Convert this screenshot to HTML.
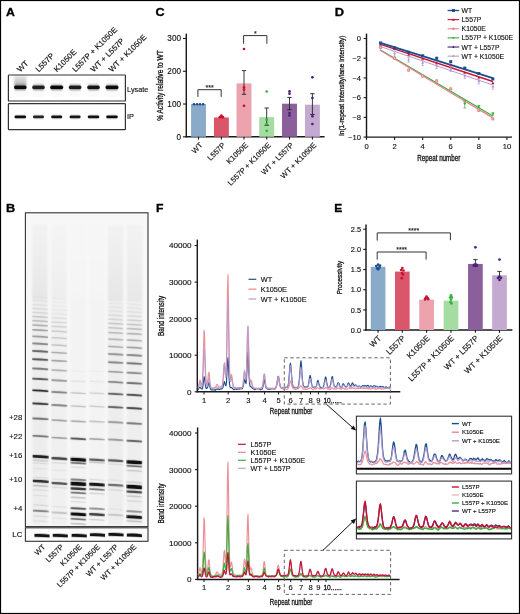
<!DOCTYPE html>
<html><head><meta charset="utf-8"><style>
html,body{margin:0;padding:0;background:#fff;}
body{width:520px;height:614px;overflow:hidden;}
svg{display:block;font-family:"Liberation Sans", sans-serif;will-change:transform;}
</style></head><body>
<svg width="520" height="614" viewBox="0 0 520 614">
<defs>
<filter id="blur1" x="-5%" y="-5%" width="110%" height="110%"><feGaussianBlur stdDeviation="0.55"/></filter>
<filter id="blurG" x="-5%" y="-5%" width="110%" height="110%"><feGaussianBlur stdDeviation="0.75"/></filter>
<filter id="blurA" x="-10%" y="-30%" width="120%" height="160%"><feGaussianBlur stdDeviation="0.75"/></filter>
<filter id="blur2" x="-10%" y="-10%" width="120%" height="120%"><feGaussianBlur stdDeviation="0.8"/></filter>
<filter id="blur3" x="-10%" y="-10%" width="120%" height="120%"><feGaussianBlur stdDeviation="1.4"/></filter>
<marker id="ah" viewBox="0 0 10 10" refX="9" refY="5" markerWidth="5" markerHeight="5" orient="auto"><path d="M0,0 L10,5 L0,10 z" fill="#111"/></marker>
</defs>
<rect x="0" y="0" width="520" height="614" fill="#fff"/>
<text x="5.90" y="16.00" font-size="11.0" text-anchor="start" font-weight="bold" fill="#000" textLength="8.9" lengthAdjust="spacingAndGlyphs" stroke="#000" stroke-width="0.3">A</text>
<text x="155.40" y="15.70" font-size="11.0" text-anchor="start" font-weight="bold" fill="#000" textLength="9.1" lengthAdjust="spacingAndGlyphs" stroke="#000" stroke-width="0.3">C</text>
<text x="334.80" y="15.70" font-size="11.0" text-anchor="start" font-weight="bold" fill="#000" textLength="9.3" lengthAdjust="spacingAndGlyphs" stroke="#000" stroke-width="0.3">D</text>
<text x="6.00" y="212.00" font-size="11.0" text-anchor="start" font-weight="bold" fill="#000" textLength="9.2" lengthAdjust="spacingAndGlyphs" stroke="#000" stroke-width="0.3">B</text>
<text x="155.90" y="212.00" font-size="11.0" text-anchor="start" font-weight="bold" fill="#000" textLength="7.5" lengthAdjust="spacingAndGlyphs" stroke="#000" stroke-width="0.3">F</text>
<text x="334.30" y="212.20" font-size="11.0" text-anchor="start" font-weight="bold" fill="#000" textLength="8.0" lengthAdjust="spacingAndGlyphs" stroke="#000" stroke-width="0.3">E</text>
<defs><linearGradient id="smearA" x1="0" y1="0" x2="0" y2="1"><stop offset="0" stop-color="#000" stop-opacity="0.1"/><stop offset="0.5" stop-color="#000" stop-opacity="0.17"/><stop offset="1" stop-color="#000" stop-opacity="0.3"/></linearGradient></defs>
<g filter="url(#blur2)">
<rect x="14.00" y="75.60" width="12.60" height="10.50" fill="url(#smearA)" stroke="none" stroke-width="1"/>
</g>
<g filter="url(#blurA)">
<rect x="14.55" y="78.00" width="11.50" height="19.00" fill="#000" stroke="none" stroke-width="1" fill-opacity="0.02" rx="3"/>
<rect x="13.75" y="83.60" width="13.10" height="7.60" fill="#000" stroke="none" stroke-width="1" fill-opacity="0.16" rx="3.5"/>
<rect x="14.05" y="85.60" width="12.50" height="3.60" fill="#000" stroke="none" stroke-width="1" fill-opacity="0.95" rx="1.8"/>
<rect x="32.75" y="78.00" width="11.50" height="19.00" fill="#000" stroke="none" stroke-width="1" fill-opacity="0.02" rx="3"/>
<rect x="31.95" y="83.60" width="13.10" height="7.60" fill="#000" stroke="none" stroke-width="1" fill-opacity="0.16" rx="3.5"/>
<rect x="32.25" y="85.60" width="12.50" height="3.60" fill="#000" stroke="none" stroke-width="1" fill-opacity="0.85" rx="1.8"/>
<rect x="50.70" y="78.00" width="12.00" height="19.00" fill="#000" stroke="none" stroke-width="1" fill-opacity="0.02" rx="3"/>
<rect x="49.90" y="83.60" width="13.60" height="7.60" fill="#000" stroke="none" stroke-width="1" fill-opacity="0.16" rx="3.5"/>
<rect x="50.20" y="85.60" width="13.00" height="3.60" fill="#000" stroke="none" stroke-width="1" fill-opacity="0.97" rx="1.8"/>
<rect x="69.35" y="78.00" width="11.50" height="19.00" fill="#000" stroke="none" stroke-width="1" fill-opacity="0.02" rx="3"/>
<rect x="68.55" y="83.60" width="13.10" height="7.60" fill="#000" stroke="none" stroke-width="1" fill-opacity="0.16" rx="3.5"/>
<rect x="68.85" y="85.60" width="12.50" height="3.60" fill="#000" stroke="none" stroke-width="1" fill-opacity="0.88" rx="1.8"/>
<rect x="87.75" y="78.00" width="11.50" height="19.00" fill="#000" stroke="none" stroke-width="1" fill-opacity="0.02" rx="3"/>
<rect x="86.95" y="83.60" width="13.10" height="7.60" fill="#000" stroke="none" stroke-width="1" fill-opacity="0.16" rx="3.5"/>
<rect x="87.25" y="85.60" width="12.50" height="3.60" fill="#000" stroke="none" stroke-width="1" fill-opacity="0.9" rx="1.8"/>
<rect x="106.00" y="78.00" width="12.00" height="19.00" fill="#000" stroke="none" stroke-width="1" fill-opacity="0.02" rx="3"/>
<rect x="105.20" y="83.60" width="13.60" height="7.60" fill="#000" stroke="none" stroke-width="1" fill-opacity="0.16" rx="3.5"/>
<rect x="105.50" y="85.60" width="13.00" height="3.60" fill="#000" stroke="none" stroke-width="1" fill-opacity="0.95" rx="1.8"/>
<rect x="14.35" y="114.20" width="11.90" height="5.40" fill="#000" stroke="none" stroke-width="1" fill-opacity="0.1" rx="2.5"/>
<rect x="14.55" y="115.40" width="11.50" height="2.90" fill="#000" stroke="none" stroke-width="1" fill-opacity="0.95" rx="1.4"/>
<rect x="32.80" y="114.20" width="11.40" height="5.40" fill="#000" stroke="none" stroke-width="1" fill-opacity="0.1" rx="2.5"/>
<rect x="33.00" y="115.40" width="11.00" height="2.90" fill="#000" stroke="none" stroke-width="1" fill-opacity="0.85" rx="1.4"/>
<rect x="51.00" y="114.20" width="11.40" height="5.40" fill="#000" stroke="none" stroke-width="1" fill-opacity="0.1" rx="2.5"/>
<rect x="51.20" y="115.40" width="11.00" height="2.90" fill="#000" stroke="none" stroke-width="1" fill-opacity="0.92" rx="1.4"/>
<rect x="69.40" y="114.20" width="11.40" height="5.40" fill="#000" stroke="none" stroke-width="1" fill-opacity="0.1" rx="2.5"/>
<rect x="69.60" y="115.40" width="11.00" height="2.90" fill="#000" stroke="none" stroke-width="1" fill-opacity="0.9" rx="1.4"/>
<rect x="87.55" y="114.20" width="11.90" height="5.40" fill="#000" stroke="none" stroke-width="1" fill-opacity="0.1" rx="2.5"/>
<rect x="87.75" y="115.40" width="11.50" height="2.90" fill="#000" stroke="none" stroke-width="1" fill-opacity="0.92" rx="1.4"/>
<rect x="106.05" y="114.20" width="11.90" height="5.40" fill="#000" stroke="none" stroke-width="1" fill-opacity="0.1" rx="2.5"/>
<rect x="106.25" y="115.40" width="11.50" height="2.90" fill="#000" stroke="none" stroke-width="1" fill-opacity="0.95" rx="1.4"/>
</g>
<rect x="8.40" y="75.00" width="117.00" height="26.00" fill="none" stroke="#333" stroke-width="1.2" rx="0.6"/>
<rect x="8.40" y="103.70" width="117.00" height="25.90" fill="none" stroke="#333" stroke-width="1.2" rx="0.6"/>
<text x="127.10" y="91.70" font-size="7.3" text-anchor="start" font-weight="normal" fill="#111" stroke="#111" stroke-width="0.14">Lysate</text>
<text x="127.10" y="118.90" font-size="7.3" text-anchor="start" font-weight="normal" fill="#111" stroke="#111" stroke-width="0.14">IP</text>
<text transform="translate(20.30,72.50) rotate(-45)" x="0" y="0" font-size="7.9" text-anchor="start" font-weight="normal" fill="#111" stroke="#111" stroke-width="0.14">WT</text>
<text transform="translate(38.66,72.50) rotate(-45)" x="0" y="0" font-size="7.9" text-anchor="start" font-weight="normal" fill="#111" stroke="#111" stroke-width="0.14">L557P</text>
<text transform="translate(57.02,72.50) rotate(-45)" x="0" y="0" font-size="7.9" text-anchor="start" font-weight="normal" fill="#111" stroke="#111" stroke-width="0.14">K1050E</text>
<text transform="translate(75.38,72.50) rotate(-45)" x="0" y="0" font-size="7.9" text-anchor="start" font-weight="normal" fill="#111" stroke="#111" stroke-width="0.14">L557P + K1050E</text>
<text transform="translate(93.74,72.50) rotate(-45)" x="0" y="0" font-size="7.9" text-anchor="start" font-weight="normal" fill="#111" stroke="#111" stroke-width="0.14">WT + L557P</text>
<text transform="translate(112.10,72.50) rotate(-45)" x="0" y="0" font-size="7.9" text-anchor="start" font-weight="normal" fill="#111" stroke="#111" stroke-width="0.14">WT + K1050E</text>
<line x1="186.30" y1="33.60" x2="186.30" y2="137.40" stroke="#1a1a1a" stroke-width="1.45"/>
<line x1="185.60" y1="136.80" x2="324.60" y2="136.80" stroke="#1a1a1a" stroke-width="1.45"/>
<line x1="183.00" y1="136.80" x2="186.30" y2="136.80" stroke="#1a1a1a" stroke-width="1.1"/>
<text x="181.00" y="139.75" font-size="8.2" text-anchor="end" font-weight="normal" fill="#111" stroke="#111" stroke-width="0.14">0</text>
<line x1="183.00" y1="104.03" x2="186.30" y2="104.03" stroke="#1a1a1a" stroke-width="1.1"/>
<text x="181.00" y="106.98" font-size="8.2" text-anchor="end" font-weight="normal" fill="#111" stroke="#111" stroke-width="0.14">100</text>
<line x1="183.00" y1="71.26" x2="186.30" y2="71.26" stroke="#1a1a1a" stroke-width="1.1"/>
<text x="181.00" y="74.21" font-size="8.2" text-anchor="end" font-weight="normal" fill="#111" stroke="#111" stroke-width="0.14">200</text>
<line x1="183.00" y1="38.49" x2="186.30" y2="38.49" stroke="#1a1a1a" stroke-width="1.1"/>
<text x="181.00" y="41.44" font-size="8.2" text-anchor="end" font-weight="normal" fill="#111" stroke="#111" stroke-width="0.14">300</text>
<text transform="translate(163.20,85.60) rotate(-90)" x="0" y="0" font-size="8.6" text-anchor="middle" font-weight="normal" fill="#111" textLength="70.5" lengthAdjust="spacingAndGlyphs" stroke="#111" stroke-width="0.3">% Activity relative to WT</text>
<rect x="191.05" y="104.03" width="14.90" height="32.77" fill="#8aaac9" stroke="none" stroke-width="1"/>
<rect x="213.95" y="117.47" width="14.90" height="19.33" fill="#d9566b" stroke="none" stroke-width="1"/>
<rect x="236.55" y="83.38" width="14.90" height="53.42" fill="#eca3ad" stroke="none" stroke-width="1"/>
<rect x="259.25" y="117.14" width="14.90" height="19.66" fill="#a4dca1" stroke="none" stroke-width="1"/>
<rect x="282.05" y="103.70" width="14.90" height="33.10" fill="#8b5f9b" stroke="none" stroke-width="1"/>
<rect x="304.95" y="104.69" width="14.90" height="32.11" fill="#c4a9d1" stroke="none" stroke-width="1"/>
<line x1="198.50" y1="136.80" x2="198.50" y2="139.60" stroke="#1a1a1a" stroke-width="1.1"/>
<line x1="221.40" y1="136.80" x2="221.40" y2="139.60" stroke="#1a1a1a" stroke-width="1.1"/>
<line x1="244.00" y1="136.80" x2="244.00" y2="139.60" stroke="#1a1a1a" stroke-width="1.1"/>
<line x1="266.70" y1="136.80" x2="266.70" y2="139.60" stroke="#1a1a1a" stroke-width="1.1"/>
<line x1="289.50" y1="136.80" x2="289.50" y2="139.60" stroke="#1a1a1a" stroke-width="1.1"/>
<line x1="312.40" y1="136.80" x2="312.40" y2="139.60" stroke="#1a1a1a" stroke-width="1.1"/>
<line x1="244.00" y1="70.60" x2="244.00" y2="94.30" stroke="#222" stroke-width="0.9"/>
<line x1="241.80" y1="70.60" x2="246.20" y2="70.60" stroke="#222" stroke-width="0.9"/>
<line x1="241.80" y1="94.30" x2="246.20" y2="94.30" stroke="#222" stroke-width="0.9"/>
<line x1="266.70" y1="108.00" x2="266.70" y2="125.30" stroke="#222" stroke-width="0.9"/>
<line x1="264.50" y1="108.00" x2="268.90" y2="108.00" stroke="#222" stroke-width="0.9"/>
<line x1="264.50" y1="125.30" x2="268.90" y2="125.30" stroke="#222" stroke-width="0.9"/>
<line x1="289.50" y1="97.40" x2="289.50" y2="109.70" stroke="#222" stroke-width="0.9"/>
<line x1="287.30" y1="97.40" x2="291.70" y2="97.40" stroke="#222" stroke-width="0.9"/>
<line x1="287.30" y1="109.70" x2="291.70" y2="109.70" stroke="#222" stroke-width="0.9"/>
<line x1="312.40" y1="93.70" x2="312.40" y2="114.50" stroke="#222" stroke-width="0.9"/>
<line x1="310.20" y1="93.70" x2="314.60" y2="93.70" stroke="#222" stroke-width="0.9"/>
<line x1="310.20" y1="114.50" x2="314.60" y2="114.50" stroke="#222" stroke-width="0.9"/>
<circle cx="193.90" cy="104.20" r="1.3" fill="#1b4f8c"/>
<circle cx="197.00" cy="104.20" r="1.3" fill="#1b4f8c"/>
<circle cx="200.00" cy="104.20" r="1.3" fill="#1b4f8c"/>
<circle cx="203.10" cy="104.20" r="1.3" fill="#1b4f8c"/>
<circle cx="219.80" cy="117.20" r="1.35" fill="#c8112f"/>
<circle cx="221.40" cy="115.60" r="1.35" fill="#c8112f"/>
<circle cx="223.00" cy="117.20" r="1.35" fill="#c8112f"/>
<circle cx="221.40" cy="117.00" r="1.35" fill="#c8112f"/>
<circle cx="244.00" cy="49.00" r="1.35" fill="#c8112f"/>
<circle cx="244.00" cy="87.40" r="1.35" fill="#c8112f"/>
<circle cx="244.00" cy="89.60" r="1.35" fill="#c8112f"/>
<circle cx="244.00" cy="105.80" r="1.35" fill="#c8112f"/>
<circle cx="266.70" cy="91.50" r="1.35" fill="#34b23c"/>
<circle cx="266.70" cy="119.70" r="1.35" fill="#34b23c"/>
<circle cx="266.70" cy="124.30" r="1.35" fill="#34b23c"/>
<circle cx="266.70" cy="130.80" r="1.35" fill="#34b23c"/>
<circle cx="289.50" cy="91.30" r="1.35" fill="#4f2279"/>
<circle cx="289.50" cy="93.70" r="1.35" fill="#4f2279"/>
<circle cx="289.50" cy="113.00" r="1.35" fill="#4f2279"/>
<circle cx="289.50" cy="115.40" r="1.35" fill="#4f2279"/>
<circle cx="312.40" cy="77.30" r="1.35" fill="#4f2279"/>
<circle cx="312.40" cy="98.00" r="1.35" fill="#4f2279"/>
<circle cx="312.40" cy="116.30" r="1.35" fill="#4f2279"/>
<circle cx="312.40" cy="124.00" r="1.35" fill="#4f2279"/>
<path d="M197.90,96.90 L197.90,89.70 L221.20,89.70 L221.20,96.90" fill="none" stroke="#333" stroke-width="1.0"/>
<text x="209.55" y="89.60" font-size="7" text-anchor="middle" font-weight="normal" fill="#222" stroke="#222" stroke-width="0.14">***</text>
<path d="M243.60,43.80 L243.60,35.60 L266.90,35.60 L266.90,43.80" fill="none" stroke="#333" stroke-width="1.0"/>
<text x="255.25" y="35.80" font-size="7" text-anchor="middle" font-weight="normal" fill="#222" stroke="#222" stroke-width="0.14">*</text>
<text transform="translate(203.00,145.60) rotate(-45)" x="0" y="0" font-size="7.55" text-anchor="end" font-weight="normal" fill="#111" stroke="#111" stroke-width="0.14">WT</text>
<text transform="translate(225.90,145.60) rotate(-45)" x="0" y="0" font-size="7.55" text-anchor="end" font-weight="normal" fill="#111" stroke="#111" stroke-width="0.14">L557P</text>
<text transform="translate(248.50,145.60) rotate(-45)" x="0" y="0" font-size="7.55" text-anchor="end" font-weight="normal" fill="#111" stroke="#111" stroke-width="0.14">K1050E</text>
<text transform="translate(271.20,145.60) rotate(-45)" x="0" y="0" font-size="7.55" text-anchor="end" font-weight="normal" fill="#111" stroke="#111" stroke-width="0.14">L557P + K1050E</text>
<text transform="translate(294.00,145.60) rotate(-45)" x="0" y="0" font-size="7.55" text-anchor="end" font-weight="normal" fill="#111" stroke="#111" stroke-width="0.14">WT + L557P</text>
<text transform="translate(316.90,145.60) rotate(-45)" x="0" y="0" font-size="7.55" text-anchor="end" font-weight="normal" fill="#111" stroke="#111" stroke-width="0.14">WT + K1050E</text>
<line x1="366.50" y1="33.60" x2="366.50" y2="137.70" stroke="#1a1a1a" stroke-width="1.45"/>
<line x1="365.90" y1="137.10" x2="512.00" y2="137.10" stroke="#1a1a1a" stroke-width="1.45"/>
<line x1="363.60" y1="38.50" x2="366.50" y2="38.50" stroke="#1a1a1a" stroke-width="1.1"/>
<text x="361.00" y="41.20" font-size="7.6" text-anchor="end" font-weight="normal" fill="#111" stroke="#111" stroke-width="0.14">0</text>
<line x1="363.60" y1="58.22" x2="366.50" y2="58.22" stroke="#1a1a1a" stroke-width="1.1"/>
<text x="361.00" y="60.92" font-size="7.6" text-anchor="end" font-weight="normal" fill="#111" stroke="#111" stroke-width="0.14">−2</text>
<line x1="363.60" y1="77.94" x2="366.50" y2="77.94" stroke="#1a1a1a" stroke-width="1.1"/>
<text x="361.00" y="80.64" font-size="7.6" text-anchor="end" font-weight="normal" fill="#111" stroke="#111" stroke-width="0.14">−4</text>
<line x1="363.60" y1="97.66" x2="366.50" y2="97.66" stroke="#1a1a1a" stroke-width="1.1"/>
<text x="361.00" y="100.36" font-size="7.6" text-anchor="end" font-weight="normal" fill="#111" stroke="#111" stroke-width="0.14">−6</text>
<line x1="363.60" y1="117.38" x2="366.50" y2="117.38" stroke="#1a1a1a" stroke-width="1.1"/>
<text x="361.00" y="120.08" font-size="7.6" text-anchor="end" font-weight="normal" fill="#111" stroke="#111" stroke-width="0.14">−8</text>
<line x1="363.60" y1="137.10" x2="366.50" y2="137.10" stroke="#1a1a1a" stroke-width="1.1"/>
<text x="361.00" y="139.80" font-size="7.6" text-anchor="end" font-weight="normal" fill="#111" stroke="#111" stroke-width="0.14">−10</text>
<line x1="366.50" y1="137.10" x2="366.50" y2="139.90" stroke="#1a1a1a" stroke-width="1.1"/>
<text x="366.50" y="149.30" font-size="7.6" text-anchor="middle" font-weight="normal" fill="#111" stroke="#111" stroke-width="0.14">0</text>
<line x1="394.58" y1="137.10" x2="394.58" y2="139.90" stroke="#1a1a1a" stroke-width="1.1"/>
<text x="394.58" y="149.30" font-size="7.6" text-anchor="middle" font-weight="normal" fill="#111" stroke="#111" stroke-width="0.14">2</text>
<line x1="422.66" y1="137.10" x2="422.66" y2="139.90" stroke="#1a1a1a" stroke-width="1.1"/>
<text x="422.66" y="149.30" font-size="7.6" text-anchor="middle" font-weight="normal" fill="#111" stroke="#111" stroke-width="0.14">4</text>
<line x1="450.74" y1="137.10" x2="450.74" y2="139.90" stroke="#1a1a1a" stroke-width="1.1"/>
<text x="450.74" y="149.30" font-size="7.6" text-anchor="middle" font-weight="normal" fill="#111" stroke="#111" stroke-width="0.14">6</text>
<line x1="478.82" y1="137.10" x2="478.82" y2="139.90" stroke="#1a1a1a" stroke-width="1.1"/>
<text x="478.82" y="149.30" font-size="7.6" text-anchor="middle" font-weight="normal" fill="#111" stroke="#111" stroke-width="0.14">8</text>
<line x1="506.90" y1="137.10" x2="506.90" y2="139.90" stroke="#1a1a1a" stroke-width="1.1"/>
<text x="506.90" y="149.30" font-size="7.6" text-anchor="middle" font-weight="normal" fill="#111" stroke="#111" stroke-width="0.14">10</text>
<text x="438.80" y="161.20" font-size="8.4" text-anchor="middle" font-weight="normal" fill="#111" textLength="43.2" lengthAdjust="spacingAndGlyphs" stroke="#111" stroke-width="0.3">Repeat number</text>
<text transform="translate(343.60,85.60) rotate(-90)" x="0" y="0" font-size="8" text-anchor="middle" font-weight="normal" fill="#111" textLength="100.3" lengthAdjust="spacingAndGlyphs" stroke="#111" stroke-width="0.3">ln(1-repeat intensity/lane intensity)</text>
<line x1="380.54" y1="46.59" x2="492.86" y2="85.04" stroke="#b99bd0" stroke-width="1.0"/>
<line x1="380.54" y1="49.94" x2="492.86" y2="116.00" stroke="#34b23c" stroke-width="1.2"/>
<line x1="380.54" y1="50.53" x2="492.86" y2="117.87" stroke="#e8848f" stroke-width="1.2"/>
<line x1="380.54" y1="44.42" x2="492.86" y2="81.49" stroke="#c8112f" stroke-width="1.4"/>
<line x1="380.54" y1="42.94" x2="492.86" y2="78.14" stroke="#1b4f8c" stroke-width="1.9"/>
<line x1="380.54" y1="45.40" x2="380.54" y2="50.33" stroke="#b99bd0" stroke-width="0.7"/>
<line x1="379.24" y1="45.40" x2="381.84" y2="45.40" stroke="#b99bd0" stroke-width="0.7"/>
<line x1="379.24" y1="50.33" x2="381.84" y2="50.33" stroke="#b99bd0" stroke-width="0.7"/>
<path d="M379.14,47.87 L380.54,46.47 L381.94,47.87 L380.54,49.27z" fill="#b99bd0"/>
<line x1="394.58" y1="51.32" x2="394.58" y2="56.25" stroke="#b99bd0" stroke-width="0.7"/>
<line x1="393.28" y1="51.32" x2="395.88" y2="51.32" stroke="#b99bd0" stroke-width="0.7"/>
<line x1="393.28" y1="56.25" x2="395.88" y2="56.25" stroke="#b99bd0" stroke-width="0.7"/>
<path d="M393.18,53.78 L394.58,52.38 L395.98,53.78 L394.58,55.18z" fill="#b99bd0"/>
<line x1="408.62" y1="57.23" x2="408.62" y2="62.16" stroke="#b99bd0" stroke-width="0.7"/>
<line x1="407.32" y1="57.23" x2="409.92" y2="57.23" stroke="#b99bd0" stroke-width="0.7"/>
<line x1="407.32" y1="62.16" x2="409.92" y2="62.16" stroke="#b99bd0" stroke-width="0.7"/>
<path d="M407.22,59.70 L408.62,58.30 L410.02,59.70 L408.62,61.10z" fill="#b99bd0"/>
<line x1="422.66" y1="60.69" x2="422.66" y2="65.61" stroke="#b99bd0" stroke-width="0.7"/>
<line x1="421.36" y1="60.69" x2="423.96" y2="60.69" stroke="#b99bd0" stroke-width="0.7"/>
<line x1="421.36" y1="65.61" x2="423.96" y2="65.61" stroke="#b99bd0" stroke-width="0.7"/>
<path d="M421.26,63.15 L422.66,61.75 L424.06,63.15 L422.66,64.55z" fill="#b99bd0"/>
<line x1="436.70" y1="63.64" x2="436.70" y2="68.57" stroke="#b99bd0" stroke-width="0.7"/>
<line x1="435.40" y1="63.64" x2="438.00" y2="63.64" stroke="#b99bd0" stroke-width="0.7"/>
<line x1="435.40" y1="68.57" x2="438.00" y2="68.57" stroke="#b99bd0" stroke-width="0.7"/>
<path d="M435.30,66.11 L436.70,64.71 L438.10,66.11 L436.70,67.51z" fill="#b99bd0"/>
<line x1="450.74" y1="66.60" x2="450.74" y2="71.53" stroke="#b99bd0" stroke-width="0.7"/>
<line x1="449.44" y1="66.60" x2="452.04" y2="66.60" stroke="#b99bd0" stroke-width="0.7"/>
<line x1="449.44" y1="71.53" x2="452.04" y2="71.53" stroke="#b99bd0" stroke-width="0.7"/>
<path d="M449.34,69.07 L450.74,67.67 L452.14,69.07 L450.74,70.47z" fill="#b99bd0"/>
<line x1="464.78" y1="73.50" x2="464.78" y2="78.43" stroke="#b99bd0" stroke-width="0.7"/>
<line x1="463.48" y1="73.50" x2="466.08" y2="73.50" stroke="#b99bd0" stroke-width="0.7"/>
<line x1="463.48" y1="78.43" x2="466.08" y2="78.43" stroke="#b99bd0" stroke-width="0.7"/>
<path d="M463.38,75.97 L464.78,74.57 L466.18,75.97 L464.78,77.37z" fill="#b99bd0"/>
<line x1="478.82" y1="78.93" x2="478.82" y2="83.86" stroke="#b99bd0" stroke-width="0.7"/>
<line x1="477.52" y1="78.93" x2="480.12" y2="78.93" stroke="#b99bd0" stroke-width="0.7"/>
<line x1="477.52" y1="83.86" x2="480.12" y2="83.86" stroke="#b99bd0" stroke-width="0.7"/>
<path d="M477.42,81.39 L478.82,79.99 L480.22,81.39 L478.82,82.79z" fill="#b99bd0"/>
<line x1="492.86" y1="84.35" x2="492.86" y2="89.28" stroke="#b99bd0" stroke-width="0.7"/>
<line x1="491.56" y1="84.35" x2="494.16" y2="84.35" stroke="#b99bd0" stroke-width="0.7"/>
<line x1="491.56" y1="89.28" x2="494.16" y2="89.28" stroke="#b99bd0" stroke-width="0.7"/>
<path d="M491.46,86.81 L492.86,85.41 L494.26,86.81 L492.86,88.21z" fill="#b99bd0"/>
<line x1="380.54" y1="46.39" x2="380.54" y2="48.36" stroke="#e8848f" stroke-width="0.7"/>
<line x1="379.24" y1="46.39" x2="381.84" y2="46.39" stroke="#e8848f" stroke-width="0.7"/>
<line x1="379.24" y1="48.36" x2="381.84" y2="48.36" stroke="#e8848f" stroke-width="0.7"/>
<circle cx="380.54" cy="47.37" r="1.6" fill="#e8848f"/>
<circle cx="380.54" cy="47.37" r="0.6" fill="#f6c9cf"/>
<line x1="394.58" y1="57.23" x2="394.58" y2="59.21" stroke="#e8848f" stroke-width="0.7"/>
<line x1="393.28" y1="57.23" x2="395.88" y2="57.23" stroke="#e8848f" stroke-width="0.7"/>
<line x1="393.28" y1="59.21" x2="395.88" y2="59.21" stroke="#e8848f" stroke-width="0.7"/>
<circle cx="394.58" cy="58.22" r="1.6" fill="#e8848f"/>
<circle cx="394.58" cy="58.22" r="0.6" fill="#f6c9cf"/>
<line x1="408.62" y1="69.07" x2="408.62" y2="71.04" stroke="#e8848f" stroke-width="0.7"/>
<line x1="407.32" y1="69.07" x2="409.92" y2="69.07" stroke="#e8848f" stroke-width="0.7"/>
<line x1="407.32" y1="71.04" x2="409.92" y2="71.04" stroke="#e8848f" stroke-width="0.7"/>
<circle cx="408.62" cy="70.05" r="1.6" fill="#e8848f"/>
<circle cx="408.62" cy="70.05" r="0.6" fill="#f6c9cf"/>
<line x1="422.66" y1="74.98" x2="422.66" y2="76.95" stroke="#e8848f" stroke-width="0.7"/>
<line x1="421.36" y1="74.98" x2="423.96" y2="74.98" stroke="#e8848f" stroke-width="0.7"/>
<line x1="421.36" y1="76.95" x2="423.96" y2="76.95" stroke="#e8848f" stroke-width="0.7"/>
<circle cx="422.66" cy="75.97" r="1.6" fill="#e8848f"/>
<circle cx="422.66" cy="75.97" r="0.6" fill="#f6c9cf"/>
<line x1="436.70" y1="79.91" x2="436.70" y2="81.88" stroke="#e8848f" stroke-width="0.7"/>
<line x1="435.40" y1="79.91" x2="438.00" y2="79.91" stroke="#e8848f" stroke-width="0.7"/>
<line x1="435.40" y1="81.88" x2="438.00" y2="81.88" stroke="#e8848f" stroke-width="0.7"/>
<circle cx="436.70" cy="80.90" r="1.6" fill="#e8848f"/>
<circle cx="436.70" cy="80.90" r="0.6" fill="#f6c9cf"/>
<line x1="450.74" y1="87.80" x2="450.74" y2="89.77" stroke="#e8848f" stroke-width="0.7"/>
<line x1="449.44" y1="87.80" x2="452.04" y2="87.80" stroke="#e8848f" stroke-width="0.7"/>
<line x1="449.44" y1="89.77" x2="452.04" y2="89.77" stroke="#e8848f" stroke-width="0.7"/>
<circle cx="450.74" cy="88.79" r="1.6" fill="#e8848f"/>
<circle cx="450.74" cy="88.79" r="0.6" fill="#f6c9cf"/>
<line x1="464.78" y1="100.12" x2="464.78" y2="102.10" stroke="#e8848f" stroke-width="0.7"/>
<line x1="463.48" y1="100.12" x2="466.08" y2="100.12" stroke="#e8848f" stroke-width="0.7"/>
<line x1="463.48" y1="102.10" x2="466.08" y2="102.10" stroke="#e8848f" stroke-width="0.7"/>
<circle cx="464.78" cy="101.11" r="1.6" fill="#e8848f"/>
<circle cx="464.78" cy="101.11" r="0.6" fill="#f6c9cf"/>
<line x1="478.82" y1="109.49" x2="478.82" y2="111.46" stroke="#e8848f" stroke-width="0.7"/>
<line x1="477.52" y1="109.49" x2="480.12" y2="109.49" stroke="#e8848f" stroke-width="0.7"/>
<line x1="477.52" y1="111.46" x2="480.12" y2="111.46" stroke="#e8848f" stroke-width="0.7"/>
<circle cx="478.82" cy="110.48" r="1.6" fill="#e8848f"/>
<circle cx="478.82" cy="110.48" r="0.6" fill="#f6c9cf"/>
<line x1="492.86" y1="117.87" x2="492.86" y2="119.84" stroke="#e8848f" stroke-width="0.7"/>
<line x1="491.56" y1="117.87" x2="494.16" y2="117.87" stroke="#e8848f" stroke-width="0.7"/>
<line x1="491.56" y1="119.84" x2="494.16" y2="119.84" stroke="#e8848f" stroke-width="0.7"/>
<circle cx="492.86" cy="118.86" r="1.6" fill="#e8848f"/>
<circle cx="492.86" cy="118.86" r="0.6" fill="#f6c9cf"/>
<line x1="464.78" y1="100.12" x2="464.78" y2="108.01" stroke="#34b23c" stroke-width="0.7"/>
<line x1="463.48" y1="100.12" x2="466.08" y2="100.12" stroke="#34b23c" stroke-width="0.7"/>
<line x1="463.48" y1="108.01" x2="466.08" y2="108.01" stroke="#34b23c" stroke-width="0.7"/>
<path d="M463.28,102.97 L466.28,102.97 L464.78,105.27z" fill="#34b23c"/>
<line x1="478.82" y1="105.35" x2="478.82" y2="107.72" stroke="#34b23c" stroke-width="0.7"/>
<line x1="477.52" y1="105.35" x2="480.12" y2="105.35" stroke="#34b23c" stroke-width="0.7"/>
<line x1="477.52" y1="107.72" x2="480.12" y2="107.72" stroke="#34b23c" stroke-width="0.7"/>
<path d="M477.32,105.43 L480.32,105.43 L478.82,107.73z" fill="#34b23c"/>
<line x1="492.86" y1="112.75" x2="492.86" y2="115.11" stroke="#34b23c" stroke-width="0.7"/>
<line x1="491.56" y1="112.75" x2="494.16" y2="112.75" stroke="#34b23c" stroke-width="0.7"/>
<line x1="491.56" y1="115.11" x2="494.16" y2="115.11" stroke="#34b23c" stroke-width="0.7"/>
<path d="M491.36,112.83 L494.36,112.83 L492.86,115.13z" fill="#34b23c"/>
<path d="M379.04,45.52 L382.04,45.52 L380.54,43.12z" fill="#c8112f"/>
<path d="M393.08,49.95 L396.08,49.95 L394.58,47.55z" fill="#c8112f"/>
<path d="M407.12,55.87 L410.12,55.87 L408.62,53.47z" fill="#c8112f"/>
<path d="M421.16,59.81 L424.16,59.81 L422.66,57.41z" fill="#c8112f"/>
<path d="M435.20,64.25 L438.20,64.25 L436.70,61.85z" fill="#c8112f"/>
<path d="M449.24,65.73 L452.24,65.73 L450.74,63.33z" fill="#c8112f"/>
<path d="M463.28,73.62 L466.28,73.62 L464.78,71.22z" fill="#c8112f"/>
<path d="M477.32,78.55 L480.32,78.55 L478.82,76.15z" fill="#c8112f"/>
<path d="M491.36,83.97 L494.36,83.97 L492.86,81.57z" fill="#c8112f"/>
<rect x="379.04" y="41.44" width="3.00" height="3.00" fill="#1b4f8c" stroke="none" stroke-width="1"/>
<rect x="393.08" y="46.37" width="3.00" height="3.00" fill="#1b4f8c" stroke="none" stroke-width="1"/>
<rect x="407.12" y="50.80" width="3.00" height="3.00" fill="#1b4f8c" stroke="none" stroke-width="1"/>
<rect x="421.16" y="54.25" width="3.00" height="3.00" fill="#1b4f8c" stroke="none" stroke-width="1"/>
<rect x="435.20" y="56.72" width="3.00" height="3.00" fill="#1b4f8c" stroke="none" stroke-width="1"/>
<rect x="449.24" y="60.17" width="3.00" height="3.00" fill="#1b4f8c" stroke="none" stroke-width="1"/>
<rect x="463.28" y="66.58" width="3.00" height="3.00" fill="#1b4f8c" stroke="none" stroke-width="1"/>
<rect x="477.32" y="72.00" width="3.00" height="3.00" fill="#1b4f8c" stroke="none" stroke-width="1"/>
<rect x="491.36" y="77.43" width="3.00" height="3.00" fill="#1b4f8c" stroke="none" stroke-width="1"/>
<line x1="447.60" y1="10.50" x2="459.20" y2="10.50" stroke="#1b4f8c" stroke-width="1.3"/>
<rect x="451.90" y="9.00" width="3.00" height="3.00" fill="#1b4f8c" stroke="none" stroke-width="1"/>
<text x="461.60" y="13.00" font-size="6.8" text-anchor="start" font-weight="normal" fill="#111" stroke="#111" stroke-width="0.14">WT</text>
<line x1="447.60" y1="19.63" x2="459.20" y2="19.63" stroke="#c8112f" stroke-width="1.1"/>
<path d="M452.00,20.63 L454.80,20.63 L453.40,18.33z" fill="#c8112f"/>
<text x="461.60" y="22.13" font-size="6.8" text-anchor="start" font-weight="normal" fill="#111" stroke="#111" stroke-width="0.14">L557P</text>
<line x1="447.60" y1="28.76" x2="459.20" y2="28.76" stroke="#e8848f" stroke-width="1.1"/>
<circle cx="453.40" cy="28.76" r="1.2" fill="#e8848f"/>
<text x="461.60" y="31.26" font-size="6.8" text-anchor="start" font-weight="normal" fill="#111" stroke="#111" stroke-width="0.14">K1050E</text>
<line x1="447.60" y1="37.89" x2="459.20" y2="37.89" stroke="#34b23c" stroke-width="1.1"/>
<path d="M452.00,36.89 L454.80,36.89 L453.40,39.19z" fill="#34b23c"/>
<text x="461.60" y="40.39" font-size="6.8" text-anchor="start" font-weight="normal" fill="#111" stroke="#111" stroke-width="0.14">L557P + K1050E</text>
<line x1="447.60" y1="47.02" x2="459.20" y2="47.02" stroke="#4f2279" stroke-width="1.1"/>
<path d="M452.10,47.02 L453.40,45.72 L454.70,47.02 L453.40,48.32z" fill="#4f2279"/>
<text x="461.60" y="49.52" font-size="6.8" text-anchor="start" font-weight="normal" fill="#111" stroke="#111" stroke-width="0.14">WT + L557P</text>
<line x1="447.60" y1="56.15" x2="459.20" y2="56.15" stroke="#b99bd0" stroke-width="1.1"/>
<path d="M452.10,56.15 L453.40,54.85 L454.70,56.15 L453.40,57.45z" fill="#b99bd0"/>
<text x="461.60" y="58.65" font-size="6.8" text-anchor="start" font-weight="normal" fill="#111" stroke="#111" stroke-width="0.14">WT + K1050E</text>
<rect x="25.40" y="212.80" width="122.60" height="313.80" fill="#f7f7f7" stroke="none" stroke-width="1"/>
<defs><linearGradient id="smB" x1="0" y1="0" x2="0" y2="1"><stop offset="0" stop-color="#000" stop-opacity="0.02"/><stop offset="0.6" stop-color="#000" stop-opacity="0.045"/><stop offset="1" stop-color="#000" stop-opacity="0.07"/></linearGradient></defs>
<g filter="url(#blur2)">
<rect x="32.10" y="225" width="15.30" height="75" fill="url(#smB)" opacity="1.0"/>
<rect x="32.10" y="300" width="15.30" height="225" fill="#000" opacity="0.040"/>
<rect x="51.35" y="225" width="15.30" height="75" fill="url(#smB)" opacity="0.55"/>
<rect x="51.35" y="300" width="15.30" height="225" fill="#000" opacity="0.027"/>
<rect x="70.35" y="225" width="15.30" height="75" fill="url(#smB)" opacity="0.15"/>
<rect x="70.35" y="300" width="15.30" height="225" fill="#000" opacity="0.014"/>
<rect x="89.05" y="225" width="15.30" height="75" fill="url(#smB)" opacity="0.15"/>
<rect x="89.05" y="300" width="15.30" height="225" fill="#000" opacity="0.014"/>
<rect x="107.95" y="225" width="15.30" height="75" fill="url(#smB)" opacity="1.0"/>
<rect x="107.95" y="300" width="15.30" height="225" fill="#000" opacity="0.040"/>
<rect x="126.85" y="225" width="15.30" height="75" fill="url(#smB)" opacity="0.9"/>
<rect x="126.85" y="300" width="15.30" height="225" fill="#000" opacity="0.037"/>
</g>
<defs><linearGradient id="laneG" x1="0" y1="0" x2="1" y2="0"><stop offset="0" stop-color="#fff" stop-opacity="0.5"/><stop offset="0.12" stop-color="#fff" stop-opacity="1"/><stop offset="0.88" stop-color="#fff" stop-opacity="1"/><stop offset="1" stop-color="#fff" stop-opacity="0.5"/></linearGradient><mask id="laneM" maskContentUnits="objectBoundingBox"><rect x="0" y="0" width="1" height="1" fill="url(#laneG)"/></mask></defs>
<g filter="url(#blurG)">
<g mask="url(#laneM)">
<path d="M32.44,434.01 Q40.59,434.11 48.74,435.01 L48.74,438.39 Q40.59,437.99 32.44,437.49z" fill="#000" fill-opacity="0.080"/>
<path d="M32.44,434.88 Q40.59,434.98 48.74,435.88 L48.74,437.52 Q40.59,437.12 32.44,436.62z" fill="#000" fill-opacity="0.460"/>
<path d="M32.33,416.61 Q40.48,416.71 48.63,417.61 L48.63,420.99 Q40.48,420.59 32.33,420.09z" fill="#000" fill-opacity="0.080"/>
<path d="M32.33,417.48 Q40.48,417.58 48.63,418.48 L48.63,420.12 Q40.48,419.72 32.33,419.22z" fill="#000" fill-opacity="0.460"/>
<path d="M32.24,401.61 Q40.39,401.71 48.54,402.61 L48.54,405.99 Q40.39,405.59 32.24,405.09z" fill="#000" fill-opacity="0.120"/>
<path d="M32.24,402.48 Q40.39,402.58 48.54,403.48 L48.54,405.12 Q40.39,404.72 32.24,404.22z" fill="#000" fill-opacity="0.690"/>
<path d="M32.16,388.51 Q40.31,388.61 48.46,389.51 L48.46,392.89 Q40.31,392.49 32.16,391.99z" fill="#000" fill-opacity="0.136"/>
<path d="M32.16,389.38 Q40.31,389.48 48.46,390.38 L48.46,392.02 Q40.31,391.62 32.16,391.12z" fill="#000" fill-opacity="0.782"/>
<path d="M32.09,376.81 Q40.24,376.91 48.39,377.81 L48.39,381.19 Q40.24,380.79 32.09,380.29z" fill="#000" fill-opacity="0.096"/>
<path d="M32.09,377.68 Q40.24,377.78 48.39,378.68 L48.39,380.32 Q40.24,379.92 32.09,379.42z" fill="#000" fill-opacity="0.552"/>
<path d="M32.02,366.71 Q40.17,366.81 48.32,367.71 L48.32,371.09 Q40.17,370.69 32.02,370.19z" fill="#000" fill-opacity="0.072"/>
<path d="M32.02,367.58 Q40.17,367.68 48.32,368.58 L48.32,370.22 Q40.17,369.82 32.02,369.32z" fill="#000" fill-opacity="0.414"/>
<path d="M31.97,357.31 Q40.12,357.41 48.27,358.31 L48.27,361.69 Q40.12,361.29 31.97,360.79z" fill="#000" fill-opacity="0.099"/>
<path d="M31.97,358.18 Q40.12,358.28 48.27,359.18 L48.27,360.82 Q40.12,360.42 31.97,359.92z" fill="#000" fill-opacity="0.570"/>
<path d="M31.92,349.21 Q40.07,349.31 48.22,350.21 L48.22,353.59 Q40.07,353.19 31.92,352.69z" fill="#000" fill-opacity="0.088"/>
<path d="M31.92,350.08 Q40.07,350.18 48.22,351.08 L48.22,352.72 Q40.07,352.32 31.92,351.82z" fill="#000" fill-opacity="0.506"/>
<path d="M31.87,341.71 Q40.02,341.81 48.17,342.71 L48.17,346.09 Q40.02,345.69 31.87,345.19z" fill="#000" fill-opacity="0.064"/>
<path d="M31.87,342.58 Q40.02,342.68 48.17,343.58 L48.17,345.22 Q40.02,344.82 31.87,344.32z" fill="#000" fill-opacity="0.368"/>
<path d="M31.82,334.51 Q39.97,334.61 48.12,335.51 L48.12,338.89 Q39.97,338.49 31.82,337.99z" fill="#000" fill-opacity="0.051"/>
<path d="M31.82,335.38 Q39.97,335.48 48.12,336.38 L48.12,338.02 Q39.97,337.62 31.82,337.12z" fill="#000" fill-opacity="0.294"/>
<path d="M31.78,328.22 Q39.93,328.32 48.08,329.22 L48.08,332.18 Q39.93,331.78 31.78,331.28z" fill="#000" fill-opacity="0.048"/>
<path d="M31.78,329.04 Q39.93,329.14 48.08,330.04 L48.08,331.36 Q39.93,330.96 31.78,330.46z" fill="#000" fill-opacity="0.276"/>
<path d="M31.75,323.42 Q39.90,323.52 48.05,324.42 L48.05,327.38 Q39.90,326.98 31.75,326.48z" fill="#000" fill-opacity="0.038"/>
<path d="M31.75,324.24 Q39.90,324.34 48.05,325.24 L48.05,326.56 Q39.90,326.16 31.75,325.66z" fill="#000" fill-opacity="0.221"/>
<path d="M31.73,319.12 Q39.88,319.22 48.03,320.12 L48.03,323.08 Q39.88,322.68 31.73,322.18z" fill="#000" fill-opacity="0.030"/>
<path d="M31.73,319.94 Q39.88,320.04 48.03,320.94 L48.03,322.26 Q39.88,321.86 31.73,321.36z" fill="#000" fill-opacity="0.175"/>
<path d="M31.70,314.92 Q39.85,315.02 48.00,315.92 L48.00,318.88 Q39.85,318.48 31.70,317.98z" fill="#000" fill-opacity="0.022"/>
<path d="M31.70,315.74 Q39.85,315.84 48.00,316.74 L48.00,318.06 Q39.85,317.66 31.70,317.16z" fill="#000" fill-opacity="0.126"/>
<path d="M31.68,310.82 Q39.83,310.92 47.98,311.82 L47.98,314.78 Q39.83,314.38 31.68,313.88z" fill="#000" fill-opacity="0.016"/>
<path d="M31.68,311.64 Q39.83,311.74 47.98,312.64 L47.98,313.96 Q39.83,313.56 31.68,313.06z" fill="#000" fill-opacity="0.090"/>
<path d="M31.65,306.82 Q39.80,306.92 47.95,307.82 L47.95,310.78 Q39.80,310.38 31.65,309.88z" fill="#000" fill-opacity="0.011"/>
<path d="M31.65,307.64 Q39.80,307.74 47.95,308.64 L47.95,309.96 Q39.80,309.56 31.65,309.06z" fill="#000" fill-opacity="0.065"/>
<path d="M31.63,302.92 Q39.78,303.02 47.93,303.92 L47.93,306.88 Q39.78,306.48 31.63,305.98z" fill="#000" fill-opacity="0.008"/>
<path d="M31.63,303.74 Q39.78,303.84 47.93,304.74 L47.93,306.06 Q39.78,305.66 31.63,305.16z" fill="#000" fill-opacity="0.047"/>
<path d="M31.60,299.12 Q39.75,299.22 47.90,300.12 L47.90,303.08 Q39.75,302.68 31.60,302.18z" fill="#000" fill-opacity="0.006"/>
<path d="M31.60,299.94 Q39.75,300.04 47.90,300.94 L47.90,302.26 Q39.75,301.86 31.60,301.36z" fill="#000" fill-opacity="0.034"/>
<path d="M31.60,295.42 Q39.75,295.52 47.90,296.42 L47.90,299.38 Q39.75,298.98 31.60,298.48z" fill="#000" fill-opacity="0.004"/>
<path d="M31.60,296.24 Q39.75,296.34 47.90,297.24 L47.90,298.56 Q39.75,298.16 31.60,297.66z" fill="#000" fill-opacity="0.024"/>
<path d="M32.57,454.12 Q40.72,454.22 48.87,455.12 L48.87,459.48 Q40.72,459.08 32.57,458.58z" fill="#000" fill-opacity="0.147"/>
<path d="M32.57,455.10 Q40.72,455.20 48.87,456.10 L48.87,458.50 Q40.72,458.10 32.57,457.60z" fill="#000" fill-opacity="0.846"/>
<path d="M32.59,458.72 Q40.74,458.82 48.89,459.72 L48.89,462.68 Q40.74,462.28 32.59,461.78z" fill="#000" fill-opacity="0.022"/>
<path d="M32.59,459.54 Q40.74,459.64 48.89,460.54 L48.89,461.86 Q40.74,461.46 32.59,460.96z" fill="#000" fill-opacity="0.127"/>
<path d="M32.61,461.56 Q40.76,461.66 48.91,462.56 L48.91,465.24 Q40.76,464.84 32.61,464.34z" fill="#000" fill-opacity="0.012"/>
<path d="M32.61,462.35 Q40.76,462.45 48.91,463.35 L48.91,464.45 Q40.76,464.05 32.61,463.55z" fill="#000" fill-opacity="0.071"/>
<path d="M32.64,466.86 Q40.79,466.96 48.94,467.86 L48.94,470.54 Q40.79,470.14 32.64,469.64z" fill="#000" fill-opacity="0.009"/>
<path d="M32.64,467.65 Q40.79,467.75 48.94,468.65 L48.94,469.75 Q40.79,469.35 32.64,468.85z" fill="#000" fill-opacity="0.051"/>
<path d="M32.70,475.86 Q40.85,475.96 49.00,476.86 L49.00,479.54 Q40.85,479.14 32.70,478.64z" fill="#000" fill-opacity="0.012"/>
<path d="M32.70,476.65 Q40.85,476.75 49.00,477.65 L49.00,478.75 Q40.85,478.35 32.70,477.85z" fill="#000" fill-opacity="0.071"/>
<path d="M32.72,478.86 Q40.87,478.96 49.02,479.86 L49.02,483.94 Q40.87,483.54 32.72,483.04z" fill="#000" fill-opacity="0.136"/>
<path d="M32.72,479.81 Q40.87,479.91 49.02,480.81 L49.02,482.99 Q40.87,482.59 32.72,482.09z" fill="#000" fill-opacity="0.782"/>
<path d="M32.75,484.02 Q40.90,484.12 49.05,485.02 L49.05,487.98 Q40.90,487.58 32.75,487.08z" fill="#000" fill-opacity="0.026"/>
<path d="M32.75,484.84 Q40.90,484.94 49.05,485.84 L49.05,487.16 Q40.90,486.76 32.75,486.26z" fill="#000" fill-opacity="0.152"/>
<path d="M32.77,488.26 Q40.92,488.36 49.07,489.26 L49.07,491.94 Q40.92,491.54 32.77,491.04z" fill="#000" fill-opacity="0.011"/>
<path d="M32.77,489.05 Q40.92,489.15 49.07,490.05 L49.07,491.15 Q40.92,490.75 32.77,490.25z" fill="#000" fill-opacity="0.061"/>
<path d="M32.81,493.86 Q40.96,493.96 49.11,494.86 L49.11,497.54 Q40.96,497.14 32.81,496.64z" fill="#000" fill-opacity="0.009"/>
<path d="M32.81,494.65 Q40.96,494.75 49.11,495.65 L49.11,496.75 Q40.96,496.35 32.81,495.85z" fill="#000" fill-opacity="0.051"/>
<path d="M32.87,503.49 Q41.02,503.59 49.17,504.49 L49.17,507.31 Q41.02,506.91 32.87,506.41z" fill="#000" fill-opacity="0.013"/>
<path d="M32.87,504.30 Q41.02,504.40 49.17,505.30 L49.17,506.50 Q41.02,506.10 32.87,505.60z" fill="#000" fill-opacity="0.076"/>
<path d="M32.90,508.74 Q41.05,508.84 49.20,509.74 L49.20,513.26 Q41.05,512.86 32.90,512.36z" fill="#000" fill-opacity="0.067"/>
<path d="M32.90,509.63 Q41.05,509.73 49.20,510.63 L49.20,512.37 Q41.05,511.97 32.90,511.47z" fill="#000" fill-opacity="0.386"/>
<path d="M32.90,514.56 Q41.05,514.66 49.20,515.56 L49.20,518.24 Q41.05,517.84 32.90,517.34z" fill="#000" fill-opacity="0.011"/>
<path d="M32.90,515.35 Q41.05,515.45 49.20,516.35 L49.20,517.45 Q41.05,517.05 32.90,516.55z" fill="#000" fill-opacity="0.061"/>
<path d="M32.90,519.46 Q41.05,519.56 49.20,520.46 L49.20,523.14 Q41.05,522.74 32.90,522.24z" fill="#000" fill-opacity="0.009"/>
<path d="M32.90,520.25 Q41.05,520.35 49.20,521.25 L49.20,522.35 Q41.05,521.95 32.90,521.45z" fill="#000" fill-opacity="0.051"/>
</g>
<g mask="url(#laneM)">
<path d="M51.24,436.00 Q59.39,436.10 67.54,437.00 L67.54,439.96 Q59.39,439.56 51.24,439.06z" fill="#000" fill-opacity="0.048"/>
<path d="M51.24,436.83 Q59.39,436.93 67.54,437.83 L67.54,439.14 Q59.39,438.74 51.24,438.24z" fill="#000" fill-opacity="0.276"/>
<path d="M51.19,418.52 Q59.34,418.62 67.49,419.52 L67.49,422.49 Q59.34,422.09 51.19,421.59z" fill="#000" fill-opacity="0.048"/>
<path d="M51.19,419.35 Q59.34,419.45 67.49,420.35 L67.49,421.66 Q59.34,421.26 51.19,420.76z" fill="#000" fill-opacity="0.276"/>
<path d="M51.15,403.25 Q59.30,403.35 67.45,404.25 L67.45,407.64 Q59.30,407.24 51.15,406.74z" fill="#000" fill-opacity="0.067"/>
<path d="M51.15,404.12 Q59.30,404.22 67.45,405.12 L67.45,406.76 Q59.30,406.36 51.15,405.86z" fill="#000" fill-opacity="0.386"/>
<path d="M51.11,390.09 Q59.26,390.19 67.41,391.09 L67.41,394.48 Q59.26,394.08 51.11,393.58z" fill="#000" fill-opacity="0.067"/>
<path d="M51.11,390.97 Q59.26,391.07 67.41,391.97 L67.41,393.60 Q59.26,393.20 51.11,392.70z" fill="#000" fill-opacity="0.386"/>
<path d="M51.08,378.34 Q59.23,378.44 67.38,379.34 L67.38,382.73 Q59.23,382.33 51.08,381.83z" fill="#000" fill-opacity="0.053"/>
<path d="M51.08,379.22 Q59.23,379.32 67.38,380.22 L67.38,381.85 Q59.23,381.45 51.08,380.95z" fill="#000" fill-opacity="0.304"/>
<path d="M51.05,368.41 Q59.20,368.51 67.35,369.41 L67.35,372.37 Q59.20,371.97 51.05,371.47z" fill="#000" fill-opacity="0.038"/>
<path d="M51.05,369.24 Q59.20,369.34 67.35,370.24 L67.35,371.55 Q59.20,371.15 51.05,370.65z" fill="#000" fill-opacity="0.221"/>
<path d="M51.02,358.97 Q59.17,359.07 67.32,359.97 L67.32,362.93 Q59.17,362.53 51.02,362.03z" fill="#000" fill-opacity="0.048"/>
<path d="M51.02,359.79 Q59.17,359.89 67.32,360.79 L67.32,362.11 Q59.17,361.71 51.02,361.21z" fill="#000" fill-opacity="0.276"/>
<path d="M51.00,350.83 Q59.15,350.93 67.30,351.83 L67.30,354.80 Q59.15,354.40 51.00,353.90z" fill="#000" fill-opacity="0.042"/>
<path d="M51.00,351.66 Q59.15,351.76 67.30,352.66 L67.30,353.97 Q59.15,353.57 51.00,353.07z" fill="#000" fill-opacity="0.239"/>
<path d="M50.98,343.30 Q59.13,343.40 67.28,344.30 L67.28,347.27 Q59.13,346.87 50.98,346.37z" fill="#000" fill-opacity="0.029"/>
<path d="M50.98,344.13 Q59.13,344.23 67.28,345.13 L67.28,346.44 Q59.13,346.04 50.98,345.54z" fill="#000" fill-opacity="0.166"/>
<path d="M50.96,336.07 Q59.11,336.17 67.26,337.07 L67.26,340.03 Q59.11,339.63 50.96,339.13z" fill="#000" fill-opacity="0.024"/>
<path d="M50.96,336.90 Q59.11,337.00 67.26,337.90 L67.26,339.21 Q59.11,338.81 50.96,338.31z" fill="#000" fill-opacity="0.138"/>
<path d="M50.94,329.54 Q59.09,329.64 67.24,330.54 L67.24,333.51 Q59.09,333.11 50.94,332.61z" fill="#000" fill-opacity="0.021"/>
<path d="M50.94,330.37 Q59.09,330.47 67.24,331.37 L67.24,332.68 Q59.09,332.28 50.94,331.78z" fill="#000" fill-opacity="0.120"/>
<path d="M50.93,324.72 Q59.08,324.82 67.23,325.72 L67.23,328.69 Q59.08,328.29 50.93,327.79z" fill="#000" fill-opacity="0.018"/>
<path d="M50.93,325.55 Q59.08,325.65 67.23,326.55 L67.23,327.86 Q59.08,327.46 50.93,326.96z" fill="#000" fill-opacity="0.101"/>
<path d="M50.91,320.40 Q59.06,320.50 67.21,321.40 L67.21,324.37 Q59.06,323.97 50.91,323.47z" fill="#000" fill-opacity="0.014"/>
<path d="M50.91,321.23 Q59.06,321.33 67.21,322.23 L67.21,323.54 Q59.06,323.14 50.91,322.64z" fill="#000" fill-opacity="0.083"/>
<path d="M50.90,316.18 Q59.05,316.28 67.20,317.18 L67.20,320.15 Q59.05,319.75 50.90,319.25z" fill="#000" fill-opacity="0.010"/>
<path d="M50.90,317.01 Q59.05,317.11 67.20,318.01 L67.20,319.32 Q59.05,318.92 50.90,318.42z" fill="#000" fill-opacity="0.060"/>
<path d="M50.89,312.07 Q59.04,312.17 67.19,313.07 L67.19,316.03 Q59.04,315.63 50.89,315.13z" fill="#000" fill-opacity="0.008"/>
<path d="M50.89,312.89 Q59.04,312.99 67.19,313.89 L67.19,315.20 Q59.04,314.80 50.89,314.30z" fill="#000" fill-opacity="0.043"/>
<path d="M50.88,308.05 Q59.03,308.15 67.18,309.05 L67.18,312.01 Q59.03,311.61 50.88,311.11z" fill="#000" fill-opacity="0.005"/>
<path d="M50.88,308.88 Q59.03,308.98 67.18,309.88 L67.18,311.19 Q59.03,310.79 50.88,310.29z" fill="#000" fill-opacity="0.031"/>
<path d="M50.87,304.13 Q59.02,304.23 67.17,305.13 L67.17,308.10 Q59.02,307.70 50.87,307.20z" fill="#000" fill-opacity="0.004"/>
<path d="M50.87,304.96 Q59.02,305.06 67.17,305.96 L67.17,307.27 Q59.02,306.87 50.87,306.37z" fill="#000" fill-opacity="0.022"/>
<path d="M50.86,300.32 Q59.01,300.42 67.16,301.32 L67.16,304.28 Q59.01,303.88 50.86,303.38z" fill="#000" fill-opacity="0.003"/>
<path d="M50.86,301.14 Q59.01,301.24 67.16,302.14 L67.16,303.45 Q59.01,303.05 50.86,302.55z" fill="#000" fill-opacity="0.016"/>
<path d="M50.85,296.60 Q59.00,296.70 67.15,297.60 L67.15,300.57 Q59.00,300.17 50.85,299.67z" fill="#000" fill-opacity="0.002"/>
<path d="M50.85,297.43 Q59.00,297.53 67.15,298.43 L67.15,299.74 Q59.00,299.34 50.85,298.84z" fill="#000" fill-opacity="0.012"/>
<path d="M51.30,456.06 Q59.45,456.16 67.60,457.06 L67.60,461.14 Q59.45,460.74 51.30,460.24z" fill="#000" fill-opacity="0.115"/>
<path d="M51.30,457.01 Q59.45,457.11 67.60,458.01 L67.60,460.19 Q59.45,459.79 51.30,459.29z" fill="#000" fill-opacity="0.662"/>
<path d="M51.31,461.16 Q59.46,461.26 67.61,462.16 L67.61,464.84 Q59.46,464.44 51.31,463.94z" fill="#000" fill-opacity="0.013"/>
<path d="M51.31,461.95 Q59.46,462.05 67.61,462.95 L67.61,464.05 Q59.46,463.65 51.31,463.15z" fill="#000" fill-opacity="0.076"/>
<path d="M51.34,468.56 Q59.49,468.66 67.64,469.56 L67.64,472.24 Q59.49,471.84 51.34,471.34z" fill="#000" fill-opacity="0.007"/>
<path d="M51.34,469.35 Q59.49,469.45 67.64,470.35 L67.64,471.45 Q59.49,471.05 51.34,470.55z" fill="#000" fill-opacity="0.040"/>
<path d="M51.36,477.56 Q59.51,477.66 67.66,478.56 L67.66,481.24 Q59.51,480.84 51.36,480.34z" fill="#000" fill-opacity="0.009"/>
<path d="M51.36,478.35 Q59.51,478.45 67.66,479.35 L67.66,480.45 Q59.51,480.05 51.36,479.55z" fill="#000" fill-opacity="0.051"/>
<path d="M51.37,481.00 Q59.52,481.10 67.67,482.00 L67.67,485.80 Q59.52,485.40 51.37,484.90z" fill="#000" fill-opacity="0.106"/>
<path d="M51.37,481.92 Q59.52,482.02 67.67,482.92 L67.67,484.88 Q59.52,484.48 51.37,483.98z" fill="#000" fill-opacity="0.607"/>
<path d="M51.38,485.76 Q59.53,485.86 67.68,486.76 L67.68,489.44 Q59.53,489.04 51.38,488.54z" fill="#000" fill-opacity="0.013"/>
<path d="M51.38,486.55 Q59.53,486.65 67.68,487.55 L67.68,488.65 Q59.53,488.25 51.38,487.75z" fill="#000" fill-opacity="0.076"/>
<path d="M51.44,505.06 Q59.59,505.16 67.74,506.06 L67.74,508.74 Q59.59,508.34 51.44,507.84z" fill="#000" fill-opacity="0.009"/>
<path d="M51.44,505.85 Q59.59,505.95 67.74,506.85 L67.74,507.95 Q59.59,507.55 51.44,507.05z" fill="#000" fill-opacity="0.051"/>
<path d="M51.45,510.64 Q59.60,510.74 67.75,511.64 L67.75,515.16 Q59.60,514.76 51.45,514.26z" fill="#000" fill-opacity="0.026"/>
<path d="M51.45,511.53 Q59.60,511.63 67.75,512.53 L67.75,514.27 Q59.60,513.87 51.45,513.37z" fill="#000" fill-opacity="0.152"/>
<path d="M51.45,516.56 Q59.60,516.66 67.75,517.56 L67.75,520.24 Q59.60,519.84 51.45,519.34z" fill="#000" fill-opacity="0.007"/>
<path d="M51.45,517.35 Q59.60,517.45 67.75,518.35 L67.75,519.45 Q59.60,519.05 51.45,518.55z" fill="#000" fill-opacity="0.040"/>
</g>
<g mask="url(#laneM)">
<path d="M70.18,436.73 Q78.33,436.83 86.48,437.73 L86.48,441.12 Q78.33,440.72 70.18,440.22z" fill="#000" fill-opacity="0.099"/>
<path d="M70.18,437.60 Q78.33,437.70 86.48,438.60 L86.48,440.24 Q78.33,439.84 70.18,439.34z" fill="#000" fill-opacity="0.570"/>
<path d="M70.14,419.42 Q78.29,419.52 86.44,420.42 L86.44,423.39 Q78.29,422.99 70.14,422.49z" fill="#000" fill-opacity="0.042"/>
<path d="M70.14,420.25 Q78.29,420.35 86.44,421.25 L86.44,422.56 Q78.29,422.16 70.14,421.66z" fill="#000" fill-opacity="0.239"/>
<path d="M70.10,404.33 Q78.25,404.43 86.40,405.33 L86.40,408.29 Q78.25,407.89 70.10,407.39z" fill="#000" fill-opacity="0.029"/>
<path d="M70.10,405.15 Q78.25,405.25 86.40,406.15 L86.40,407.46 Q78.25,407.06 70.10,406.56z" fill="#000" fill-opacity="0.166"/>
<path d="M70.07,391.14 Q78.22,391.24 86.37,392.14 L86.37,395.10 Q78.22,394.70 70.07,394.20z" fill="#000" fill-opacity="0.024"/>
<path d="M70.07,391.97 Q78.22,392.07 86.37,392.97 L86.37,394.28 Q78.22,393.88 70.07,393.38z" fill="#000" fill-opacity="0.138"/>
<path d="M70.04,379.36 Q78.19,379.46 86.34,380.36 L86.34,383.33 Q78.19,382.93 70.04,382.43z" fill="#000" fill-opacity="0.010"/>
<path d="M70.04,380.19 Q78.19,380.29 86.34,381.19 L86.34,382.50 Q78.19,382.10 70.04,381.60z" fill="#000" fill-opacity="0.055"/>
<path d="M70.02,369.20 Q78.17,369.30 86.32,370.20 L86.32,373.16 Q78.17,372.76 70.02,372.26z" fill="#000" fill-opacity="0.003"/>
<path d="M70.02,370.02 Q78.17,370.12 86.32,371.02 L86.32,372.33 Q78.17,371.93 70.02,371.43z" fill="#000" fill-opacity="0.018"/>
<path d="M70.23,456.59 Q78.38,456.69 86.53,457.59 L86.53,462.81 Q78.38,462.41 70.23,461.91z" fill="#000" fill-opacity="0.160"/>
<path d="M70.23,457.68 Q78.38,457.78 86.53,458.68 L86.53,461.72 Q78.38,461.32 70.23,460.82z" fill="#000" fill-opacity="0.920"/>
<path d="M70.24,461.08 Q78.39,461.18 86.54,462.08 L86.54,465.32 Q78.39,464.92 70.24,464.42z" fill="#000" fill-opacity="0.080"/>
<path d="M70.24,461.94 Q78.39,462.04 86.54,462.94 L86.54,464.46 Q78.39,464.06 70.24,463.56z" fill="#000" fill-opacity="0.460"/>
<path d="M70.25,465.49 Q78.40,465.59 86.55,466.49 L86.55,469.31 Q78.40,468.91 70.25,468.41z" fill="#000" fill-opacity="0.013"/>
<path d="M70.25,466.30 Q78.40,466.40 86.55,467.30 L86.55,468.50 Q78.40,468.10 70.25,467.60z" fill="#000" fill-opacity="0.076"/>
<path d="M70.28,477.68 Q78.43,477.78 86.58,478.68 L86.58,481.92 Q78.43,481.52 70.28,481.02z" fill="#000" fill-opacity="0.072"/>
<path d="M70.28,478.54 Q78.43,478.64 86.58,479.54 L86.58,481.06 Q78.43,480.66 70.28,480.16z" fill="#000" fill-opacity="0.414"/>
<path d="M70.29,480.58 Q78.44,480.68 86.59,481.58 L86.59,487.22 Q78.44,486.82 70.29,486.32z" fill="#000" fill-opacity="0.160"/>
<path d="M70.29,481.72 Q78.44,481.82 86.59,482.72 L86.59,486.08 Q78.44,485.68 70.29,485.18z" fill="#000" fill-opacity="0.920"/>
<path d="M70.30,486.40 Q78.45,486.50 86.60,487.40 L86.60,491.20 Q78.45,490.80 70.30,490.30z" fill="#000" fill-opacity="0.128"/>
<path d="M70.30,487.32 Q78.45,487.42 86.60,488.32 L86.60,490.28 Q78.45,489.88 70.30,489.38z" fill="#000" fill-opacity="0.736"/>
<path d="M70.31,490.78 Q78.46,490.88 86.61,491.78 L86.61,495.02 Q78.46,494.62 70.31,494.12z" fill="#000" fill-opacity="0.080"/>
<path d="M70.31,491.64 Q78.46,491.74 86.61,492.64 L86.61,494.16 Q78.46,493.76 70.31,493.26z" fill="#000" fill-opacity="0.460"/>
<path d="M70.32,495.72 Q78.47,495.82 86.62,496.72 L86.62,499.68 Q78.47,499.28 70.32,498.78z" fill="#000" fill-opacity="0.026"/>
<path d="M70.32,496.54 Q78.47,496.64 86.62,497.54 L86.62,498.86 Q78.47,498.46 70.32,497.96z" fill="#000" fill-opacity="0.152"/>
<path d="M70.33,499.99 Q78.48,500.09 86.63,500.99 L86.63,503.81 Q78.48,503.41 70.33,502.91z" fill="#000" fill-opacity="0.013"/>
<path d="M70.33,500.80 Q78.48,500.90 86.63,501.80 L86.63,503.00 Q78.48,502.60 70.33,502.10z" fill="#000" fill-opacity="0.076"/>
<path d="M70.35,506.24 Q78.50,506.34 86.65,507.24 L86.65,510.76 Q78.50,510.36 70.35,509.86z" fill="#000" fill-opacity="0.099"/>
<path d="M70.35,507.13 Q78.50,507.23 86.65,508.13 L86.65,509.87 Q78.50,509.47 70.35,508.97z" fill="#000" fill-opacity="0.570"/>
<path d="M70.35,511.57 Q78.50,511.67 86.65,512.57 L86.65,517.23 Q78.50,516.83 70.35,516.33z" fill="#000" fill-opacity="0.160"/>
<path d="M70.35,512.60 Q78.50,512.70 86.65,513.60 L86.65,516.20 Q78.50,515.80 70.35,515.30z" fill="#000" fill-opacity="0.920"/>
<path d="M70.35,517.08 Q78.50,517.18 86.65,518.08 L86.65,521.32 Q78.50,520.92 70.35,520.42z" fill="#000" fill-opacity="0.080"/>
<path d="M70.35,517.94 Q78.50,518.04 86.65,518.94 L86.65,520.46 Q78.50,520.06 70.35,519.56z" fill="#000" fill-opacity="0.460"/>
<path d="M70.35,522.02 Q78.50,522.12 86.65,523.02 L86.65,525.98 Q78.50,525.58 70.35,525.08z" fill="#000" fill-opacity="0.026"/>
<path d="M70.35,522.84 Q78.50,522.94 86.65,523.84 L86.65,525.16 Q78.50,524.76 70.35,524.26z" fill="#000" fill-opacity="0.152"/>
</g>
<g mask="url(#laneM)">
<path d="M88.68,437.19 Q96.83,437.29 104.98,438.19 L104.98,441.15 Q96.83,440.75 88.68,440.25z" fill="#000" fill-opacity="0.048"/>
<path d="M88.68,438.01 Q96.83,438.11 104.98,439.01 L104.98,440.33 Q96.83,439.93 88.68,439.43z" fill="#000" fill-opacity="0.276"/>
<path d="M88.67,419.66 Q96.82,419.76 104.97,420.66 L104.97,423.63 Q96.82,423.23 88.67,422.73z" fill="#000" fill-opacity="0.029"/>
<path d="M88.67,420.49 Q96.82,420.59 104.97,421.49 L104.97,422.80 Q96.82,422.40 88.67,421.90z" fill="#000" fill-opacity="0.166"/>
<path d="M88.65,404.55 Q96.80,404.65 104.95,405.55 L104.95,408.52 Q96.80,408.12 88.65,407.62z" fill="#000" fill-opacity="0.022"/>
<path d="M88.65,405.38 Q96.80,405.48 104.95,406.38 L104.95,407.69 Q96.80,407.29 88.65,406.79z" fill="#000" fill-opacity="0.129"/>
<path d="M88.64,391.36 Q96.79,391.46 104.94,392.36 L104.94,395.32 Q96.79,394.92 88.64,394.42z" fill="#000" fill-opacity="0.019"/>
<path d="M88.64,392.19 Q96.79,392.29 104.94,393.19 L104.94,394.50 Q96.79,394.10 88.64,393.60z" fill="#000" fill-opacity="0.110"/>
<path d="M88.63,379.58 Q96.78,379.68 104.93,380.58 L104.93,383.54 Q96.78,383.14 88.63,382.64z" fill="#000" fill-opacity="0.008"/>
<path d="M88.63,380.40 Q96.78,380.50 104.93,381.40 L104.93,382.71 Q96.78,382.31 88.63,381.81z" fill="#000" fill-opacity="0.046"/>
<path d="M88.62,369.40 Q96.77,369.50 104.92,370.40 L104.92,373.37 Q96.77,372.97 88.62,372.47z" fill="#000" fill-opacity="0.003"/>
<path d="M88.62,370.23 Q96.77,370.33 104.92,371.23 L104.92,372.54 Q96.77,372.14 88.62,371.64z" fill="#000" fill-opacity="0.018"/>
<path d="M88.70,457.50 Q96.85,457.60 105.00,458.50 L105.00,462.30 Q96.85,461.90 88.70,461.40z" fill="#000" fill-opacity="0.099"/>
<path d="M88.70,458.42 Q96.85,458.52 105.00,459.42 L105.00,461.38 Q96.85,460.98 88.70,460.48z" fill="#000" fill-opacity="0.570"/>
<path d="M88.70,460.62 Q96.85,460.72 105.00,461.62 L105.00,464.58 Q96.85,464.18 88.70,463.68z" fill="#000" fill-opacity="0.026"/>
<path d="M88.70,461.44 Q96.85,461.54 105.00,462.44 L105.00,463.76 Q96.85,463.36 88.70,462.86z" fill="#000" fill-opacity="0.152"/>
<path d="M88.72,477.89 Q96.87,477.99 105.02,478.89 L105.02,481.71 Q96.87,481.31 88.72,480.81z" fill="#000" fill-opacity="0.013"/>
<path d="M88.72,478.70 Q96.87,478.80 105.02,479.70 L105.02,480.90 Q96.87,480.50 88.72,480.00z" fill="#000" fill-opacity="0.076"/>
<path d="M88.73,481.63 Q96.88,481.73 105.03,482.63 L105.03,487.57 Q96.88,487.17 88.73,486.67z" fill="#000" fill-opacity="0.152"/>
<path d="M88.73,482.69 Q96.88,482.79 105.03,483.69 L105.03,486.51 Q96.88,486.11 88.73,485.61z" fill="#000" fill-opacity="0.874"/>
<path d="M88.73,487.28 Q96.88,487.38 105.03,488.28 L105.03,491.52 Q96.88,491.12 88.73,490.62z" fill="#000" fill-opacity="0.080"/>
<path d="M88.73,488.14 Q96.88,488.24 105.03,489.14 L105.03,490.66 Q96.88,490.26 88.73,489.76z" fill="#000" fill-opacity="0.460"/>
<path d="M88.73,491.69 Q96.88,491.79 105.03,492.69 L105.03,495.51 Q96.88,495.11 88.73,494.61z" fill="#000" fill-opacity="0.018"/>
<path d="M88.73,492.50 Q96.88,492.60 105.03,493.50 L105.03,494.70 Q96.88,494.30 88.73,493.80z" fill="#000" fill-opacity="0.101"/>
<path d="M88.75,506.68 Q96.90,506.78 105.05,507.68 L105.05,510.92 Q96.90,510.52 88.75,510.02z" fill="#000" fill-opacity="0.058"/>
<path d="M88.75,507.54 Q96.90,507.64 105.05,508.54 L105.05,510.06 Q96.90,509.66 88.75,509.16z" fill="#000" fill-opacity="0.331"/>
<path d="M88.75,512.06 Q96.90,512.16 105.05,513.06 L105.05,517.14 Q96.90,516.74 88.75,516.24z" fill="#000" fill-opacity="0.120"/>
<path d="M88.75,513.01 Q96.90,513.11 105.05,514.01 L105.05,516.19 Q96.90,515.79 88.75,515.29z" fill="#000" fill-opacity="0.690"/>
<path d="M88.75,517.99 Q96.90,518.09 105.05,518.99 L105.05,521.81 Q96.90,521.41 88.75,520.91z" fill="#000" fill-opacity="0.018"/>
<path d="M88.75,518.80 Q96.90,518.90 105.05,519.80 L105.05,521.00 Q96.90,520.60 88.75,520.10z" fill="#000" fill-opacity="0.101"/>
</g>
<g mask="url(#laneM)">
<path d="M107.45,437.72 Q115.60,437.82 123.75,438.72 L123.75,442.11 Q115.60,441.71 107.45,441.21z" fill="#000" fill-opacity="0.051"/>
<path d="M107.45,438.59 Q115.60,438.69 123.75,439.59 L123.75,441.23 Q115.60,440.83 107.45,440.33z" fill="#000" fill-opacity="0.294"/>
<path d="M107.45,420.16 Q115.60,420.26 123.75,421.16 L123.75,424.55 Q115.60,424.15 107.45,423.65z" fill="#000" fill-opacity="0.051"/>
<path d="M107.45,421.04 Q115.60,421.14 123.75,422.04 L123.75,423.67 Q115.60,423.27 107.45,422.77z" fill="#000" fill-opacity="0.294"/>
<path d="M107.45,405.03 Q115.60,405.13 123.75,406.03 L123.75,409.41 Q115.60,409.01 107.45,408.51z" fill="#000" fill-opacity="0.090"/>
<path d="M107.45,405.90 Q115.60,406.00 123.75,406.90 L123.75,408.54 Q115.60,408.14 107.45,407.64z" fill="#000" fill-opacity="0.515"/>
<path d="M107.45,391.81 Q115.60,391.91 123.75,392.81 L123.75,396.20 Q115.60,395.80 107.45,395.30z" fill="#000" fill-opacity="0.086"/>
<path d="M107.45,392.68 Q115.60,392.78 123.75,393.68 L123.75,395.32 Q115.60,394.92 107.45,394.42z" fill="#000" fill-opacity="0.497"/>
<path d="M107.45,380.00 Q115.60,380.10 123.75,381.00 L123.75,384.39 Q115.60,383.99 107.45,383.49z" fill="#000" fill-opacity="0.067"/>
<path d="M107.45,380.88 Q115.60,380.98 123.75,381.88 L123.75,383.52 Q115.60,383.12 107.45,382.62z" fill="#000" fill-opacity="0.386"/>
<path d="M107.45,370.02 Q115.60,370.12 123.75,371.02 L123.75,373.99 Q115.60,373.59 107.45,373.09z" fill="#000" fill-opacity="0.048"/>
<path d="M107.45,370.85 Q115.60,370.95 123.75,371.85 L123.75,373.16 Q115.60,372.76 107.45,372.26z" fill="#000" fill-opacity="0.276"/>
<path d="M107.45,360.33 Q115.60,360.43 123.75,361.33 L123.75,364.72 Q115.60,364.32 107.45,363.82z" fill="#000" fill-opacity="0.064"/>
<path d="M107.45,361.20 Q115.60,361.30 123.75,362.20 L123.75,363.84 Q115.60,363.44 107.45,362.94z" fill="#000" fill-opacity="0.368"/>
<path d="M107.45,352.16 Q115.60,352.26 123.75,353.16 L123.75,356.54 Q115.60,356.14 107.45,355.64z" fill="#000" fill-opacity="0.054"/>
<path d="M107.45,353.03 Q115.60,353.13 123.75,354.03 L123.75,355.67 Q115.60,355.27 107.45,354.77z" fill="#000" fill-opacity="0.313"/>
<path d="M107.45,344.80 Q115.60,344.90 123.75,345.80 L123.75,348.76 Q115.60,348.36 107.45,347.86z" fill="#000" fill-opacity="0.042"/>
<path d="M107.45,345.63 Q115.60,345.73 123.75,346.63 L123.75,347.94 Q115.60,347.54 107.45,347.04z" fill="#000" fill-opacity="0.239"/>
<path d="M107.45,337.53 Q115.60,337.63 123.75,338.53 L123.75,341.50 Q115.60,341.10 107.45,340.60z" fill="#000" fill-opacity="0.034"/>
<path d="M107.45,338.36 Q115.60,338.46 123.75,339.36 L123.75,340.67 Q115.60,340.27 107.45,339.77z" fill="#000" fill-opacity="0.193"/>
<path d="M107.45,330.98 Q115.60,331.08 123.75,331.98 L123.75,334.94 Q115.60,334.54 107.45,334.04z" fill="#000" fill-opacity="0.030"/>
<path d="M107.45,331.80 Q115.60,331.90 123.75,332.80 L123.75,334.11 Q115.60,333.71 107.45,333.21z" fill="#000" fill-opacity="0.175"/>
<path d="M107.45,326.13 Q115.60,326.23 123.75,327.13 L123.75,330.10 Q115.60,329.70 107.45,329.20z" fill="#000" fill-opacity="0.026"/>
<path d="M107.45,326.96 Q115.60,327.06 123.75,327.96 L123.75,329.27 Q115.60,328.87 107.45,328.37z" fill="#000" fill-opacity="0.147"/>
<path d="M107.45,321.79 Q115.60,321.89 123.75,322.79 L123.75,325.76 Q115.60,325.36 107.45,324.86z" fill="#000" fill-opacity="0.021"/>
<path d="M107.45,322.62 Q115.60,322.72 123.75,323.62 L123.75,324.93 Q115.60,324.53 107.45,324.03z" fill="#000" fill-opacity="0.120"/>
<path d="M107.45,317.56 Q115.60,317.66 123.75,318.56 L123.75,321.52 Q115.60,321.12 107.45,320.62z" fill="#000" fill-opacity="0.015"/>
<path d="M107.45,318.38 Q115.60,318.48 123.75,319.38 L123.75,320.69 Q115.60,320.29 107.45,319.79z" fill="#000" fill-opacity="0.086"/>
<path d="M107.45,313.42 Q115.60,313.52 123.75,314.42 L123.75,317.38 Q115.60,316.98 107.45,316.48z" fill="#000" fill-opacity="0.011"/>
<path d="M107.45,314.25 Q115.60,314.35 123.75,315.25 L123.75,316.56 Q115.60,316.16 107.45,315.66z" fill="#000" fill-opacity="0.062"/>
<path d="M107.45,309.38 Q115.60,309.48 123.75,310.38 L123.75,313.35 Q115.60,312.95 107.45,312.45z" fill="#000" fill-opacity="0.008"/>
<path d="M107.45,310.21 Q115.60,310.31 123.75,311.21 L123.75,312.52 Q115.60,312.12 107.45,311.62z" fill="#000" fill-opacity="0.045"/>
<path d="M107.45,305.45 Q115.60,305.55 123.75,306.45 L123.75,309.41 Q115.60,309.01 107.45,308.51z" fill="#000" fill-opacity="0.006"/>
<path d="M107.45,306.27 Q115.60,306.37 123.75,307.27 L123.75,308.59 Q115.60,308.19 107.45,307.69z" fill="#000" fill-opacity="0.032"/>
<path d="M107.45,301.61 Q115.60,301.71 123.75,302.61 L123.75,305.58 Q115.60,305.18 107.45,304.68z" fill="#000" fill-opacity="0.004"/>
<path d="M107.45,302.44 Q115.60,302.54 123.75,303.44 L123.75,304.75 Q115.60,304.35 107.45,303.85z" fill="#000" fill-opacity="0.023"/>
<path d="M107.45,297.88 Q115.60,297.98 123.75,298.88 L123.75,301.85 Q115.60,301.45 107.45,300.95z" fill="#000" fill-opacity="0.003"/>
<path d="M107.45,298.71 Q115.60,298.81 123.75,299.71 L123.75,301.02 Q115.60,300.62 107.45,300.12z" fill="#000" fill-opacity="0.017"/>
<path d="M107.45,458.30 Q115.60,458.40 123.75,459.30 L123.75,463.10 Q115.60,462.70 107.45,462.20z" fill="#000" fill-opacity="0.099"/>
<path d="M107.45,459.22 Q115.60,459.32 123.75,460.22 L123.75,462.18 Q115.60,461.78 107.45,461.28z" fill="#000" fill-opacity="0.570"/>
<path d="M107.45,462.56 Q115.60,462.66 123.75,463.56 L123.75,466.24 Q115.60,465.84 107.45,465.34z" fill="#000" fill-opacity="0.011"/>
<path d="M107.45,463.35 Q115.60,463.45 123.75,464.35 L123.75,465.45 Q115.60,465.05 107.45,464.55z" fill="#000" fill-opacity="0.061"/>
<path d="M107.45,478.56 Q115.60,478.66 123.75,479.56 L123.75,482.24 Q115.60,481.84 107.45,481.34z" fill="#000" fill-opacity="0.007"/>
<path d="M107.45,479.35 Q115.60,479.45 123.75,480.35 L123.75,481.45 Q115.60,481.05 107.45,480.55z" fill="#000" fill-opacity="0.040"/>
<path d="M107.45,482.97 Q115.60,483.07 123.75,483.97 L123.75,487.63 Q115.60,487.23 107.45,486.73z" fill="#000" fill-opacity="0.083"/>
<path d="M107.45,483.87 Q115.60,483.97 123.75,484.87 L123.75,486.73 Q115.60,486.33 107.45,485.83z" fill="#000" fill-opacity="0.478"/>
<path d="M107.45,488.26 Q115.60,488.36 123.75,489.26 L123.75,491.94 Q115.60,491.54 107.45,491.04z" fill="#000" fill-opacity="0.013"/>
<path d="M107.45,489.05 Q115.60,489.15 123.75,490.05 L123.75,491.15 Q115.60,490.75 107.45,490.25z" fill="#000" fill-opacity="0.076"/>
<path d="M107.45,507.56 Q115.60,507.66 123.75,508.56 L123.75,511.24 Q115.60,510.84 107.45,510.34z" fill="#000" fill-opacity="0.007"/>
<path d="M107.45,508.35 Q115.60,508.45 123.75,509.35 L123.75,510.45 Q115.60,510.05 107.45,509.55z" fill="#000" fill-opacity="0.040"/>
<path d="M107.45,512.81 Q115.60,512.91 123.75,513.81 L123.75,517.19 Q115.60,516.79 107.45,516.29z" fill="#000" fill-opacity="0.023"/>
<path d="M107.45,513.68 Q115.60,513.78 123.75,514.68 L123.75,516.32 Q115.60,515.92 107.45,515.42z" fill="#000" fill-opacity="0.132"/>
</g>
<g mask="url(#laneM)">
<path d="M126.15,438.96 Q134.30,439.06 142.45,439.96 L142.45,443.34 Q134.30,442.94 126.15,442.44z" fill="#000" fill-opacity="0.090"/>
<path d="M126.15,439.83 Q134.30,439.93 142.45,440.83 L142.45,442.47 Q134.30,442.07 126.15,441.57z" fill="#000" fill-opacity="0.515"/>
<path d="M126.17,421.35 Q134.32,421.45 142.47,422.35 L142.47,425.73 Q134.32,425.33 126.17,424.83z" fill="#000" fill-opacity="0.074"/>
<path d="M126.17,422.22 Q134.32,422.32 142.47,423.22 L142.47,424.86 Q134.32,424.46 126.17,423.96z" fill="#000" fill-opacity="0.423"/>
<path d="M126.20,406.17 Q134.35,406.27 142.50,407.17 L142.50,410.55 Q134.35,410.15 126.20,409.65z" fill="#000" fill-opacity="0.109"/>
<path d="M126.20,407.04 Q134.35,407.14 142.50,408.04 L142.50,409.68 Q134.35,409.28 126.20,408.78z" fill="#000" fill-opacity="0.626"/>
<path d="M126.21,392.91 Q134.36,393.01 142.51,393.91 L142.51,397.30 Q134.36,396.90 126.21,396.40z" fill="#000" fill-opacity="0.102"/>
<path d="M126.21,393.79 Q134.36,393.89 142.51,394.79 L142.51,396.42 Q134.36,396.02 126.21,395.52z" fill="#000" fill-opacity="0.589"/>
<path d="M126.23,381.07 Q134.38,381.17 142.53,382.07 L142.53,385.46 Q134.38,385.06 126.23,384.56z" fill="#000" fill-opacity="0.080"/>
<path d="M126.23,381.95 Q134.38,382.05 142.53,382.95 L142.53,384.58 Q134.38,384.18 126.23,383.68z" fill="#000" fill-opacity="0.460"/>
<path d="M126.25,370.85 Q134.40,370.95 142.55,371.85 L142.55,375.24 Q134.40,374.84 126.25,374.34z" fill="#000" fill-opacity="0.059"/>
<path d="M126.25,371.72 Q134.40,371.82 142.55,372.72 L142.55,374.36 Q134.40,373.96 126.25,373.46z" fill="#000" fill-opacity="0.340"/>
<path d="M126.26,361.34 Q134.41,361.44 142.56,362.34 L142.56,365.72 Q134.41,365.32 126.26,364.82z" fill="#000" fill-opacity="0.075"/>
<path d="M126.26,362.21 Q134.41,362.31 142.56,363.21 L142.56,364.85 Q134.41,364.45 126.26,363.95z" fill="#000" fill-opacity="0.432"/>
<path d="M126.27,353.14 Q134.42,353.24 142.57,354.14 L142.57,357.53 Q134.42,357.13 126.27,356.63z" fill="#000" fill-opacity="0.064"/>
<path d="M126.27,354.01 Q134.42,354.11 142.57,355.01 L142.57,356.65 Q134.42,356.25 126.27,355.75z" fill="#000" fill-opacity="0.368"/>
<path d="M126.28,345.76 Q134.43,345.86 142.58,346.76 L142.58,349.72 Q134.43,349.32 126.28,348.82z" fill="#000" fill-opacity="0.048"/>
<path d="M126.28,346.59 Q134.43,346.69 142.58,347.59 L142.58,348.90 Q134.43,348.50 126.28,348.00z" fill="#000" fill-opacity="0.276"/>
<path d="M126.29,338.47 Q134.44,338.57 142.59,339.47 L142.59,342.44 Q134.44,342.04 126.29,341.54z" fill="#000" fill-opacity="0.038"/>
<path d="M126.29,339.30 Q134.44,339.40 142.59,340.30 L142.59,341.61 Q134.44,341.21 126.29,340.71z" fill="#000" fill-opacity="0.221"/>
<path d="M126.30,331.89 Q134.45,331.99 142.60,332.89 L142.60,335.86 Q134.45,335.46 126.30,334.96z" fill="#000" fill-opacity="0.035"/>
<path d="M126.30,332.72 Q134.45,332.82 142.60,333.72 L142.60,335.03 Q134.45,334.63 126.30,334.13z" fill="#000" fill-opacity="0.202"/>
<path d="M126.31,327.04 Q134.46,327.14 142.61,328.04 L142.61,331.00 Q134.46,330.60 126.31,330.10z" fill="#000" fill-opacity="0.029"/>
<path d="M126.31,327.86 Q134.46,327.96 142.61,328.86 L142.61,330.18 Q134.46,329.78 126.31,329.28z" fill="#000" fill-opacity="0.166"/>
<path d="M126.32,322.69 Q134.47,322.79 142.62,323.69 L142.62,326.65 Q134.47,326.25 126.32,325.75z" fill="#000" fill-opacity="0.024"/>
<path d="M126.32,323.51 Q134.47,323.61 142.62,324.51 L142.62,325.82 Q134.47,325.42 126.32,324.92z" fill="#000" fill-opacity="0.138"/>
<path d="M126.32,318.44 Q134.47,318.54 142.62,319.44 L142.62,322.40 Q134.47,322.00 126.32,321.50z" fill="#000" fill-opacity="0.017"/>
<path d="M126.32,319.26 Q134.47,319.36 142.62,320.26 L142.62,321.57 Q134.47,321.17 126.32,320.67z" fill="#000" fill-opacity="0.099"/>
<path d="M126.33,314.29 Q134.48,314.39 142.63,315.29 L142.63,318.25 Q134.48,317.85 126.33,317.35z" fill="#000" fill-opacity="0.012"/>
<path d="M126.33,315.11 Q134.48,315.21 142.63,316.11 L142.63,317.42 Q134.48,317.02 126.33,316.52z" fill="#000" fill-opacity="0.072"/>
<path d="M126.33,310.24 Q134.48,310.34 142.63,311.24 L142.63,314.20 Q134.48,313.80 126.33,313.30z" fill="#000" fill-opacity="0.009"/>
<path d="M126.33,311.06 Q134.48,311.16 142.63,312.06 L142.63,313.38 Q134.48,312.98 126.33,312.48z" fill="#000" fill-opacity="0.052"/>
<path d="M126.34,306.29 Q134.49,306.39 142.64,307.29 L142.64,310.26 Q134.49,309.86 126.34,309.36z" fill="#000" fill-opacity="0.006"/>
<path d="M126.34,307.12 Q134.49,307.22 142.64,308.12 L142.64,309.43 Q134.49,309.03 126.34,308.53z" fill="#000" fill-opacity="0.037"/>
<path d="M126.34,302.45 Q134.49,302.55 142.64,303.45 L142.64,306.41 Q134.49,306.01 126.34,305.51z" fill="#000" fill-opacity="0.005"/>
<path d="M126.34,303.27 Q134.49,303.37 142.64,304.27 L142.64,305.58 Q134.49,305.18 126.34,304.68z" fill="#000" fill-opacity="0.027"/>
<path d="M126.35,298.70 Q134.50,298.80 142.65,299.70 L142.65,302.67 Q134.50,302.27 126.35,301.77z" fill="#000" fill-opacity="0.003"/>
<path d="M126.35,299.53 Q134.50,299.63 142.65,300.53 L142.65,301.84 Q134.50,301.44 126.35,300.94z" fill="#000" fill-opacity="0.019"/>
<path d="M126.12,459.19 Q134.27,459.29 142.42,460.19 L142.42,465.41 Q134.27,465.01 126.12,464.51z" fill="#000" fill-opacity="0.160"/>
<path d="M126.12,460.28 Q134.27,460.38 142.42,461.28 L142.42,464.32 Q134.27,463.92 126.12,463.42z" fill="#000" fill-opacity="0.920"/>
<path d="M126.11,464.08 Q134.26,464.18 142.41,465.08 L142.41,468.32 Q134.26,467.92 126.11,467.42z" fill="#000" fill-opacity="0.080"/>
<path d="M126.11,464.94 Q134.26,465.04 142.41,465.94 L142.41,467.46 Q134.26,467.06 126.11,466.56z" fill="#000" fill-opacity="0.460"/>
<path d="M126.11,468.82 Q134.26,468.92 142.41,469.82 L142.41,472.78 Q134.26,472.38 126.11,471.88z" fill="#000" fill-opacity="0.022"/>
<path d="M126.11,469.64 Q134.26,469.74 142.41,470.64 L142.41,471.96 Q134.26,471.56 126.11,471.06z" fill="#000" fill-opacity="0.127"/>
<path d="M126.09,480.52 Q134.24,480.62 142.39,481.52 L142.39,484.48 Q134.24,484.08 126.09,483.58z" fill="#000" fill-opacity="0.018"/>
<path d="M126.09,481.34 Q134.24,481.44 142.39,482.34 L142.39,483.66 Q134.24,483.26 126.09,482.76z" fill="#000" fill-opacity="0.101"/>
<path d="M126.08,483.75 Q134.23,483.85 142.38,484.75 L142.38,490.25 Q134.23,489.85 126.08,489.35z" fill="#000" fill-opacity="0.160"/>
<path d="M126.08,484.87 Q134.23,484.97 142.38,485.87 L142.38,489.13 Q134.23,488.73 126.08,488.23z" fill="#000" fill-opacity="0.920"/>
<path d="M126.08,489.50 Q134.23,489.60 142.38,490.50 L142.38,494.30 Q134.23,493.90 126.08,493.40z" fill="#000" fill-opacity="0.112"/>
<path d="M126.08,490.42 Q134.23,490.52 142.38,491.42 L142.38,493.38 Q134.23,492.98 126.08,492.48z" fill="#000" fill-opacity="0.644"/>
<path d="M126.07,494.42 Q134.22,494.52 142.37,495.42 L142.37,498.38 Q134.22,497.98 126.07,497.48z" fill="#000" fill-opacity="0.022"/>
<path d="M126.07,495.24 Q134.22,495.34 142.37,496.24 L142.37,497.56 Q134.22,497.16 126.07,496.66z" fill="#000" fill-opacity="0.127"/>
<path d="M126.06,499.29 Q134.21,499.39 142.36,500.29 L142.36,503.11 Q134.21,502.71 126.06,502.21z" fill="#000" fill-opacity="0.013"/>
<path d="M126.06,500.10 Q134.21,500.20 142.36,501.10 L142.36,502.30 Q134.21,501.90 126.06,501.40z" fill="#000" fill-opacity="0.076"/>
<path d="M126.05,509.48 Q134.20,509.58 142.35,510.48 L142.35,513.72 Q134.20,513.32 126.05,512.82z" fill="#000" fill-opacity="0.058"/>
<path d="M126.05,510.34 Q134.20,510.44 142.35,511.34 L142.35,512.86 Q134.20,512.46 126.05,511.96z" fill="#000" fill-opacity="0.331"/>
<path d="M126.05,514.27 Q134.20,514.37 142.35,515.27 L142.35,519.93 Q134.20,519.53 126.05,519.03z" fill="#000" fill-opacity="0.152"/>
<path d="M126.05,515.30 Q134.20,515.40 142.35,516.30 L142.35,518.90 Q134.20,518.50 126.05,518.00z" fill="#000" fill-opacity="0.874"/>
<path d="M126.05,519.32 Q134.20,519.42 142.35,520.32 L142.35,523.28 Q134.20,522.88 126.05,522.38z" fill="#000" fill-opacity="0.026"/>
<path d="M126.05,520.14 Q134.20,520.24 142.35,521.14 L142.35,522.46 Q134.20,522.06 126.05,521.56z" fill="#000" fill-opacity="0.152"/>
</g>
</g>
<rect x="25.40" y="212.80" width="122.60" height="313.80" fill="none" stroke="#333" stroke-width="1.1"/>
<rect x="25.40" y="527.80" width="122.60" height="13.50" fill="#fbfbfb" stroke="none" stroke-width="1"/>
<g filter="url(#blurA)">
<path d="M34.30,533.40 Q42.00,532.60 49.70,534.00 L49.70,538.00 Q42.00,537.40 34.30,537.40z" fill="#000" fill-opacity="0.22"/>
<path d="M34.50,534.10 Q42.00,533.50 49.50,534.70 L49.50,537.30 Q42.00,536.60 34.50,536.70z" fill="#000" fill-opacity="0.9"/>
<path d="M52.60,533.40 Q60.30,532.60 68.00,534.00 L68.00,538.00 Q60.30,537.40 52.60,537.40z" fill="#000" fill-opacity="0.22"/>
<path d="M52.80,534.10 Q60.30,533.50 67.80,534.70 L67.80,537.30 Q60.30,536.60 52.80,536.70z" fill="#000" fill-opacity="0.9"/>
<path d="M71.50,533.40 Q79.20,532.60 86.90,534.00 L86.90,538.00 Q79.20,537.40 71.50,537.40z" fill="#000" fill-opacity="0.22"/>
<path d="M71.70,534.10 Q79.20,533.50 86.70,534.70 L86.70,537.30 Q79.20,536.60 71.70,536.70z" fill="#000" fill-opacity="0.9"/>
<path d="M89.80,532.80 Q97.50,532.00 105.20,533.40 L105.20,537.40 Q97.50,536.80 89.80,536.80z" fill="#000" fill-opacity="0.22"/>
<path d="M90.00,533.50 Q97.50,532.90 105.00,534.10 L105.00,536.70 Q97.50,536.00 90.00,536.10z" fill="#000" fill-opacity="0.9"/>
<path d="M108.30,532.40 Q116.00,531.60 123.70,533.00 L123.70,537.00 Q116.00,536.40 108.30,536.40z" fill="#000" fill-opacity="0.22"/>
<path d="M108.50,533.10 Q116.00,532.50 123.50,533.70 L123.50,536.30 Q116.00,535.60 108.50,535.70z" fill="#000" fill-opacity="0.9"/>
<path d="M126.70,533.10 Q134.40,532.30 142.10,533.70 L142.10,537.70 Q134.40,537.10 126.70,537.10z" fill="#000" fill-opacity="0.22"/>
<path d="M126.90,533.80 Q134.40,533.20 141.90,534.40 L141.90,537.00 Q134.40,536.30 126.90,536.40z" fill="#000" fill-opacity="0.9"/>
</g>
<rect x="25.40" y="527.80" width="122.60" height="13.50" fill="none" stroke="#333" stroke-width="1.1"/>
<text x="22.30" y="420.10" font-size="7.8" text-anchor="end" font-weight="normal" fill="#111" stroke="#111" stroke-width="0.14">+28</text>
<text x="22.30" y="438.60" font-size="7.8" text-anchor="end" font-weight="normal" fill="#111" stroke="#111" stroke-width="0.14">+22</text>
<text x="22.30" y="457.90" font-size="7.8" text-anchor="end" font-weight="normal" fill="#111" stroke="#111" stroke-width="0.14">+16</text>
<text x="22.30" y="482.40" font-size="7.8" text-anchor="end" font-weight="normal" fill="#111" stroke="#111" stroke-width="0.14">+10</text>
<text x="22.30" y="510.70" font-size="7.8" text-anchor="end" font-weight="normal" fill="#111" stroke="#111" stroke-width="0.14">+4</text>
<text x="22.30" y="537.20" font-size="7.8" text-anchor="end" font-weight="normal" fill="#111" stroke="#111" stroke-width="0.14">LC</text>
<text transform="translate(45.85,547.40) rotate(-45)" x="0" y="0" font-size="7.55" text-anchor="end" font-weight="normal" fill="#111" stroke="#111" stroke-width="0.14">WT</text>
<text transform="translate(64.06,547.40) rotate(-45)" x="0" y="0" font-size="7.55" text-anchor="end" font-weight="normal" fill="#111" stroke="#111" stroke-width="0.14">L557P</text>
<text transform="translate(82.27,547.40) rotate(-45)" x="0" y="0" font-size="7.55" text-anchor="end" font-weight="normal" fill="#111" stroke="#111" stroke-width="0.14">K1050E</text>
<text transform="translate(100.48,547.40) rotate(-45)" x="0" y="0" font-size="7.55" text-anchor="end" font-weight="normal" fill="#111" stroke="#111" stroke-width="0.14">L557P + K1050E</text>
<text transform="translate(118.69,547.40) rotate(-45)" x="0" y="0" font-size="7.55" text-anchor="end" font-weight="normal" fill="#111" stroke="#111" stroke-width="0.14">WT + L557P</text>
<text transform="translate(136.90,547.40) rotate(-45)" x="0" y="0" font-size="7.55" text-anchor="end" font-weight="normal" fill="#111" stroke="#111" stroke-width="0.14">WT + K1050E</text>
<line x1="366.00" y1="224.60" x2="366.00" y2="330.70" stroke="#1a1a1a" stroke-width="1.45"/>
<line x1="365.40" y1="330.00" x2="512.40" y2="330.00" stroke="#1a1a1a" stroke-width="1.45"/>
<line x1="363.20" y1="330.10" x2="366.00" y2="330.10" stroke="#1a1a1a" stroke-width="1.1"/>
<text x="361.00" y="332.70" font-size="7.3" text-anchor="end" font-weight="normal" fill="#111" stroke="#111" stroke-width="0.14">0.0</text>
<line x1="363.20" y1="309.93" x2="366.00" y2="309.93" stroke="#1a1a1a" stroke-width="1.1"/>
<text x="361.00" y="312.53" font-size="7.3" text-anchor="end" font-weight="normal" fill="#111" stroke="#111" stroke-width="0.14">0.5</text>
<line x1="363.20" y1="289.75" x2="366.00" y2="289.75" stroke="#1a1a1a" stroke-width="1.1"/>
<text x="361.00" y="292.35" font-size="7.3" text-anchor="end" font-weight="normal" fill="#111" stroke="#111" stroke-width="0.14">1.0</text>
<line x1="363.20" y1="269.58" x2="366.00" y2="269.58" stroke="#1a1a1a" stroke-width="1.1"/>
<text x="361.00" y="272.18" font-size="7.3" text-anchor="end" font-weight="normal" fill="#111" stroke="#111" stroke-width="0.14">1.5</text>
<line x1="363.20" y1="249.40" x2="366.00" y2="249.40" stroke="#1a1a1a" stroke-width="1.1"/>
<text x="361.00" y="252.00" font-size="7.3" text-anchor="end" font-weight="normal" fill="#111" stroke="#111" stroke-width="0.14">2.0</text>
<line x1="363.20" y1="229.23" x2="366.00" y2="229.23" stroke="#1a1a1a" stroke-width="1.1"/>
<text x="361.00" y="231.83" font-size="7.3" text-anchor="end" font-weight="normal" fill="#111" stroke="#111" stroke-width="0.14">2.5</text>
<text transform="translate(341.60,277.60) rotate(-90)" x="0" y="0" font-size="7.8" text-anchor="middle" font-weight="normal" fill="#111" textLength="33.2" lengthAdjust="spacingAndGlyphs" stroke="#111" stroke-width="0.3">Processivity</text>
<rect x="370.75" y="266.75" width="14.70" height="63.25" fill="#8aaac9" stroke="none" stroke-width="1"/>
<rect x="394.95" y="271.59" width="14.70" height="58.41" fill="#d9566b" stroke="none" stroke-width="1"/>
<rect x="419.25" y="299.64" width="14.70" height="30.36" fill="#eca3ad" stroke="none" stroke-width="1"/>
<rect x="443.65" y="300.64" width="14.70" height="29.36" fill="#a4dca1" stroke="none" stroke-width="1"/>
<rect x="468.05" y="263.93" width="14.70" height="66.07" fill="#8b5f9b" stroke="none" stroke-width="1"/>
<rect x="492.15" y="275.22" width="14.70" height="54.78" fill="#c4a9d1" stroke="none" stroke-width="1"/>
<line x1="378.10" y1="330.00" x2="378.10" y2="332.80" stroke="#1a1a1a" stroke-width="1.1"/>
<line x1="402.30" y1="330.00" x2="402.30" y2="332.80" stroke="#1a1a1a" stroke-width="1.1"/>
<line x1="426.60" y1="330.00" x2="426.60" y2="332.80" stroke="#1a1a1a" stroke-width="1.1"/>
<line x1="451.00" y1="330.00" x2="451.00" y2="332.80" stroke="#1a1a1a" stroke-width="1.1"/>
<line x1="475.40" y1="330.00" x2="475.40" y2="332.80" stroke="#1a1a1a" stroke-width="1.1"/>
<line x1="499.50" y1="330.00" x2="499.50" y2="332.80" stroke="#1a1a1a" stroke-width="1.1"/>
<line x1="475.40" y1="259.60" x2="475.40" y2="265.93" stroke="#222" stroke-width="0.9"/>
<line x1="473.20" y1="259.60" x2="477.60" y2="259.60" stroke="#222" stroke-width="0.9"/>
<line x1="473.20" y1="265.93" x2="477.60" y2="265.93" stroke="#222" stroke-width="0.9"/>
<line x1="499.50" y1="271.40" x2="499.50" y2="277.22" stroke="#222" stroke-width="0.9"/>
<line x1="497.30" y1="271.40" x2="501.70" y2="271.40" stroke="#222" stroke-width="0.9"/>
<line x1="497.30" y1="277.22" x2="501.70" y2="277.22" stroke="#222" stroke-width="0.9"/>
<circle cx="376.20" cy="266.00" r="1.35" fill="#1b4f8c"/>
<circle cx="378.10" cy="264.70" r="1.35" fill="#1b4f8c"/>
<circle cx="380.00" cy="265.50" r="1.35" fill="#1b4f8c"/>
<circle cx="377.20" cy="268.30" r="1.35" fill="#1b4f8c"/>
<circle cx="379.50" cy="267.40" r="1.35" fill="#1b4f8c"/>
<circle cx="378.20" cy="269.30" r="1.35" fill="#1b4f8c"/>
<circle cx="402.30" cy="268.00" r="1.35" fill="#c8112f"/>
<circle cx="401.20" cy="270.00" r="1.35" fill="#c8112f"/>
<circle cx="403.40" cy="270.50" r="1.35" fill="#c8112f"/>
<circle cx="402.00" cy="273.00" r="1.35" fill="#c8112f"/>
<circle cx="403.00" cy="274.50" r="1.35" fill="#c8112f"/>
<circle cx="401.80" cy="278.20" r="1.35" fill="#c8112f"/>
<circle cx="425.60" cy="298.20" r="1.35" fill="#c8112f"/>
<circle cx="427.60" cy="298.00" r="1.35" fill="#c8112f"/>
<circle cx="426.60" cy="296.60" r="1.35" fill="#c8112f"/>
<circle cx="428.20" cy="299.20" r="1.35" fill="#c8112f"/>
<circle cx="425.00" cy="299.40" r="1.35" fill="#c8112f"/>
<circle cx="451.00" cy="295.30" r="1.35" fill="#34b23c"/>
<circle cx="450.20" cy="297.40" r="1.35" fill="#34b23c"/>
<circle cx="451.80" cy="297.40" r="1.35" fill="#34b23c"/>
<circle cx="451.00" cy="299.60" r="1.35" fill="#34b23c"/>
<circle cx="450.60" cy="302.20" r="1.35" fill="#34b23c"/>
<circle cx="451.40" cy="303.40" r="1.35" fill="#34b23c"/>
<circle cx="475.40" cy="247.30" r="1.35" fill="#4f2279"/>
<circle cx="473.80" cy="265.60" r="1.35" fill="#4f2279"/>
<circle cx="475.40" cy="265.90" r="1.35" fill="#4f2279"/>
<circle cx="477.00" cy="265.60" r="1.35" fill="#4f2279"/>
<circle cx="474.60" cy="264.60" r="1.35" fill="#4f2279"/>
<circle cx="476.20" cy="264.60" r="1.35" fill="#4f2279"/>
<circle cx="499.50" cy="259.60" r="1.35" fill="#4f2279"/>
<circle cx="499.50" cy="276.60" r="1.35" fill="#4f2279"/>
<circle cx="498.00" cy="278.00" r="1.35" fill="#4f2279"/>
<circle cx="501.00" cy="278.00" r="1.35" fill="#4f2279"/>
<circle cx="499.50" cy="280.00" r="1.35" fill="#4f2279"/>
<path d="M377.20,240.60 L377.20,232.90 L450.40,232.90 L450.40,240.20" fill="none" stroke="#333" stroke-width="1.0"/>
<text x="413.80" y="232.70" font-size="7" text-anchor="middle" font-weight="normal" fill="#222" stroke="#222" stroke-width="0.14">****</text>
<path d="M377.20,259.60 L377.20,252.00 L426.10,252.00 L426.10,259.60" fill="none" stroke="#333" stroke-width="1.0"/>
<text x="401.65" y="251.80" font-size="7" text-anchor="middle" font-weight="normal" fill="#222" stroke="#222" stroke-width="0.14">****</text>
<text transform="translate(381.70,338.80) rotate(-45)" x="0" y="0" font-size="8.05" text-anchor="end" font-weight="normal" fill="#111" stroke="#111" stroke-width="0.14">WT</text>
<text transform="translate(405.90,338.80) rotate(-45)" x="0" y="0" font-size="8.05" text-anchor="end" font-weight="normal" fill="#111" stroke="#111" stroke-width="0.14">L557P</text>
<text transform="translate(430.20,338.80) rotate(-45)" x="0" y="0" font-size="8.05" text-anchor="end" font-weight="normal" fill="#111" stroke="#111" stroke-width="0.14">K1050E</text>
<text transform="translate(454.60,338.80) rotate(-45)" x="0" y="0" font-size="8.05" text-anchor="end" font-weight="normal" fill="#111" stroke="#111" stroke-width="0.14">L557P + K1050E</text>
<text transform="translate(479.00,338.80) rotate(-45)" x="0" y="0" font-size="8.05" text-anchor="end" font-weight="normal" fill="#111" stroke="#111" stroke-width="0.14">WT + L557P</text>
<text transform="translate(503.10,338.80) rotate(-45)" x="0" y="0" font-size="8.05" text-anchor="end" font-weight="normal" fill="#111" stroke="#111" stroke-width="0.14">WT + K1050E</text>
<line x1="197.30" y1="239.60" x2="197.30" y2="392.40" stroke="#1a1a1a" stroke-width="1.45"/>
<line x1="196.70" y1="391.80" x2="400.30" y2="391.80" stroke="#1a1a1a" stroke-width="1.45"/>
<line x1="194.70" y1="391.80" x2="197.30" y2="391.80" stroke="#1a1a1a" stroke-width="1.1"/>
<text x="191.60" y="394.70" font-size="8.1" text-anchor="end" font-weight="normal" fill="#111" stroke="#111" stroke-width="0.14">0</text>
<line x1="194.70" y1="355.23" x2="197.30" y2="355.23" stroke="#1a1a1a" stroke-width="1.1"/>
<text x="191.60" y="358.13" font-size="8.1" text-anchor="end" font-weight="normal" fill="#111" stroke="#111" stroke-width="0.14">10000</text>
<line x1="194.70" y1="318.66" x2="197.30" y2="318.66" stroke="#1a1a1a" stroke-width="1.1"/>
<text x="191.60" y="321.56" font-size="8.1" text-anchor="end" font-weight="normal" fill="#111" stroke="#111" stroke-width="0.14">20000</text>
<line x1="194.70" y1="282.09" x2="197.30" y2="282.09" stroke="#1a1a1a" stroke-width="1.1"/>
<text x="191.60" y="284.99" font-size="8.1" text-anchor="end" font-weight="normal" fill="#111" stroke="#111" stroke-width="0.14">30000</text>
<line x1="194.70" y1="245.52" x2="197.30" y2="245.52" stroke="#1a1a1a" stroke-width="1.1"/>
<text x="191.60" y="248.42" font-size="8.1" text-anchor="end" font-weight="normal" fill="#111" stroke="#111" stroke-width="0.14">40000</text>
<text transform="translate(163.50,315.90) rotate(-90)" x="0" y="0" font-size="8.8" text-anchor="middle" font-weight="normal" fill="#111" textLength="40.0" lengthAdjust="spacingAndGlyphs" stroke="#111" stroke-width="0.3">Band intensity</text>
<line x1="204.00" y1="391.80" x2="204.00" y2="394.40" stroke="#1a1a1a" stroke-width="1.0"/>
<text x="204.00" y="402.80" font-size="7.6" text-anchor="middle" font-weight="normal" fill="#111" stroke="#111" stroke-width="0.14">1</text>
<line x1="228.20" y1="391.80" x2="228.20" y2="394.40" stroke="#1a1a1a" stroke-width="1.0"/>
<text x="228.20" y="402.80" font-size="7.6" text-anchor="middle" font-weight="normal" fill="#111" stroke="#111" stroke-width="0.14">2</text>
<line x1="248.40" y1="391.80" x2="248.40" y2="394.40" stroke="#1a1a1a" stroke-width="1.0"/>
<text x="248.40" y="402.80" font-size="7.6" text-anchor="middle" font-weight="normal" fill="#111" stroke="#111" stroke-width="0.14">3</text>
<line x1="264.60" y1="391.80" x2="264.60" y2="394.40" stroke="#1a1a1a" stroke-width="1.0"/>
<text x="264.60" y="402.80" font-size="7.6" text-anchor="middle" font-weight="normal" fill="#111" stroke="#111" stroke-width="0.14">4</text>
<line x1="278.60" y1="391.80" x2="278.60" y2="394.40" stroke="#1a1a1a" stroke-width="1.0"/>
<text x="278.60" y="402.80" font-size="7.6" text-anchor="middle" font-weight="normal" fill="#111" stroke="#111" stroke-width="0.14">5</text>
<line x1="290.70" y1="391.80" x2="290.70" y2="394.40" stroke="#1a1a1a" stroke-width="1.0"/>
<text x="290.70" y="402.80" font-size="7.6" text-anchor="middle" font-weight="normal" fill="#111" stroke="#111" stroke-width="0.14">6</text>
<line x1="301.10" y1="391.80" x2="301.10" y2="394.40" stroke="#1a1a1a" stroke-width="1.0"/>
<text x="301.10" y="402.80" font-size="7.6" text-anchor="middle" font-weight="normal" fill="#111" stroke="#111" stroke-width="0.14">7</text>
<line x1="310.50" y1="391.80" x2="310.50" y2="394.40" stroke="#1a1a1a" stroke-width="1.0"/>
<text x="310.50" y="402.80" font-size="7.6" text-anchor="middle" font-weight="normal" fill="#111" stroke="#111" stroke-width="0.14">8</text>
<line x1="318.40" y1="391.80" x2="318.40" y2="394.40" stroke="#1a1a1a" stroke-width="1.0"/>
<text x="318.40" y="402.80" font-size="7.6" text-anchor="middle" font-weight="normal" fill="#111" stroke="#111" stroke-width="0.14">9</text>
<line x1="326.00" y1="391.80" x2="326.00" y2="394.40" stroke="#1a1a1a" stroke-width="1.0"/>
<text x="323.40" y="402.80" font-size="7.6" text-anchor="start" font-weight="normal" fill="#111" textLength="18.4" lengthAdjust="spacingAndGlyphs" stroke="#111" stroke-width="0.3">10......</text>
<text x="291.10" y="413.60" font-size="8.6" text-anchor="middle" font-weight="normal" fill="#111" textLength="42.6" lengthAdjust="spacingAndGlyphs" stroke="#111" stroke-width="0.3">Repeat number</text>
<g fill="none" stroke-linejoin="round">
<path d="M198.00,389.94 L198.50,389.09 L199.00,388.10 L199.50,387.45 L200.00,387.05 L200.50,387.73 L201.00,388.43 L201.50,388.69 L202.00,389.07 L202.50,388.42 L203.00,385.32 L203.50,380.96 L204.00,376.64 L204.50,377.70 L205.00,382.04 L205.50,385.83 L206.00,388.27 L206.50,388.49 L207.00,388.06 L207.50,387.58 L208.00,385.81 L208.50,383.23 L209.00,382.47 L209.50,384.84 L210.00,387.47 L210.50,388.85 L211.00,389.74 L211.50,389.96 L212.00,389.86 L212.50,389.72 L213.00,389.88 L213.50,389.97 L214.00,390.04 L214.50,389.86 L215.00,389.89 L215.50,390.11 L216.00,389.41 L216.50,389.21 L217.00,389.00 L217.50,389.38 L218.00,388.98 L218.50,388.86 L219.00,389.41 L219.50,389.53 L220.00,389.24 L220.50,389.06 L221.00,388.73 L221.50,388.92 L222.00,388.55 L222.50,388.09 L223.00,387.20 L223.50,384.94 L224.00,382.25 L224.50,381.67 L225.00,383.74 L225.50,385.52 L226.00,385.73 L226.50,381.82 L227.00,372.46 L227.50,361.34 L228.00,357.61 L228.50,365.79 L229.00,376.69 L229.50,383.80 L230.00,386.99 L230.50,387.77 L231.00,387.66 L231.50,387.33 L232.00,387.79 L232.50,388.50 L233.00,388.89 L233.50,389.50 L234.00,389.82 L234.50,389.42 L235.00,388.94 L235.50,388.99 L236.00,389.14 L236.50,389.47 L237.00,389.37 L237.50,388.88 L238.00,388.76 L238.50,388.89 L239.00,388.67 L239.50,389.08 L240.00,389.11 L240.50,388.68 L241.00,388.72 L241.50,388.79 L242.00,388.89 L242.50,388.38 L243.00,386.83 L243.50,385.03 L244.00,381.39 L244.50,379.20 L245.00,380.51 L245.50,383.06 L246.00,383.37 L246.50,379.31 L247.00,369.12 L247.50,356.27 L248.00,352.05 L248.50,361.33 L249.00,374.29 L249.50,382.96 L250.00,386.19 L250.50,386.78 L251.00,386.74 L251.50,387.11 L252.00,387.76 L252.50,388.27 L253.00,388.58 L253.50,388.84 L254.00,389.35 L254.50,389.48 L255.00,389.60 L255.50,389.32 L256.00,388.91 L256.50,388.74 L257.00,388.63 L257.50,388.54 L258.00,388.98 L258.50,388.72 L259.00,388.71 L259.50,389.21 L260.00,389.62 L260.50,389.79 L261.00,389.20 L261.50,389.23 L262.00,389.19 L262.50,388.18 L263.00,386.49 L263.50,383.58 L264.00,380.23 L264.50,379.49 L265.00,382.73 L265.50,386.09 L266.00,387.69 L266.50,388.44 L267.00,388.80 L267.50,388.81 L268.00,389.19 L268.50,389.10 L269.00,389.00 L269.50,389.14 L270.00,389.29 L270.50,388.67 L271.00,388.63 L271.50,388.86 L272.00,388.63 L272.50,388.29 L273.00,388.77 L273.50,389.03 L274.00,389.04 L274.50,388.50 L275.00,388.59 L275.50,387.97 L276.00,387.14 L276.50,385.77 L277.00,383.57 L277.50,379.71 L278.00,376.63 L278.50,376.37 L279.00,379.28 L279.50,382.49 L280.00,385.28 L280.50,386.74 L281.00,387.62 L281.50,387.72 L282.00,388.21 L282.50,388.27 L283.00,387.71 L283.50,387.43 L284.00,387.75 L284.50,387.43 L285.00,387.69 L285.50,387.28 L286.00,387.16 L286.50,387.31 L287.00,387.41 L287.50,387.37 L288.00,385.77 L288.50,383.71 L289.00,378.52 L289.50,371.38 L290.00,364.85 L290.50,363.21 L291.00,367.31 L291.50,374.11 L292.00,380.20 L292.50,384.13 L293.00,386.16 L293.50,387.06 L294.00,387.58 L294.50,387.43 L295.00,387.54 L295.50,387.80 L296.00,388.01 L296.50,387.60 L297.00,387.62 L297.50,387.31 L298.00,386.94 L298.50,385.33 L299.00,382.38 L299.50,377.94 L300.00,370.86 L300.50,363.71 L301.00,360.90 L301.50,365.56 L302.00,373.52 L302.50,380.39 L303.00,384.19 L303.50,385.85 L304.00,386.39 L304.50,387.08 L305.00,386.97 L305.50,387.06 L306.00,387.26 L306.50,386.91 L307.00,387.26 L307.50,386.76 L308.00,386.35 L308.50,384.70 L309.00,381.15 L309.50,377.89 L310.00,375.36 L310.50,376.37 L311.00,379.46 L311.50,383.12 L312.00,385.66 L312.50,387.05 L313.00,387.24 L313.50,387.41 L314.00,387.13 L314.50,386.99 L315.00,387.45 L315.50,387.07 L316.00,386.60 L316.50,385.34 L317.00,383.39 L317.50,380.93 L318.00,380.43 L318.50,381.84 L319.00,384.28 L319.50,385.91 L320.00,386.71 L320.50,387.36 L321.00,387.50 L321.50,387.83 L322.00,388.10 L322.50,388.03 L323.00,387.18 L323.50,386.36 L324.00,384.39 L324.50,381.95 L325.00,379.12 L325.50,376.88 L326.00,377.58 L326.50,381.05 L327.00,383.76 L327.50,386.15 L328.00,387.40 L328.50,387.25 L329.00,387.72 L329.50,387.58 L330.00,386.29 L330.50,384.87 L331.00,382.53 L331.50,379.29 L332.00,376.72 L332.50,376.64 L333.00,379.89 L333.50,382.72 L334.00,385.34 L334.50,386.27 L335.00,386.64 L335.50,387.19 L336.00,387.29 L336.50,386.66 L337.00,385.79 L337.50,383.90 L338.00,382.87 L338.50,382.96 L339.00,383.51 L339.50,385.34 L340.00,386.47 L340.50,387.22 L341.00,387.57 L341.50,387.68 L342.00,386.50 L342.50,385.11 L343.00,383.77 L343.50,383.85 L344.00,384.66 L344.50,385.62 L345.00,386.21 L345.50,386.95 L346.00,387.08 L346.50,386.81 L347.00,386.39 L347.50,385.02 L348.00,383.63 L348.50,382.80 L349.00,383.48 L349.50,384.88 L350.00,385.61 L350.50,386.40 L351.00,386.09 L351.50,385.08 L352.00,383.48 L352.50,382.93 L353.00,383.55 L353.50,384.84 L354.00,385.90 L354.50,385.77 L355.00,385.11 L355.50,384.92 L356.00,385.08 L356.50,385.65 L357.00,386.33 L357.50,386.67 L358.00,386.78 L358.50,386.56 L359.00,385.98 L359.50,386.07 L360.00,386.28 L360.50,387.12 L361.00,387.50 L361.50,386.82 L362.00,386.29 L362.50,385.43 L363.00,385.57 L363.50,385.69 L364.00,386.32 L364.50,386.08 L365.00,385.44 L365.50,385.86 L366.00,385.75 L366.50,386.47 L367.00,386.14 L367.50,385.46 L368.00,385.22 L368.50,385.91 L369.00,386.82 L369.50,386.96 L370.00,386.39 L370.50,386.28 L371.00,385.70 L371.50,386.40 L372.00,386.43 L372.50,387.16 L373.00,387.03 L373.50,386.13 L374.00,385.69 L374.50,385.74 L375.00,386.13 L375.50,386.40 L376.00,386.33 L376.50,386.44 L377.00,386.29 L377.50,386.82 L378.00,386.93 L378.50,387.00 L379.00,387.13 L379.50,387.11 L380.00,386.32 L380.50,386.32 L381.00,386.80 L381.50,387.04 L382.00,386.63 L382.50,386.47 L383.00,386.44 L383.50,386.82 L384.00,387.39 L384.50,387.90 L385.00,387.41 L385.50,387.07 L386.00,386.74 L386.50,387.32 L387.00,387.65 L387.50,388.02 L388.00,388.02 L388.50,387.68 L389.00,387.02 L389.50,387.33 L390.00,387.83 L390.50,388.10" stroke="#1b4f8c" stroke-width="1.15"/>
<path d="M198.00,387.59 L198.50,386.05 L199.00,384.34 L199.50,381.73 L200.00,380.00 L200.50,381.69 L201.00,384.14 L201.50,385.71 L202.00,384.78 L202.50,380.14 L203.00,368.30 L203.50,348.75 L204.00,330.32 L204.50,332.88 L205.00,352.68 L205.50,370.79 L206.00,380.58 L206.50,384.36 L207.00,384.80 L207.50,382.78 L208.00,378.27 L208.50,373.07 L209.00,372.18 L209.50,377.37 L210.00,382.93 L210.50,385.72 L211.00,387.12 L211.50,387.56 L212.00,388.06 L212.50,388.51 L213.00,388.49 L213.50,388.67 L214.00,388.37 L214.50,387.66 L215.00,387.46 L215.50,387.57 L216.00,386.15 L216.50,384.97 L217.00,384.30 L217.50,384.68 L218.00,385.77 L218.50,386.50 L219.00,387.25 L219.50,386.93 L220.00,386.64 L220.50,387.23 L221.00,386.90 L221.50,386.54 L222.00,386.16 L222.50,384.57 L223.00,380.50 L223.50,372.59 L224.00,364.59 L224.50,362.86 L225.00,369.53 L225.50,375.03 L226.00,373.58 L226.50,359.67 L227.00,328.31 L227.50,288.67 L228.00,274.64 L228.50,304.15 L229.00,343.56 L229.50,368.79 L230.00,378.17 L230.50,379.25 L231.00,375.86 L231.50,374.51 L232.00,376.85 L232.50,381.69 L233.00,384.47 L233.50,386.04 L234.00,386.85 L234.50,387.23 L235.00,387.31 L235.50,387.45 L236.00,387.73 L236.50,388.11 L237.00,388.01 L237.50,387.51 L238.00,387.54 L238.50,388.11 L239.00,387.68 L239.50,387.49 L240.00,387.35 L240.50,387.84 L241.00,387.51 L241.50,387.93 L242.00,387.38 L242.50,386.88 L243.00,385.07 L243.50,380.33 L244.00,374.97 L244.50,371.38 L245.00,373.65 L245.50,378.58 L246.00,379.70 L246.50,372.25 L247.00,355.52 L247.50,333.89 L248.00,326.81 L248.50,342.81 L249.00,364.24 L249.50,377.26 L250.00,382.28 L250.50,381.26 L251.00,380.35 L251.50,380.64 L252.00,383.80 L252.50,386.24 L253.00,387.04 L253.50,387.95 L254.00,388.36 L254.50,388.07 L255.00,388.21 L255.50,388.66 L256.00,387.97 L256.50,388.45 L257.00,388.84 L257.50,388.77 L258.00,388.44 L258.50,388.12 L259.00,388.56 L259.50,388.59 L260.00,389.00 L260.50,388.74 L261.00,388.21 L261.50,387.84 L262.00,387.22 L262.50,386.23 L263.00,383.58 L263.50,379.05 L264.00,374.34 L264.50,374.13 L265.00,378.50 L265.50,383.70 L266.00,387.01 L266.50,388.04 L267.00,387.92 L267.50,388.53 L268.00,388.42 L268.50,388.55 L269.00,388.51 L269.50,388.87 L270.00,388.26 L270.50,388.61 L271.00,388.47 L271.50,388.57 L272.00,389.04 L272.50,388.77 L273.00,389.02 L273.50,389.25 L274.00,389.39 L274.50,389.32 L275.00,389.27 L275.50,388.53 L276.00,387.77 L276.50,385.92 L277.00,383.31 L277.50,379.95 L278.00,377.85 L278.50,377.68 L279.00,380.40 L279.50,383.41 L280.00,385.80 L280.50,387.01 L281.00,387.64 L281.50,388.35 L282.00,388.56 L282.50,388.57 L283.00,389.12 L283.50,389.41 L284.00,389.22 L284.50,389.40 L285.00,388.88 L285.50,389.06 L286.00,389.31 L286.50,389.35 L287.00,389.29 L287.50,389.18 L288.00,388.55 L288.50,387.67 L289.00,386.31 L289.50,383.94 L290.00,382.17 L290.50,381.02 L291.00,382.01 L291.50,384.22 L292.00,386.39 L292.50,387.65 L293.00,388.21 L293.50,388.98 L294.00,389.03 L294.50,388.94 L295.00,389.24 L295.50,389.51 L296.00,388.95 L296.50,389.06 L297.00,388.97 L297.50,388.48 L298.00,388.47 L298.50,388.67 L299.00,387.82 L299.50,387.47 L300.00,387.05 L300.50,385.74 L301.00,385.83 L301.50,386.51 L302.00,387.01 L302.50,387.77 L303.00,388.90 L303.50,389.07 L304.00,389.16 L304.50,389.12 L305.00,389.37 L305.50,389.13 L306.00,389.51 L306.50,389.52 L307.00,389.43 L307.50,388.76 L308.00,389.16 L308.50,388.55 L309.00,388.54 L309.50,387.94 L310.00,387.75 L310.50,387.84 L311.00,387.92 L311.50,388.50 L312.00,389.16 L312.50,389.54 L313.00,389.80 L313.50,389.14 L314.00,388.95 L314.50,388.51 L315.00,388.50 L315.50,389.13 L316.00,388.77 L316.50,388.27 L317.00,387.86 L317.50,387.75 L318.00,387.97 L318.50,388.26 L319.00,388.26 L319.50,388.86 L320.00,388.95 L320.50,389.03 L321.00,388.58 L321.50,388.46 L322.00,388.25 L322.50,388.21 L323.00,388.71 L323.50,389.00 L324.00,388.78 L324.50,388.67 L325.00,388.25 L325.50,387.73 L326.00,387.43 L326.50,387.87 L327.00,388.05 L327.50,388.92 L328.00,389.16 L328.50,388.63 L329.00,389.15 L329.50,389.17 L330.00,389.49 L330.50,389.55 L331.00,388.59 L331.50,387.74 L332.00,387.53 L332.50,388.12 L333.00,388.56 L333.50,389.05 L334.00,388.93 L334.50,388.84 L335.00,389.01 L335.50,388.99 L336.00,389.36 L336.50,389.07 L337.00,388.33 L337.50,387.93 L338.00,388.30 L338.50,388.20 L339.00,388.17 L339.50,388.77 L340.00,388.53 L340.50,388.82 L341.00,388.70 L341.50,388.88 L342.00,388.27 L342.50,388.00 L343.00,387.95 L343.50,388.39 L344.00,388.52 L344.50,389.18 L345.00,389.07 L345.50,388.72 L346.00,389.19 L346.50,389.08 L347.00,388.95 L347.50,388.82 L348.00,388.31 L348.50,387.77 L349.00,387.83 L349.50,388.28 L350.00,388.12 L350.50,388.65 L351.00,388.44 L351.50,388.26 L352.00,387.93 L352.50,387.62 L353.00,388.22 L353.50,388.33 L354.00,388.66 L354.50,388.52 L355.00,388.00 L355.50,387.98 L356.00,388.67 L356.50,388.75 L357.00,388.63 L357.50,388.36 L358.00,388.34 L358.50,388.05 L359.00,388.63 L359.50,388.09 L360.00,388.13 L360.50,388.35 L361.00,388.14 L361.50,387.92 L362.00,388.49 L362.50,388.07 L363.00,387.97 L363.50,388.58 L364.00,388.36 L364.50,388.30 L365.00,388.61 L365.50,388.21 L366.00,388.76 L366.50,388.63 L367.00,388.66 L367.50,388.78 L368.00,388.53 L368.50,388.60 L369.00,389.00 L369.50,388.44 L370.00,388.92 L370.50,389.18 L371.00,388.85 L371.50,388.41 L372.00,388.42 L372.50,388.31 L373.00,388.42 L373.50,388.19 L374.00,388.41 L374.50,388.73 L375.00,388.78 L375.50,389.27 L376.00,389.41 L376.50,388.71 L377.00,388.88 L377.50,388.52 L378.00,388.36 L378.50,388.64 L379.00,388.42 L379.50,388.08 L380.00,387.80 L380.50,388.50 L381.00,388.99 L381.50,389.04 L382.00,388.88 L382.50,388.86 L383.00,389.14 L383.50,388.88 L384.00,388.40 L384.50,388.70 L385.00,388.60 L385.50,388.60 L386.00,388.55 L386.50,388.21 L387.00,388.67 L387.50,388.59 L388.00,388.60 L388.50,388.45 L389.00,387.99 L389.50,388.73 L390.00,388.54 L390.50,389.03" stroke="#e8848f" stroke-width="1.15" stroke-opacity="0.9"/>
<path d="M198.00,388.59 L198.50,387.47 L199.00,385.63 L199.50,383.11 L200.00,382.06 L200.50,384.00 L201.00,386.31 L201.50,386.80 L202.00,386.52 L202.50,383.58 L203.00,375.00 L203.50,361.59 L204.00,348.88 L204.50,350.76 L205.00,364.35 L205.50,377.34 L206.00,383.96 L206.50,386.05 L207.00,386.36 L207.50,384.85 L208.00,381.87 L208.50,379.10 L209.00,378.45 L209.50,381.58 L210.00,385.23 L210.50,387.64 L211.00,387.96 L211.50,388.28 L212.00,388.21 L212.50,387.97 L213.00,387.99 L213.50,387.82 L214.00,388.17 L214.50,388.01 L215.00,388.18 L215.50,387.74 L216.00,387.15 L216.50,387.36 L217.00,387.41 L217.50,387.76 L218.00,387.60 L218.50,387.99 L219.00,387.99 L219.50,388.20 L220.00,388.07 L220.50,388.05 L221.00,387.99 L221.50,387.58 L222.00,386.95 L222.50,385.13 L223.00,381.40 L223.50,374.41 L224.00,366.98 L224.50,365.52 L225.00,371.51 L225.50,377.57 L226.00,376.92 L226.50,365.84 L227.00,341.38 L227.50,311.08 L228.00,300.19 L228.50,323.39 L229.00,353.41 L229.50,372.95 L230.00,380.76 L230.50,381.69 L231.00,379.01 L231.50,377.31 L232.00,380.02 L232.50,383.22 L233.00,385.88 L233.50,387.43 L234.00,387.98 L234.50,387.81 L235.00,387.61 L235.50,388.24 L236.00,388.02 L236.50,388.48 L237.00,388.15 L237.50,388.29 L238.00,387.88 L238.50,387.54 L239.00,387.74 L239.50,387.40 L240.00,387.91 L240.50,388.29 L241.00,388.00 L241.50,388.22 L242.00,388.01 L242.50,387.09 L243.00,384.69 L243.50,380.43 L244.00,374.43 L244.50,370.16 L245.00,373.24 L245.50,377.74 L246.00,378.66 L246.50,372.14 L247.00,355.29 L247.50,333.75 L248.00,325.95 L248.50,342.06 L249.00,363.51 L249.50,377.10 L250.00,381.75 L250.50,382.08 L251.00,381.23 L251.50,381.71 L252.00,384.25 L252.50,386.35 L253.00,386.95 L253.50,387.52 L254.00,387.75 L254.50,388.34 L255.00,388.35 L255.50,388.23 L256.00,388.65 L256.50,388.41 L257.00,388.24 L257.50,388.64 L258.00,388.38 L258.50,388.36 L259.00,388.16 L259.50,388.31 L260.00,388.17 L260.50,387.97 L261.00,388.42 L261.50,388.58 L262.00,387.89 L262.50,386.46 L263.00,384.29 L263.50,379.72 L264.00,374.65 L264.50,374.18 L265.00,378.76 L265.50,383.75 L266.00,386.67 L266.50,387.61 L267.00,388.14 L267.50,388.29 L268.00,388.02 L268.50,388.51 L269.00,388.33 L269.50,388.08 L270.00,388.30 L270.50,388.50 L271.00,388.11 L271.50,388.36 L272.00,388.55 L272.50,388.44 L273.00,388.12 L273.50,388.44 L274.00,388.41 L274.50,388.35 L275.00,387.80 L275.50,387.63 L276.00,386.70 L276.50,385.78 L277.00,383.44 L277.50,379.93 L278.00,376.71 L278.50,376.49 L279.00,379.33 L279.50,382.94 L280.00,385.37 L280.50,387.09 L281.00,387.36 L281.50,387.36 L282.00,387.87 L282.50,388.07 L283.00,387.72 L283.50,387.65 L284.00,387.45 L284.50,387.72 L285.00,388.05 L285.50,388.08 L286.00,387.62 L286.50,387.75 L287.00,387.64 L287.50,387.22 L288.00,386.23 L288.50,383.99 L289.00,379.26 L289.50,373.55 L290.00,367.92 L290.50,365.46 L291.00,369.20 L291.50,375.35 L292.00,381.14 L292.50,384.25 L293.00,385.75 L293.50,386.95 L294.00,387.08 L294.50,387.05 L295.00,387.16 L295.50,387.35 L296.00,387.65 L296.50,387.76 L297.00,387.87 L297.50,387.98 L298.00,387.34 L298.50,386.54 L299.00,384.15 L299.50,380.82 L300.00,374.89 L300.50,369.45 L301.00,367.51 L301.50,370.97 L302.00,376.61 L302.50,381.76 L303.00,385.39 L303.50,386.58 L304.00,387.52 L304.50,387.86 L305.00,387.71 L305.50,387.73 L306.00,387.81 L306.50,387.38 L307.00,387.33 L307.50,387.33 L308.00,386.89 L308.50,385.08 L309.00,382.88 L309.50,379.96 L310.00,378.51 L310.50,379.60 L311.00,382.02 L311.50,384.28 L312.00,386.45 L312.50,387.07 L313.00,387.22 L313.50,387.29 L314.00,387.25 L314.50,387.91 L315.00,387.68 L315.50,387.11 L316.00,386.98 L316.50,385.90 L317.00,384.33 L317.50,382.70 L318.00,382.52 L318.50,383.75 L319.00,385.14 L319.50,386.97 L320.00,388.00 L320.50,388.41 L321.00,388.59 L321.50,388.71 L322.00,387.94 L322.50,387.54 L323.00,387.76 L323.50,387.07 L324.00,385.92 L324.50,383.93 L325.00,381.51 L325.50,379.73 L326.00,380.33 L326.50,382.71 L327.00,385.23 L327.50,386.82 L328.00,387.83 L328.50,387.88 L329.00,387.63 L329.50,387.59 L330.00,387.40 L330.50,386.32 L331.00,384.15 L331.50,381.26 L332.00,378.95 L332.50,379.38 L333.00,381.37 L333.50,383.96 L334.00,386.02 L334.50,387.22 L335.00,387.64 L335.50,387.55 L336.00,387.54 L336.50,386.90 L337.00,386.09 L337.50,385.10 L338.00,383.92 L338.50,383.60 L339.00,385.01 L339.50,386.24 L340.00,387.22 L340.50,387.36 L341.00,387.22 L341.50,387.39 L342.00,386.64 L342.50,385.79 L343.00,385.36 L343.50,385.02 L344.00,385.78 L344.50,386.27 L345.00,386.95 L345.50,387.16 L346.00,387.23 L346.50,387.10 L347.00,386.49 L347.50,385.61 L348.00,384.89 L348.50,384.00 L349.00,384.77 L349.50,386.00 L350.00,386.58 L350.50,387.49 L351.00,387.54 L351.50,386.96 L352.00,385.39 L352.50,385.01 L353.00,385.56 L353.50,385.84 L354.00,386.85 L354.50,386.60 L355.00,386.19 L355.50,385.57 L356.00,385.32 L356.50,385.99 L357.00,386.48 L357.50,387.41 L358.00,387.05 L358.50,386.71 L359.00,386.14 L359.50,386.54 L360.00,386.63 L360.50,386.73 L361.00,387.48 L361.50,387.40 L362.00,386.86 L362.50,386.23 L363.00,386.64 L363.50,387.19 L364.00,387.43 L364.50,387.04 L365.00,386.53 L365.50,386.66 L366.00,387.03 L366.50,387.30 L367.00,387.36 L367.50,387.15 L368.00,387.32 L368.50,387.31 L369.00,387.08 L369.50,387.39 L370.00,387.07 L370.50,387.18 L371.00,386.79 L371.50,386.78 L372.00,387.05 L372.50,387.33 L373.00,387.34 L373.50,387.01 L374.00,386.60 L374.50,387.24 L375.00,387.86 L375.50,387.62 L376.00,387.13 L376.50,386.99 L377.00,386.99 L377.50,386.99 L378.00,387.66 L378.50,387.96 L379.00,388.04 L379.50,387.57 L380.00,387.54 L380.50,387.80 L381.00,387.72 L381.50,387.40 L382.00,387.62 L382.50,387.21 L383.00,387.24 L383.50,387.10 L384.00,387.42 L384.50,387.88 L385.00,388.05 L385.50,388.17 L386.00,387.85 L386.50,387.94 L387.00,388.33 L387.50,388.39 L388.00,388.34 L388.50,387.79 L389.00,388.03 L389.50,387.61 L390.00,387.99 L390.50,388.20" stroke="#b69bcf" stroke-width="1.15" stroke-opacity="0.85"/>
</g>
<line x1="248.50" y1="279.30" x2="256.30" y2="279.30" stroke="#1b4f8c" stroke-width="1.2"/>
<text x="260.80" y="281.90" font-size="7.35" text-anchor="start" font-weight="normal" fill="#111" stroke="#111" stroke-width="0.14">WT</text>
<line x1="248.50" y1="289.15" x2="256.30" y2="289.15" stroke="#e8848f" stroke-width="1.2"/>
<text x="260.80" y="291.75" font-size="7.35" text-anchor="start" font-weight="normal" fill="#111" stroke="#111" stroke-width="0.14">K1050E</text>
<line x1="248.50" y1="299.00" x2="256.30" y2="299.00" stroke="#b69bcf" stroke-width="1.2"/>
<text x="260.80" y="301.60" font-size="7.35" text-anchor="start" font-weight="normal" fill="#111" stroke="#111" stroke-width="0.14">WT + K1050E</text>
<rect x="284.3" y="357.8" width="106.1" height="46.3" fill="none" stroke="#555" stroke-width="0.9" stroke-dasharray="3.4,2.6"/>
<line x1="197.60" y1="427.40" x2="197.60" y2="580.00" stroke="#1a1a1a" stroke-width="1.45"/>
<line x1="197.00" y1="579.40" x2="399.60" y2="579.40" stroke="#1a1a1a" stroke-width="1.45"/>
<line x1="195.00" y1="579.40" x2="197.60" y2="579.40" stroke="#1a1a1a" stroke-width="1.1"/>
<text x="191.60" y="582.30" font-size="8.1" text-anchor="end" font-weight="normal" fill="#111" stroke="#111" stroke-width="0.14">0</text>
<line x1="195.00" y1="542.80" x2="197.60" y2="542.80" stroke="#1a1a1a" stroke-width="1.1"/>
<text x="191.60" y="545.70" font-size="8.1" text-anchor="end" font-weight="normal" fill="#111" stroke="#111" stroke-width="0.14">10000</text>
<line x1="195.00" y1="506.20" x2="197.60" y2="506.20" stroke="#1a1a1a" stroke-width="1.1"/>
<text x="191.60" y="509.10" font-size="8.1" text-anchor="end" font-weight="normal" fill="#111" stroke="#111" stroke-width="0.14">20000</text>
<line x1="195.00" y1="469.60" x2="197.60" y2="469.60" stroke="#1a1a1a" stroke-width="1.1"/>
<text x="191.60" y="472.50" font-size="8.1" text-anchor="end" font-weight="normal" fill="#111" stroke="#111" stroke-width="0.14">30000</text>
<line x1="195.00" y1="433.00" x2="197.60" y2="433.00" stroke="#1a1a1a" stroke-width="1.1"/>
<text x="191.60" y="435.90" font-size="8.1" text-anchor="end" font-weight="normal" fill="#111" stroke="#111" stroke-width="0.14">40000</text>
<text transform="translate(163.50,503.60) rotate(-90)" x="0" y="0" font-size="8.8" text-anchor="middle" font-weight="normal" fill="#111" textLength="40.0" lengthAdjust="spacingAndGlyphs" stroke="#111" stroke-width="0.3">Band intensity</text>
<line x1="204.00" y1="579.40" x2="204.00" y2="582.00" stroke="#1a1a1a" stroke-width="1.0"/>
<text x="204.00" y="590.40" font-size="7.6" text-anchor="middle" font-weight="normal" fill="#111" stroke="#111" stroke-width="0.14">1</text>
<line x1="228.20" y1="579.40" x2="228.20" y2="582.00" stroke="#1a1a1a" stroke-width="1.0"/>
<text x="228.20" y="590.40" font-size="7.6" text-anchor="middle" font-weight="normal" fill="#111" stroke="#111" stroke-width="0.14">2</text>
<line x1="248.40" y1="579.40" x2="248.40" y2="582.00" stroke="#1a1a1a" stroke-width="1.0"/>
<text x="248.40" y="590.40" font-size="7.6" text-anchor="middle" font-weight="normal" fill="#111" stroke="#111" stroke-width="0.14">3</text>
<line x1="264.60" y1="579.40" x2="264.60" y2="582.00" stroke="#1a1a1a" stroke-width="1.0"/>
<text x="264.60" y="590.40" font-size="7.6" text-anchor="middle" font-weight="normal" fill="#111" stroke="#111" stroke-width="0.14">4</text>
<line x1="278.60" y1="579.40" x2="278.60" y2="582.00" stroke="#1a1a1a" stroke-width="1.0"/>
<text x="278.60" y="590.40" font-size="7.6" text-anchor="middle" font-weight="normal" fill="#111" stroke="#111" stroke-width="0.14">5</text>
<line x1="290.70" y1="579.40" x2="290.70" y2="582.00" stroke="#1a1a1a" stroke-width="1.0"/>
<text x="290.70" y="590.40" font-size="7.6" text-anchor="middle" font-weight="normal" fill="#111" stroke="#111" stroke-width="0.14">6</text>
<line x1="301.10" y1="579.40" x2="301.10" y2="582.00" stroke="#1a1a1a" stroke-width="1.0"/>
<text x="301.10" y="590.40" font-size="7.6" text-anchor="middle" font-weight="normal" fill="#111" stroke="#111" stroke-width="0.14">7</text>
<line x1="310.50" y1="579.40" x2="310.50" y2="582.00" stroke="#1a1a1a" stroke-width="1.0"/>
<text x="310.50" y="590.40" font-size="7.6" text-anchor="middle" font-weight="normal" fill="#111" stroke="#111" stroke-width="0.14">8</text>
<line x1="318.40" y1="579.40" x2="318.40" y2="582.00" stroke="#1a1a1a" stroke-width="1.0"/>
<text x="318.40" y="590.40" font-size="7.6" text-anchor="middle" font-weight="normal" fill="#111" stroke="#111" stroke-width="0.14">9</text>
<line x1="326.00" y1="579.40" x2="326.00" y2="582.00" stroke="#1a1a1a" stroke-width="1.0"/>
<text x="323.40" y="590.40" font-size="7.6" text-anchor="start" font-weight="normal" fill="#111" textLength="18.4" lengthAdjust="spacingAndGlyphs" stroke="#111" stroke-width="0.3">10......</text>
<text x="291.10" y="605.20" font-size="8.6" text-anchor="middle" font-weight="normal" fill="#111" textLength="42.6" lengthAdjust="spacingAndGlyphs" stroke="#111" stroke-width="0.3">Repeat number</text>
<g fill="none" stroke-linejoin="round">
<path d="M198.00,577.07 L198.50,576.58 L199.00,576.12 L199.50,575.62 L200.00,575.70 L200.50,575.89 L201.00,576.54 L201.50,576.66 L202.00,576.77 L202.50,575.89 L203.00,574.41 L203.50,571.19 L204.00,568.37 L204.50,568.92 L205.00,571.88 L205.50,574.49 L206.00,576.27 L206.50,576.63 L207.00,576.24 L207.50,575.78 L208.00,574.08 L208.50,572.44 L209.00,572.07 L209.50,573.83 L210.00,575.78 L210.50,576.36 L211.00,576.52 L211.50,576.80 L212.00,577.22 L212.50,577.37 L213.00,577.11 L213.50,577.22 L214.00,576.75 L214.50,576.75 L215.00,577.05 L215.50,576.84 L216.00,576.84 L216.50,576.35 L217.00,576.06 L217.50,576.31 L218.00,576.44 L218.50,576.48 L219.00,576.40 L219.50,576.19 L220.00,576.81 L220.50,576.89 L221.00,576.73 L221.50,576.83 L222.00,576.55 L222.50,576.46 L223.00,574.97 L223.50,573.09 L224.00,571.36 L224.50,570.77 L225.00,572.55 L225.50,574.30 L226.00,574.16 L226.50,571.54 L227.00,565.22 L227.50,556.71 L228.00,553.68 L228.50,560.11 L229.00,567.72 L229.50,573.22 L230.00,575.11 L230.50,574.64 L231.00,573.79 L231.50,573.55 L232.00,574.31 L232.50,575.48 L233.00,576.52 L233.50,576.35 L234.00,576.92 L234.50,576.94 L235.00,576.69 L235.50,576.82 L236.00,576.41 L236.50,576.78 L237.00,576.40 L237.50,576.24 L238.00,576.33 L238.50,576.20 L239.00,576.47 L239.50,576.32 L240.00,576.28 L240.50,576.45 L241.00,576.58 L241.50,576.43 L242.00,576.53 L242.50,576.70 L243.00,575.83 L243.50,574.87 L244.00,573.19 L244.50,571.96 L245.00,573.05 L245.50,574.64 L246.00,575.03 L246.50,572.90 L247.00,568.42 L247.50,562.80 L248.00,560.66 L248.50,564.46 L249.00,570.38 L249.50,573.99 L250.00,574.88 L250.50,574.82 L251.00,574.73 L251.50,574.90 L252.00,575.58 L252.50,576.46 L253.00,576.78 L253.50,576.96 L254.00,576.64 L254.50,576.83 L255.00,576.67 L255.50,576.33 L256.00,576.16 L256.50,576.51 L257.00,576.53 L257.50,576.77 L258.00,576.85 L258.50,576.83 L259.00,576.56 L259.50,576.28 L260.00,576.66 L260.50,577.07 L261.00,576.95 L261.50,577.16 L262.00,577.22 L262.50,576.40 L263.00,575.78 L263.50,573.88 L264.00,572.28 L264.50,571.63 L265.00,572.96 L265.50,575.14 L266.00,576.32 L266.50,576.21 L267.00,576.31 L267.50,576.49 L268.00,576.30 L268.50,576.15 L269.00,576.32 L269.50,576.44 L270.00,576.80 L270.50,576.80 L271.00,576.97 L271.50,576.67 L272.00,576.50 L272.50,576.76 L273.00,576.52 L273.50,576.79 L274.00,576.92 L274.50,576.54 L275.00,576.41 L275.50,575.87 L276.00,575.47 L276.50,574.57 L277.00,573.48 L277.50,571.12 L278.00,569.75 L278.50,569.31 L279.00,570.52 L279.50,572.37 L280.00,573.88 L280.50,575.11 L281.00,575.51 L281.50,575.59 L282.00,576.12 L282.50,575.77 L283.00,575.59 L283.50,575.84 L284.00,575.71 L284.50,575.89 L285.00,576.12 L285.50,575.89 L286.00,576.25 L286.50,575.83 L287.00,575.36 L287.50,575.44 L288.00,574.47 L288.50,573.46 L289.00,570.27 L289.50,566.44 L290.00,562.03 L290.50,560.99 L291.00,563.41 L291.50,568.26 L292.00,572.21 L292.50,574.05 L293.00,575.03 L293.50,575.50 L294.00,576.09 L294.50,576.31 L295.00,576.27 L295.50,576.50 L296.00,575.86 L296.50,575.64 L297.00,575.33 L297.50,575.26 L298.00,575.33 L298.50,575.08 L299.00,573.33 L299.50,570.90 L300.00,566.75 L300.50,562.81 L301.00,561.54 L301.50,564.50 L302.00,568.89 L302.50,572.26 L303.00,574.71 L303.50,575.52 L304.00,576.11 L304.50,576.27 L305.00,576.45 L305.50,576.21 L306.00,576.18 L306.50,576.29 L307.00,576.29 L307.50,575.85 L308.00,574.90 L308.50,573.94 L309.00,572.43 L309.50,570.36 L310.00,569.12 L310.50,569.53 L311.00,571.22 L311.50,573.24 L312.00,574.94 L312.50,575.75 L313.00,576.10 L313.50,576.16 L314.00,576.18 L314.50,575.69 L315.00,575.68 L315.50,575.39 L316.00,574.77 L316.50,573.77 L317.00,572.28 L317.50,571.35 L318.00,571.14 L318.50,571.92 L319.00,573.79 L319.50,574.81 L320.00,575.59 L320.50,576.20 L321.00,576.53 L321.50,576.11 L322.00,576.34 L322.50,575.94 L323.00,576.01 L323.50,575.41 L324.00,574.49 L324.50,572.33 L325.00,569.74 L325.50,568.57 L326.00,569.09 L326.50,570.79 L327.00,573.18 L327.50,574.66 L328.00,575.23 L328.50,575.30 L329.00,575.79 L329.50,575.53 L330.00,575.49 L330.50,574.79 L331.00,572.64 L331.50,571.03 L332.00,569.04 L332.50,569.10 L333.00,570.82 L333.50,572.75 L334.00,574.23 L334.50,575.34 L335.00,575.73 L335.50,576.01 L336.00,575.45 L336.50,574.79 L337.00,573.76 L337.50,572.89 L338.00,571.74 L338.50,571.84 L339.00,572.53 L339.50,573.68 L340.00,574.40 L340.50,575.01 L341.00,575.22 L341.50,574.99 L342.00,574.98 L342.50,574.02 L343.00,573.46 L343.50,572.97 L344.00,573.62 L344.50,574.04 L345.00,575.32 L345.50,575.38 L346.00,575.25 L346.50,575.30 L347.00,574.53 L347.50,574.03 L348.00,573.07 L348.50,572.55 L349.00,573.00 L349.50,574.20 L350.00,574.65 L350.50,575.45 L351.00,575.07 L351.50,574.48 L352.00,573.71 L352.50,572.95 L353.00,573.33 L353.50,573.56 L354.00,574.33 L354.50,574.33 L355.00,573.86 L355.50,573.25 L356.00,573.29 L356.50,574.09 L357.00,575.03 L357.50,574.93 L358.00,575.07 L358.50,574.51 L359.00,573.65 L359.50,573.58 L360.00,573.77 L360.50,574.25 L361.00,574.68 L361.50,574.87 L362.00,574.22 L362.50,573.84 L363.00,573.65 L363.50,574.13 L364.00,574.24 L364.50,573.92 L365.00,573.79 L365.50,573.57 L366.00,573.76 L366.50,574.57 L367.00,574.23 L367.50,573.81 L368.00,573.58 L368.50,574.21 L369.00,574.93 L369.50,575.42 L370.00,575.26 L370.50,574.50 L371.00,574.45 L371.50,575.05 L372.00,575.41 L372.50,575.75 L373.00,575.25 L373.50,574.57 L374.00,574.04 L374.50,574.74 L375.00,575.20 L375.50,575.64 L376.00,575.03 L376.50,574.47 L377.00,574.40 L377.50,574.32 L378.00,574.85 L378.50,574.91 L379.00,574.92 L379.50,574.78 L380.00,574.21 L380.50,574.31 L381.00,574.81 L381.50,574.86 L382.00,574.84 L382.50,574.48 L383.00,574.87 L383.50,575.33 L384.00,575.84 L384.50,575.70 L385.00,575.29 L385.50,575.27 L386.00,575.00 L386.50,575.44 L387.00,575.48 L387.50,575.40 L388.00,575.71 L388.50,574.97 L389.00,574.82 L389.50,575.46 L390.00,575.94 L390.50,576.52" stroke="#b9a2d6" stroke-width="1.15"/>
<path d="M198.00,575.19 L198.50,573.64 L199.00,571.94 L199.50,569.32 L200.00,567.59 L200.50,569.28 L201.00,571.73 L201.50,573.30 L202.00,572.38 L202.50,567.73 L203.00,555.88 L203.50,536.31 L204.00,517.87 L204.50,520.43 L205.00,540.25 L205.50,558.37 L206.00,568.17 L206.50,571.95 L207.00,572.39 L207.50,570.37 L208.00,565.86 L208.50,560.65 L209.00,559.76 L209.50,564.96 L210.00,570.53 L210.50,573.31 L211.00,574.71 L211.50,575.15 L212.00,575.66 L212.50,576.11 L213.00,576.09 L213.50,576.26 L214.00,575.97 L214.50,575.26 L215.00,575.05 L215.50,575.17 L216.00,573.75 L216.50,572.57 L217.00,571.89 L217.50,572.28 L218.00,573.36 L218.50,574.10 L219.00,574.85 L219.50,574.52 L220.00,574.24 L220.50,574.83 L221.00,574.49 L221.50,574.14 L222.00,573.75 L222.50,572.16 L223.00,568.09 L223.50,560.17 L224.00,552.17 L224.50,550.44 L225.00,557.11 L225.50,562.61 L226.00,561.17 L226.50,547.25 L227.00,515.86 L227.50,476.18 L228.00,462.14 L228.50,491.68 L229.00,531.12 L229.50,556.37 L230.00,565.75 L230.50,566.84 L231.00,563.44 L231.50,562.09 L232.00,564.43 L232.50,569.29 L233.00,572.06 L233.50,573.63 L234.00,574.45 L234.50,574.82 L235.00,574.91 L235.50,575.04 L236.00,575.33 L236.50,575.70 L237.00,575.60 L237.50,575.11 L238.00,575.13 L238.50,575.70 L239.00,575.27 L239.50,575.08 L240.00,574.94 L240.50,575.44 L241.00,575.11 L241.50,575.53 L242.00,574.98 L242.50,574.47 L243.00,572.66 L243.50,567.92 L244.00,562.56 L244.50,558.96 L245.00,561.23 L245.50,566.17 L246.00,567.29 L246.50,559.84 L247.00,543.09 L247.50,521.45 L248.00,514.36 L248.50,530.37 L249.00,551.82 L249.50,564.85 L250.00,569.87 L250.50,568.86 L251.00,567.94 L251.50,568.23 L252.00,571.39 L252.50,573.83 L253.00,574.64 L253.50,575.55 L254.00,575.96 L254.50,575.66 L255.00,575.81 L255.50,576.26 L256.00,575.57 L256.50,576.05 L257.00,576.44 L257.50,576.36 L258.00,576.04 L258.50,575.71 L259.00,576.16 L259.50,576.19 L260.00,576.60 L260.50,576.33 L261.00,575.81 L261.50,575.44 L262.00,574.82 L262.50,573.82 L263.00,571.17 L263.50,566.64 L264.00,561.92 L264.50,561.71 L265.00,566.09 L265.50,571.29 L266.00,574.61 L266.50,575.64 L267.00,575.52 L267.50,576.13 L268.00,576.01 L268.50,576.15 L269.00,576.11 L269.50,576.47 L270.00,575.86 L270.50,576.21 L271.00,576.06 L271.50,576.17 L272.00,576.64 L272.50,576.37 L273.00,576.62 L273.50,576.85 L274.00,576.99 L274.50,576.92 L275.00,576.87 L275.50,576.12 L276.00,575.37 L276.50,573.52 L277.00,570.91 L277.50,567.54 L278.00,565.44 L278.50,565.27 L279.00,567.99 L279.50,571.01 L280.00,573.39 L280.50,574.61 L281.00,575.24 L281.50,575.95 L282.00,576.16 L282.50,576.17 L283.00,576.71 L283.50,577.01 L284.00,576.81 L284.50,577.00 L285.00,576.48 L285.50,576.66 L286.00,576.90 L286.50,576.95 L287.00,576.89 L287.50,576.77 L288.00,576.15 L288.50,575.26 L289.00,573.90 L289.50,571.54 L290.00,569.77 L290.50,568.61 L291.00,569.60 L291.50,571.81 L292.00,573.99 L292.50,575.25 L293.00,575.81 L293.50,576.58 L294.00,576.63 L294.50,576.54 L295.00,576.84 L295.50,577.11 L296.00,576.55 L296.50,576.66 L297.00,576.56 L297.50,576.08 L298.00,576.07 L298.50,576.27 L299.00,575.41 L299.50,575.07 L300.00,574.65 L300.50,573.33 L301.00,573.42 L301.50,574.10 L302.00,574.61 L302.50,575.37 L303.00,576.50 L303.50,576.66 L304.00,576.76 L304.50,576.72 L305.00,576.97 L305.50,576.73 L306.00,577.11 L306.50,577.12 L307.00,577.02 L307.50,576.36 L308.00,576.76 L308.50,576.15 L309.00,576.13 L309.50,575.53 L310.00,575.34 L310.50,575.44 L311.00,575.52 L311.50,576.10 L312.00,576.76 L312.50,577.14 L313.00,577.39 L313.50,576.74 L314.00,576.55 L314.50,576.10 L315.00,576.09 L315.50,576.73 L316.00,576.36 L316.50,575.87 L317.00,575.45 L317.50,575.35 L318.00,575.56 L318.50,575.85 L319.00,575.85 L319.50,576.46 L320.00,576.55 L320.50,576.63 L321.00,576.18 L321.50,576.05 L322.00,575.84 L322.50,575.81 L323.00,576.31 L323.50,576.60 L324.00,576.37 L324.50,576.27 L325.00,575.85 L325.50,575.33 L326.00,575.03 L326.50,575.47 L327.00,575.64 L327.50,576.52 L328.00,576.76 L328.50,576.22 L329.00,576.75 L329.50,576.77 L330.00,577.09 L330.50,577.15 L331.00,576.18 L331.50,575.34 L332.00,575.13 L332.50,575.71 L333.00,576.16 L333.50,576.64 L334.00,576.53 L334.50,576.44 L335.00,576.60 L335.50,576.59 L336.00,576.96 L336.50,576.66 L337.00,575.93 L337.50,575.53 L338.00,575.90 L338.50,575.80 L339.00,575.77 L339.50,576.37 L340.00,576.13 L340.50,576.42 L341.00,576.30 L341.50,576.47 L342.00,575.87 L342.50,575.60 L343.00,575.55 L343.50,575.99 L344.00,576.12 L344.50,576.78 L345.00,576.67 L345.50,576.31 L346.00,576.79 L346.50,576.68 L347.00,576.54 L347.50,576.41 L348.00,575.91 L348.50,575.36 L349.00,575.43 L349.50,575.88 L350.00,575.72 L350.50,576.25 L351.00,576.04 L351.50,575.86 L352.00,575.52 L352.50,575.21 L353.00,575.82 L353.50,575.93 L354.00,576.26 L354.50,576.12 L355.00,575.60 L355.50,575.57 L356.00,576.26 L356.50,576.35 L357.00,576.23 L357.50,575.96 L358.00,575.94 L358.50,575.64 L359.00,576.22 L359.50,575.69 L360.00,575.73 L360.50,575.95 L361.00,575.73 L361.50,575.52 L362.00,576.09 L362.50,575.67 L363.00,575.57 L363.50,576.17 L364.00,575.96 L364.50,575.90 L365.00,576.21 L365.50,575.81 L366.00,576.36 L366.50,576.23 L367.00,576.26 L367.50,576.37 L368.00,576.13 L368.50,576.20 L369.00,576.60 L369.50,576.04 L370.00,576.52 L370.50,576.78 L371.00,576.45 L371.50,576.01 L372.00,576.02 L372.50,575.91 L373.00,576.02 L373.50,575.79 L374.00,576.01 L374.50,576.33 L375.00,576.38 L375.50,576.87 L376.00,577.01 L376.50,576.30 L377.00,576.48 L377.50,576.12 L378.00,575.96 L378.50,576.23 L379.00,576.02 L379.50,575.67 L380.00,575.39 L380.50,576.10 L381.00,576.59 L381.50,576.64 L382.00,576.48 L382.50,576.45 L383.00,576.74 L383.50,576.48 L384.00,575.99 L384.50,576.30 L385.00,576.20 L385.50,576.20 L386.00,576.15 L386.50,575.80 L387.00,576.27 L387.50,576.18 L388.00,576.20 L388.50,576.05 L389.00,575.59 L389.50,576.32 L390.00,576.14 L390.50,576.63" stroke="#e8848f" stroke-width="1.15" stroke-opacity="0.9"/>
<path d="M198.00,576.56 L198.50,576.26 L199.00,575.09 L199.50,573.92 L200.00,573.56 L200.50,574.19 L201.00,574.72 L201.50,575.02 L202.00,574.57 L202.50,573.03 L203.00,567.97 L203.50,559.67 L204.00,552.05 L204.50,553.32 L205.00,561.90 L205.50,569.18 L206.00,573.15 L206.50,574.46 L207.00,574.34 L207.50,573.54 L208.00,571.10 L208.50,568.04 L209.00,567.52 L209.50,570.03 L210.00,572.83 L210.50,575.19 L211.00,575.82 L211.50,575.94 L212.00,576.11 L212.50,576.47 L213.00,576.44 L213.50,576.76 L214.00,576.20 L214.50,575.92 L215.00,576.00 L215.50,576.21 L216.00,575.56 L216.50,575.42 L217.00,575.03 L217.50,575.06 L218.00,575.53 L218.50,575.91 L219.00,575.94 L219.50,576.06 L220.00,576.32 L220.50,576.31 L221.00,575.82 L221.50,576.10 L222.00,576.03 L222.50,574.77 L223.00,572.62 L223.50,568.37 L224.00,563.88 L224.50,563.15 L225.00,566.05 L225.50,569.60 L226.00,569.00 L226.50,561.56 L227.00,544.39 L227.50,523.39 L228.00,515.85 L228.50,531.27 L229.00,552.41 L229.50,565.76 L230.00,570.49 L230.50,571.14 L231.00,569.61 L231.50,568.58 L232.00,569.82 L232.50,572.42 L233.00,574.64 L233.50,575.67 L234.00,576.21 L234.50,576.23 L235.00,576.60 L235.50,576.26 L236.00,575.83 L236.50,575.58 L237.00,575.62 L237.50,575.44 L238.00,576.16 L238.50,576.35 L239.00,575.87 L239.50,575.73 L240.00,576.06 L240.50,575.70 L241.00,575.74 L241.50,575.55 L242.00,575.79 L242.50,575.74 L243.00,574.71 L243.50,572.86 L244.00,569.87 L244.50,567.58 L245.00,569.15 L245.50,571.83 L246.00,572.38 L246.50,568.63 L247.00,559.03 L247.50,547.60 L248.00,543.59 L248.50,552.40 L249.00,563.18 L249.50,570.58 L250.00,573.59 L250.50,574.13 L251.00,573.92 L251.50,574.23 L252.00,574.77 L252.50,575.83 L253.00,576.54 L253.50,576.48 L254.00,576.63 L254.50,576.05 L255.00,576.48 L255.50,576.39 L256.00,576.12 L256.50,576.29 L257.00,575.88 L257.50,576.08 L258.00,576.41 L258.50,576.46 L259.00,576.81 L259.50,576.68 L260.00,576.79 L260.50,576.25 L261.00,575.96 L261.50,576.03 L262.00,576.34 L262.50,575.88 L263.00,574.47 L263.50,571.84 L264.00,568.94 L264.50,568.02 L265.00,571.00 L265.50,574.18 L266.00,575.30 L266.50,575.94 L267.00,575.77 L267.50,576.14 L268.00,575.91 L268.50,576.00 L269.00,575.94 L269.50,575.94 L270.00,576.17 L270.50,576.66 L271.00,576.85 L271.50,576.39 L272.00,576.08 L272.50,575.88 L273.00,576.27 L273.50,576.22 L274.00,576.06 L274.50,576.08 L275.00,575.92 L275.50,575.99 L276.00,575.73 L276.50,575.14 L277.00,574.44 L277.50,572.65 L278.00,571.16 L278.50,571.63 L279.00,572.32 L279.50,573.53 L280.00,574.80 L280.50,576.09 L281.00,576.02 L281.50,576.60 L282.00,576.19 L282.50,576.20 L283.00,576.74 L283.50,576.97 L284.00,576.70 L284.50,576.59 L285.00,576.37 L285.50,576.07 L286.00,576.50 L286.50,576.94 L287.00,576.36 L287.50,576.72 L288.00,575.96 L288.50,575.67 L289.00,574.01 L289.50,571.96 L290.00,569.95 L290.50,569.56 L291.00,570.60 L291.50,573.03 L292.00,574.56 L292.50,575.82 L293.00,575.96 L293.50,576.06 L294.00,576.34 L294.50,576.46 L295.00,576.97 L295.50,577.27 L296.00,576.96 L296.50,576.87 L297.00,576.48 L297.50,576.46 L298.00,576.83 L298.50,576.76 L299.00,576.17 L299.50,575.68 L300.00,575.41 L300.50,574.24 L301.00,573.75 L301.50,574.74 L302.00,575.42 L302.50,576.18 L303.00,576.28 L303.50,576.71 L304.00,577.00 L304.50,576.93 L305.00,576.47 L305.50,576.95 L306.00,577.22 L306.50,576.94 L307.00,576.52 L307.50,576.57 L308.00,576.58 L308.50,576.07 L309.00,575.60 L309.50,575.74 L310.00,575.10 L310.50,575.60 L311.00,576.12 L311.50,576.13 L312.00,576.54 L312.50,576.43 L313.00,576.90 L313.50,576.55 L314.00,576.94 L314.50,577.19 L315.00,577.02 L315.50,577.01 L316.00,576.74 L316.50,576.10 L317.00,575.71 L317.50,576.01 L318.00,576.05 L318.50,576.14 L319.00,576.41 L319.50,576.44 L320.00,576.66 L320.50,577.12 L321.00,577.24 L321.50,576.77 L322.00,576.92 L322.50,576.64 L323.00,576.25 L323.50,576.27 L324.00,576.12 L324.50,575.91 L325.00,575.89 L325.50,575.34 L326.00,575.62 L326.50,575.64 L327.00,576.32 L327.50,576.25 L328.00,576.27 L328.50,576.41 L329.00,576.63 L329.50,577.00 L330.00,576.62 L330.50,576.63 L331.00,576.21 L331.50,576.25 L332.00,576.27 L332.50,576.40 L333.00,576.17 L333.50,576.73 L334.00,576.48 L334.50,576.78 L335.00,576.75 L335.50,576.91 L336.00,576.72 L336.50,576.99 L337.00,576.74 L337.50,575.97 L338.00,576.10 L338.50,575.88 L339.00,576.26 L339.50,576.67 L340.00,577.20 L340.50,577.52 L341.00,576.85 L341.50,576.49 L342.00,576.20 L342.50,575.89 L343.00,575.47 L343.50,575.95 L344.00,576.03 L344.50,576.33 L345.00,576.50 L345.50,576.29 L346.00,576.29 L346.50,576.05 L347.00,576.56 L347.50,576.27 L348.00,575.95 L348.50,575.70 L349.00,575.81 L349.50,575.86 L350.00,576.43 L350.50,576.20 L351.00,576.41 L351.50,576.23 L352.00,575.74 L352.50,575.60 L353.00,576.01 L353.50,576.48 L354.00,576.71 L354.50,576.52 L355.00,575.97 L355.50,575.66 L356.00,575.97 L356.50,576.30 L357.00,576.21 L357.50,576.60 L358.00,576.63 L358.50,576.88 L359.00,576.82 L359.50,576.54 L360.00,576.38 L360.50,576.42 L361.00,576.62 L361.50,576.13 L362.00,576.01 L362.50,576.32 L363.00,576.68 L363.50,576.19 L364.00,575.87 L364.50,575.64 L365.00,575.71 L365.50,576.06 L366.00,576.57 L366.50,576.76 L367.00,576.83 L367.50,576.16 L368.00,575.80 L368.50,575.79 L369.00,576.44 L369.50,576.72 L370.00,576.74 L370.50,576.08 L371.00,576.38 L371.50,576.13 L372.00,576.17 L372.50,576.29 L373.00,575.90 L373.50,576.18 L374.00,576.12 L374.50,576.53 L375.00,576.93 L375.50,577.20 L376.00,577.01 L376.50,576.97 L377.00,577.00 L377.50,576.33 L378.00,576.64 L378.50,576.27 L379.00,576.12 L379.50,575.90 L380.00,575.84 L380.50,575.67 L381.00,575.72 L381.50,575.88 L382.00,576.01 L382.50,575.86 L383.00,575.76 L383.50,575.97 L384.00,576.24 L384.50,576.69 L385.00,576.25 L385.50,576.19 L386.00,576.54 L386.50,576.78 L387.00,576.41 L387.50,576.70 L388.00,576.66 L388.50,576.28 L389.00,575.91 L389.50,576.31 L390.00,576.64 L390.50,576.87" stroke="#34b23c" stroke-width="1.15"/>
<path d="M198.00,577.20 L198.50,576.72 L199.00,575.95 L199.50,574.97 L200.00,574.71 L200.50,575.08 L201.00,576.39 L201.50,576.80 L202.00,576.37 L202.50,575.67 L203.00,573.59 L203.50,570.91 L204.00,567.99 L204.50,568.58 L205.00,571.64 L205.50,574.48 L206.00,576.44 L206.50,577.01 L207.00,576.86 L207.50,575.55 L208.00,573.81 L208.50,572.49 L209.00,571.99 L209.50,573.91 L210.00,575.42 L210.50,576.71 L211.00,577.39 L211.50,576.98 L212.00,577.24 L212.50,577.36 L213.00,576.82 L213.50,576.58 L214.00,576.90 L214.50,576.54 L215.00,576.65 L215.50,576.58 L216.00,576.81 L216.50,576.32 L217.00,576.21 L217.50,576.04 L218.00,576.07 L218.50,576.58 L219.00,576.81 L219.50,577.09 L220.00,577.25 L220.50,577.39 L221.00,577.27 L221.50,576.90 L222.00,577.04 L222.50,576.25 L223.00,575.19 L223.50,573.24 L224.00,570.67 L224.50,570.33 L225.00,572.23 L225.50,573.87 L226.00,573.64 L226.50,571.05 L227.00,563.75 L227.50,555.69 L228.00,552.34 L228.50,558.43 L229.00,567.40 L229.50,572.51 L230.00,574.70 L230.50,574.66 L231.00,574.29 L231.50,574.05 L232.00,574.77 L232.50,575.29 L233.00,576.35 L233.50,576.44 L234.00,576.27 L234.50,576.13 L235.00,576.52 L235.50,576.75 L236.00,576.73 L236.50,576.54 L237.00,576.96 L237.50,576.70 L238.00,576.49 L238.50,576.32 L239.00,576.88 L239.50,576.47 L240.00,576.94 L240.50,576.99 L241.00,576.78 L241.50,576.38 L242.00,576.55 L242.50,576.02 L243.00,575.53 L243.50,574.53 L244.00,572.94 L244.50,572.12 L245.00,573.15 L245.50,574.63 L246.00,574.65 L246.50,572.49 L247.00,568.61 L247.50,563.49 L248.00,560.99 L248.50,565.08 L249.00,570.59 L249.50,574.21 L250.00,575.22 L250.50,574.84 L251.00,574.59 L251.50,574.87 L252.00,575.90 L252.50,576.03 L253.00,576.80 L253.50,576.82 L254.00,576.53 L254.50,576.92 L255.00,576.67 L255.50,576.35 L256.00,576.41 L256.50,576.33 L257.00,576.83 L257.50,576.86 L258.00,577.11 L258.50,576.69 L259.00,576.89 L259.50,576.87 L260.00,576.44 L260.50,576.27 L261.00,576.04 L261.50,576.30 L262.00,576.35 L262.50,575.94 L263.00,575.29 L263.50,574.08 L264.00,572.57 L264.50,572.60 L265.00,573.96 L265.50,574.96 L266.00,575.58 L266.50,576.01 L267.00,576.28 L267.50,576.54 L268.00,576.88 L268.50,576.94 L269.00,576.56 L269.50,576.26 L270.00,576.48 L270.50,576.27 L271.00,576.14 L271.50,576.12 L272.00,576.12 L272.50,576.04 L273.00,576.30 L273.50,576.16 L274.00,576.40 L274.50,576.35 L275.00,576.05 L275.50,575.80 L276.00,575.67 L276.50,574.43 L277.00,572.87 L277.50,570.80 L278.00,569.42 L278.50,569.02 L279.00,570.81 L279.50,572.73 L280.00,574.45 L280.50,575.16 L281.00,575.59 L281.50,575.62 L282.00,575.97 L282.50,575.92 L283.00,575.81 L283.50,575.66 L284.00,575.94 L284.50,575.70 L285.00,575.52 L285.50,575.54 L286.00,575.29 L286.50,575.12 L287.00,575.28 L287.50,575.16 L288.00,574.86 L288.50,572.94 L289.00,569.60 L289.50,565.42 L290.00,561.06 L290.50,559.68 L291.00,562.54 L291.50,567.58 L292.00,571.27 L292.50,573.71 L293.00,574.82 L293.50,575.46 L294.00,575.59 L294.50,575.51 L295.00,575.57 L295.50,575.53 L296.00,576.05 L296.50,576.23 L297.00,576.08 L297.50,575.74 L298.00,575.69 L298.50,574.76 L299.00,573.12 L299.50,570.63 L300.00,566.35 L300.50,562.38 L301.00,561.31 L301.50,564.15 L302.00,568.46 L302.50,572.29 L303.00,574.62 L303.50,575.88 L304.00,576.08 L304.50,576.17 L305.00,576.01 L305.50,575.93 L306.00,576.14 L306.50,575.72 L307.00,576.13 L307.50,575.90 L308.00,575.48 L308.50,574.37 L309.00,572.86 L309.50,570.38 L310.00,569.21 L310.50,570.14 L311.00,571.76 L311.50,573.94 L312.00,575.06 L312.50,575.80 L313.00,575.97 L313.50,575.68 L314.00,575.56 L314.50,575.79 L315.00,575.55 L315.50,575.37 L316.00,575.12 L316.50,574.55 L317.00,573.16 L317.50,572.02 L318.00,571.53 L318.50,572.25 L319.00,573.64 L319.50,574.92 L320.00,575.23 L320.50,576.03 L321.00,576.36 L321.50,576.16 L322.00,575.96 L322.50,576.17 L323.00,575.71 L323.50,574.77 L324.00,573.75 L324.50,571.84 L325.00,569.72 L325.50,568.32 L326.00,568.50 L326.50,570.83 L327.00,572.67 L327.50,574.01 L328.00,574.95 L328.50,575.62 L329.00,575.32 L329.50,575.37 L330.00,575.12 L330.50,574.34 L331.00,572.25 L331.50,570.27 L332.00,568.90 L332.50,569.11 L333.00,571.22 L333.50,573.08 L334.00,574.61 L334.50,575.58 L335.00,575.61 L335.50,575.45 L336.00,575.82 L336.50,575.27 L337.00,574.56 L337.50,572.96 L338.00,571.82 L338.50,572.05 L339.00,573.14 L339.50,574.53 L340.00,574.91 L340.50,575.65 L341.00,575.68 L341.50,575.56 L342.00,574.96 L342.50,574.14 L343.00,573.15 L343.50,573.16 L344.00,573.31 L344.50,574.41 L345.00,575.13 L345.50,575.73 L346.00,575.97 L346.50,575.65 L347.00,575.04 L347.50,574.09 L348.00,572.62 L348.50,571.82 L349.00,572.59 L349.50,573.76 L350.00,574.69 L350.50,574.80 L351.00,574.44 L351.50,573.89 L352.00,573.45 L352.50,572.52 L353.00,572.87 L353.50,573.63 L354.00,574.15 L354.50,574.24 L355.00,573.95 L355.50,573.18 L356.00,573.40 L356.50,574.10 L357.00,574.48 L357.50,575.18 L358.00,575.19 L358.50,574.35 L359.00,574.25 L359.50,573.81 L360.00,574.15 L360.50,574.81 L361.00,575.23 L361.50,574.73 L362.00,573.98 L362.50,574.06 L363.00,574.17 L363.50,574.47 L364.00,574.66 L364.50,574.64 L365.00,574.58 L365.50,574.34 L366.00,574.34 L366.50,575.03 L367.00,575.13 L367.50,574.48 L368.00,574.12 L368.50,574.32 L369.00,575.20 L369.50,575.10 L370.00,574.58 L370.50,573.98 L371.00,573.87 L371.50,574.68 L372.00,574.78 L372.50,575.31 L373.00,575.04 L373.50,574.39 L374.00,574.20 L374.50,574.85 L375.00,575.35 L375.50,575.09 L376.00,575.31 L376.50,574.82 L377.00,574.70 L377.50,575.15 L378.00,575.29 L378.50,575.80 L379.00,575.84 L379.50,575.42 L380.00,575.43 L380.50,575.72 L381.00,575.69 L381.50,575.49 L382.00,575.03 L382.50,575.13 L383.00,574.97 L383.50,575.26 L384.00,575.42 L384.50,575.58 L385.00,575.12 L385.50,575.09 L386.00,575.34 L386.50,575.24 L387.00,575.82 L387.50,575.76 L388.00,575.65 L388.50,575.09 L389.00,575.06 L389.50,575.25 L390.00,575.90 L390.50,576.18" stroke="#c8112f" stroke-width="1.15"/>
</g>
<line x1="238.00" y1="444.30" x2="245.80" y2="444.30" stroke="#c8112f" stroke-width="1.2"/>
<text x="250.60" y="446.80" font-size="7.2" text-anchor="start" font-weight="normal" fill="#111" stroke="#111" stroke-width="0.14">L557P</text>
<line x1="238.00" y1="452.30" x2="245.80" y2="452.30" stroke="#e8848f" stroke-width="1.2"/>
<text x="250.60" y="454.80" font-size="7.2" text-anchor="start" font-weight="normal" fill="#111" stroke="#111" stroke-width="0.14">K1050E</text>
<line x1="238.00" y1="460.30" x2="245.80" y2="460.30" stroke="#34b23c" stroke-width="1.2"/>
<text x="250.60" y="462.80" font-size="7.2" text-anchor="start" font-weight="normal" fill="#111" stroke="#111" stroke-width="0.14">L557P + K1050E</text>
<line x1="238.00" y1="468.30" x2="245.80" y2="468.30" stroke="#b9a2d6" stroke-width="1.2"/>
<text x="250.60" y="470.80" font-size="7.2" text-anchor="start" font-weight="normal" fill="#111" stroke="#111" stroke-width="0.14">WT + L557P</text>
<rect x="284.3" y="550.3" width="106.3" height="44.1" fill="none" stroke="#555" stroke-width="0.9" stroke-dasharray="3.4,2.6"/>
<line x1="326.70" y1="404.50" x2="354.00" y2="428.80" stroke="#111" stroke-width="1.0"/>
<path d="M356.2,430.6 L350.6,428.8 L353.6,425.4 z" fill="#111"/>
<line x1="322.90" y1="550.40" x2="354.00" y2="520.60" stroke="#111" stroke-width="1.0"/>
<path d="M356.2,518.5 L353.9,524.0 L350.6,520.6 z" fill="#111"/>
<clipPath id="clip416"><rect x="356.4" y="416.20" width="155.2" height="52.50"/></clipPath>
<g clip-path="url(#clip416)" fill="none" stroke-linejoin="round">
<path d="M354.22,462.01 L354.95,461.56 L355.68,462.08 L356.40,461.56 L357.13,461.99 L357.86,461.31 L358.59,461.12 L359.32,461.36 L360.05,461.53 L360.77,461.46 L361.50,458.83 L362.23,455.46 L362.96,446.99 L363.69,435.30 L364.42,424.63 L365.15,421.95 L365.87,428.65 L366.60,439.76 L367.33,449.73 L368.06,456.15 L368.79,459.48 L369.52,460.96 L370.25,461.80 L370.97,461.56 L371.70,461.74 L372.43,462.16 L373.16,462.50 L373.89,461.84 L374.62,461.86 L375.34,461.36 L376.07,460.75 L376.80,458.12 L377.53,453.29 L378.26,446.03 L378.99,434.45 L379.72,422.77 L380.44,418.17 L381.17,425.78 L381.90,438.81 L382.63,450.05 L383.36,456.25 L384.09,458.97 L384.82,459.86 L385.54,460.98 L386.27,460.80 L387.00,460.95 L387.73,461.27 L388.46,460.70 L389.19,461.27 L389.91,460.46 L390.64,459.78 L391.37,457.09 L392.10,451.29 L392.83,445.96 L393.56,441.82 L394.29,443.46 L395.01,448.52 L395.74,454.51 L396.47,458.66 L397.20,460.93 L397.93,461.24 L398.66,461.53 L399.39,461.06 L400.11,460.83 L400.84,461.58 L401.57,460.96 L402.30,460.20 L403.03,458.14 L403.76,454.94 L404.48,450.93 L405.21,450.10 L405.94,452.41 L406.67,456.40 L407.40,459.06 L408.13,460.37 L408.86,461.44 L409.58,461.67 L410.31,462.20 L411.04,462.65 L411.77,462.54 L412.50,461.15 L413.23,459.81 L413.96,456.59 L414.68,452.60 L415.41,447.97 L416.14,444.31 L416.87,445.45 L417.60,451.12 L418.33,455.55 L419.05,459.46 L419.78,461.50 L420.51,461.26 L421.24,462.03 L421.97,461.80 L422.70,459.70 L423.43,457.37 L424.15,453.55 L424.88,448.24 L425.61,444.04 L426.34,443.91 L427.07,449.23 L427.80,453.86 L428.53,458.14 L429.25,459.66 L429.98,460.26 L430.71,461.16 L431.44,461.32 L432.17,460.29 L432.90,458.88 L433.62,455.77 L434.35,454.10 L435.08,454.24 L435.81,455.14 L436.54,458.13 L437.27,459.98 L438.00,461.22 L438.72,461.78 L439.45,461.96 L440.18,460.04 L440.91,457.75 L441.64,455.56 L442.37,455.70 L443.10,457.03 L443.82,458.60 L444.55,459.55 L445.28,460.77 L446.01,460.98 L446.74,460.55 L447.47,459.85 L448.19,457.62 L448.92,455.34 L449.65,453.98 L450.38,455.10 L451.11,457.38 L451.84,458.57 L452.57,459.87 L453.29,459.36 L454.02,457.71 L454.75,455.09 L455.48,454.19 L456.21,455.21 L456.94,457.31 L457.67,459.05 L458.39,458.85 L459.12,457.76 L459.85,457.45 L460.58,457.71 L461.31,458.64 L462.04,459.76 L462.76,460.30 L463.49,460.50 L464.22,460.14 L464.95,459.18 L465.68,459.33 L466.41,459.68 L467.14,461.05 L467.86,461.67 L468.59,460.56 L469.32,459.69 L470.05,458.29 L470.78,458.52 L471.51,458.70 L472.24,459.75 L472.96,459.34 L473.69,458.30 L474.42,458.99 L475.15,458.81 L475.88,459.99 L476.61,459.45 L477.33,458.34 L478.06,457.94 L478.79,459.07 L479.52,460.56 L480.25,460.79 L480.98,459.85 L481.71,459.67 L482.43,458.73 L483.16,459.88 L483.89,459.93 L484.62,461.11 L485.35,460.90 L486.08,459.43 L486.81,458.71 L487.53,458.79 L488.26,459.43 L488.99,459.88 L489.72,459.75 L490.45,459.93 L491.18,459.70 L491.90,460.56 L492.63,460.74 L493.36,460.85 L494.09,461.07 L494.82,461.03 L495.55,459.74 L496.28,459.74 L497.00,460.52 L497.73,460.91 L498.46,460.25 L499.19,459.98 L499.92,459.94 L500.65,460.56 L501.38,461.49 L502.10,462.32 L502.83,461.52 L503.56,460.96 L504.29,460.43 L505.02,461.37 L505.75,461.92 L506.47,462.52 L507.20,462.53 L507.93,461.97 L508.66,460.88 L509.39,461.39 L510.12,462.21 L510.85,462.65" stroke="#1b4f8c" stroke-width="1.3" stroke-opacity="1"/>
<path d="M354.22,464.31 L354.95,464.80 L355.68,464.47 L356.40,464.78 L357.13,463.93 L357.86,464.23 L358.59,464.62 L359.32,464.70 L360.05,464.60 L360.77,464.41 L361.50,463.38 L362.23,461.94 L362.96,459.72 L363.69,455.85 L364.42,452.96 L365.15,451.07 L365.87,452.69 L366.60,456.30 L367.33,459.86 L368.06,461.92 L368.79,462.83 L369.52,464.09 L370.25,464.17 L370.97,464.03 L371.70,464.52 L372.43,464.96 L373.16,464.04 L373.89,464.22 L374.62,464.07 L375.34,463.27 L376.07,463.25 L376.80,463.58 L377.53,462.19 L378.26,461.62 L378.99,460.94 L379.72,458.79 L380.44,458.93 L381.17,460.04 L381.90,460.87 L382.63,462.11 L383.36,463.95 L384.09,464.23 L384.82,464.38 L385.54,464.31 L386.27,464.73 L387.00,464.34 L387.73,464.96 L388.46,464.98 L389.19,464.82 L389.91,463.73 L390.64,464.39 L391.37,463.39 L392.10,463.37 L392.83,462.38 L393.56,462.07 L394.29,462.23 L395.01,462.36 L395.74,463.30 L396.47,464.39 L397.20,465.01 L397.93,465.42 L398.66,464.35 L399.39,464.04 L400.11,463.31 L400.84,463.30 L401.57,464.33 L402.30,463.74 L403.03,462.93 L403.76,462.25 L404.48,462.08 L405.21,462.43 L405.94,462.91 L406.67,462.90 L407.40,463.89 L408.13,464.04 L408.86,464.18 L409.58,463.44 L410.31,463.23 L411.04,462.89 L411.77,462.83 L412.50,463.65 L413.23,464.13 L413.96,463.76 L414.68,463.59 L415.41,462.90 L416.14,462.05 L416.87,461.56 L417.60,462.28 L418.33,462.56 L419.05,464.00 L419.78,464.39 L420.51,463.51 L421.24,464.37 L421.97,464.40 L422.70,464.92 L423.43,465.02 L424.15,463.44 L424.88,462.06 L425.61,461.72 L426.34,462.68 L427.07,463.40 L427.80,464.20 L428.53,464.01 L429.25,463.86 L429.98,464.13 L430.71,464.11 L431.44,464.72 L432.17,464.23 L432.90,463.02 L433.62,462.38 L434.35,462.98 L435.08,462.82 L435.81,462.77 L436.54,463.75 L437.27,463.35 L438.00,463.82 L438.72,463.63 L439.45,463.92 L440.18,462.94 L440.91,462.49 L441.64,462.41 L442.37,463.12 L443.10,463.34 L443.82,464.42 L444.55,464.24 L445.28,463.66 L446.01,464.43 L446.74,464.25 L447.47,464.03 L448.19,463.82 L448.92,462.99 L449.65,462.11 L450.38,462.21 L451.11,462.95 L451.84,462.69 L452.57,463.55 L453.29,463.21 L454.02,462.92 L454.75,462.36 L455.48,461.86 L456.21,462.85 L456.94,463.03 L457.67,463.57 L458.39,463.33 L459.12,462.49 L459.85,462.45 L460.58,463.57 L461.31,463.72 L462.04,463.52 L462.76,463.08 L463.49,463.05 L464.22,462.56 L464.95,463.51 L465.68,462.64 L466.41,462.70 L467.14,463.06 L467.86,462.71 L468.59,462.36 L469.32,463.29 L470.05,462.60 L470.78,462.44 L471.51,463.43 L472.24,463.08 L472.96,462.98 L473.69,463.48 L474.42,462.83 L475.15,463.73 L475.88,463.52 L476.61,463.57 L477.33,463.76 L478.06,463.35 L478.79,463.47 L479.52,464.12 L480.25,463.21 L480.98,463.99 L481.71,464.42 L482.43,463.87 L483.16,463.16 L483.89,463.18 L484.62,463.00 L485.35,463.18 L486.08,462.80 L486.81,463.16 L487.53,463.68 L488.26,463.76 L488.99,464.56 L489.72,464.79 L490.45,463.64 L491.18,463.93 L491.90,463.34 L492.63,463.08 L493.36,463.53 L494.09,463.18 L494.82,462.61 L495.55,462.16 L496.28,463.31 L497.00,464.11 L497.73,464.19 L498.46,463.93 L499.19,463.89 L499.92,464.35 L500.65,463.92 L501.38,463.13 L502.10,463.63 L502.83,463.48 L503.56,463.47 L504.29,463.38 L505.02,462.83 L505.75,463.59 L506.47,463.44 L507.20,463.47 L507.93,463.22 L508.66,462.48 L509.39,463.67 L510.12,463.38 L510.85,464.18" stroke="#e8848f" stroke-width="1.3" stroke-opacity="0.9"/>
<path d="M354.22,462.03 L354.95,461.91 L355.68,461.58 L356.40,462.02 L357.13,462.56 L357.86,462.62 L358.59,461.87 L359.32,462.07 L360.05,461.89 L360.77,461.22 L361.50,459.60 L362.23,455.93 L362.96,448.19 L363.69,438.85 L364.42,429.65 L365.15,425.64 L365.87,431.74 L366.60,441.80 L367.33,451.27 L368.06,456.36 L368.79,458.80 L369.52,460.77 L370.25,460.99 L370.97,460.92 L371.70,461.12 L372.43,461.43 L373.16,461.92 L373.89,462.09 L374.62,462.28 L375.34,462.46 L376.07,461.41 L376.80,460.11 L377.53,456.19 L378.26,450.74 L378.99,441.06 L379.72,432.15 L380.44,428.98 L381.17,434.64 L381.90,443.85 L382.63,452.28 L383.36,458.22 L384.09,460.17 L384.82,461.71 L385.54,462.26 L386.27,462.01 L387.00,462.04 L387.73,462.17 L388.46,461.47 L389.19,461.39 L389.91,461.38 L390.64,460.67 L391.37,457.71 L392.10,454.11 L392.83,449.34 L393.56,446.98 L394.29,448.75 L395.01,452.71 L395.74,456.41 L396.47,459.95 L397.20,460.97 L397.93,461.21 L398.66,461.32 L399.39,461.25 L400.11,462.35 L400.84,461.97 L401.57,461.03 L402.30,460.82 L403.03,459.05 L403.76,456.48 L404.48,453.82 L405.21,453.52 L405.94,455.53 L406.67,457.80 L407.40,460.80 L408.13,462.48 L408.86,463.16 L409.58,463.46 L410.31,463.64 L411.04,462.39 L411.77,461.73 L412.50,462.10 L413.23,460.97 L413.96,459.08 L414.68,455.82 L415.41,451.88 L416.14,448.97 L416.87,449.95 L417.60,453.84 L418.33,457.96 L419.05,460.56 L419.78,462.21 L420.51,462.29 L421.24,461.89 L421.97,461.81 L422.70,461.51 L423.43,459.74 L424.15,456.20 L424.88,451.47 L425.61,447.68 L426.34,448.39 L427.07,451.65 L427.80,455.87 L428.53,459.25 L429.25,461.21 L429.98,461.90 L430.71,461.75 L431.44,461.73 L432.17,460.69 L432.90,459.37 L433.62,457.74 L434.35,455.81 L435.08,455.28 L435.81,457.59 L436.54,459.61 L437.27,461.21 L438.00,461.44 L438.72,461.21 L439.45,461.48 L440.18,460.26 L440.91,458.87 L441.64,458.17 L442.37,457.62 L443.10,458.86 L443.82,459.66 L444.55,460.76 L445.28,461.11 L446.01,461.22 L446.74,461.01 L447.47,460.02 L448.19,458.58 L448.92,457.41 L449.65,455.94 L450.38,457.21 L451.11,459.21 L451.84,460.16 L452.57,461.65 L453.29,461.74 L454.02,460.79 L454.75,458.22 L455.48,457.60 L456.21,458.50 L456.94,458.96 L457.67,460.61 L458.39,460.19 L459.12,459.52 L459.85,458.51 L460.58,458.10 L461.31,459.20 L462.04,460.01 L462.76,461.52 L463.49,460.93 L464.22,460.37 L464.95,459.44 L465.68,460.09 L466.41,460.24 L467.14,460.40 L467.86,461.63 L468.59,461.51 L469.32,460.62 L470.05,459.59 L470.78,460.27 L471.51,461.17 L472.24,461.56 L472.96,460.92 L473.69,460.08 L474.42,460.29 L475.15,460.90 L475.88,461.35 L476.61,461.45 L477.33,461.09 L478.06,461.38 L478.79,461.36 L479.52,460.99 L480.25,461.49 L480.98,460.96 L481.71,461.14 L482.43,460.51 L483.16,460.49 L483.89,460.94 L484.62,461.39 L485.35,461.40 L486.08,460.87 L486.81,460.19 L487.53,461.25 L488.26,462.26 L488.99,461.86 L489.72,461.06 L490.45,460.83 L491.18,460.83 L491.90,460.84 L492.63,461.92 L493.36,462.43 L494.09,462.55 L494.82,461.78 L495.55,461.73 L496.28,462.17 L497.00,462.03 L497.73,461.51 L498.46,461.86 L499.19,461.20 L499.92,461.25 L500.65,461.01 L501.38,461.53 L502.10,462.28 L502.83,462.56 L503.56,462.76 L504.29,462.24 L505.02,462.39 L505.75,463.03 L506.47,463.13 L507.20,463.04 L507.93,462.14 L508.66,462.53 L509.39,461.85 L510.12,462.47 L510.85,462.81" stroke="#b69bcf" stroke-width="1.3" stroke-opacity="0.85"/>
</g>
<line x1="356.40" y1="468.70" x2="511.60" y2="468.70" stroke="#000" stroke-width="2.0"/>
<rect x="356.40" y="416.20" width="155.20" height="57.70" fill="none" stroke="#333" stroke-width="1.1"/>
<line x1="451.80" y1="423.60" x2="458.90" y2="423.60" stroke="#1b4f8c" stroke-width="1.4"/>
<text x="461.90" y="425.80" font-size="6.1" text-anchor="start" font-weight="normal" fill="#111" stroke="#111" stroke-width="0.14">WT</text>
<line x1="451.80" y1="432.20" x2="458.90" y2="432.20" stroke="#e8848f" stroke-width="1.4"/>
<text x="461.90" y="434.40" font-size="6.1" text-anchor="start" font-weight="normal" fill="#111" stroke="#111" stroke-width="0.14">K1050E</text>
<line x1="451.80" y1="440.80" x2="458.90" y2="440.80" stroke="#b69bcf" stroke-width="1.4"/>
<text x="461.90" y="443.00" font-size="6.1" text-anchor="start" font-weight="normal" fill="#111" stroke="#111" stroke-width="0.14">WT + K1050E</text>
<clipPath id="clip481"><rect x="356.4" y="481.10" width="155.2" height="52.30"/></clipPath>
<g clip-path="url(#clip481)" fill="none" stroke-linejoin="round">
<path d="M354.22,527.17 L354.95,527.59 L355.68,527.38 L356.40,527.66 L357.13,528.03 L357.86,527.66 L358.59,528.25 L359.32,527.57 L360.05,526.80 L360.77,526.93 L361.50,525.34 L362.23,523.70 L362.96,518.48 L363.69,512.23 L364.42,505.02 L365.15,503.31 L365.87,507.27 L366.60,515.20 L367.33,521.65 L368.06,524.66 L368.79,526.26 L369.52,527.02 L370.25,527.99 L370.97,528.34 L371.70,528.28 L372.43,528.65 L373.16,527.62 L373.89,527.26 L374.62,526.74 L375.34,526.64 L376.07,526.75 L376.80,526.34 L377.53,523.49 L378.26,519.51 L378.99,512.74 L379.72,506.29 L380.44,504.22 L381.17,509.05 L381.90,516.23 L382.63,521.73 L383.36,525.74 L384.09,527.07 L384.82,528.03 L385.54,528.29 L386.27,528.57 L387.00,528.18 L387.73,528.15 L388.46,528.31 L389.19,528.32 L389.91,527.60 L390.64,526.05 L391.37,524.48 L392.10,522.01 L392.83,518.63 L393.56,516.61 L394.29,517.28 L395.01,520.04 L395.74,523.33 L396.47,526.11 L397.20,527.43 L397.93,528.00 L398.66,528.11 L399.39,528.14 L400.11,527.34 L400.84,527.32 L401.57,526.85 L402.30,525.83 L403.03,524.21 L403.76,521.77 L404.48,520.25 L405.21,519.91 L405.94,521.17 L406.67,524.24 L407.40,525.89 L408.13,527.17 L408.86,528.18 L409.58,528.71 L410.31,528.02 L411.04,528.40 L411.77,527.75 L412.50,527.87 L413.23,526.88 L413.96,525.37 L414.68,521.84 L415.41,517.62 L416.14,515.71 L416.87,516.56 L417.60,519.33 L418.33,523.24 L419.05,525.66 L419.78,526.58 L420.51,526.70 L421.24,527.50 L421.97,527.08 L422.70,527.01 L423.43,525.88 L424.15,522.35 L424.88,519.73 L425.61,516.47 L426.34,516.58 L427.07,519.38 L427.80,522.53 L428.53,524.96 L429.25,526.76 L429.98,527.40 L430.71,527.86 L431.44,526.95 L432.17,525.87 L432.90,524.18 L433.62,522.77 L434.35,520.88 L435.08,521.05 L435.81,522.17 L436.54,524.05 L437.27,525.23 L438.00,526.23 L438.72,526.56 L439.45,526.20 L440.18,526.18 L440.91,524.61 L441.64,523.70 L442.37,522.90 L443.10,523.95 L443.82,524.64 L444.55,526.74 L445.28,526.84 L446.01,526.62 L446.74,526.69 L447.47,525.44 L448.19,524.63 L448.92,523.05 L449.65,522.22 L450.38,522.94 L451.11,524.91 L451.84,525.65 L452.57,526.94 L453.29,526.32 L454.02,525.36 L454.75,524.10 L455.48,522.87 L456.21,523.47 L456.94,523.86 L457.67,525.12 L458.39,525.11 L459.12,524.34 L459.85,523.35 L460.58,523.41 L461.31,524.73 L462.04,526.26 L462.76,526.09 L463.49,526.33 L464.22,525.41 L464.95,524.00 L465.68,523.88 L466.41,524.19 L467.14,524.99 L467.86,525.68 L468.59,526.00 L469.32,524.94 L470.05,524.32 L470.78,524.01 L471.51,524.78 L472.24,524.96 L472.96,524.45 L473.69,524.24 L474.42,523.88 L475.15,524.18 L475.88,525.50 L476.61,524.95 L477.33,524.26 L478.06,523.89 L478.79,524.92 L479.52,526.10 L480.25,526.90 L480.98,526.63 L481.71,525.39 L482.43,525.32 L483.16,526.29 L483.89,526.88 L484.62,527.44 L485.35,526.62 L486.08,525.50 L486.81,524.65 L487.53,525.79 L488.26,526.54 L488.99,527.26 L489.72,526.25 L490.45,525.34 L491.18,525.23 L491.90,525.10 L492.63,525.96 L493.36,526.06 L494.09,526.09 L494.82,525.86 L495.55,524.93 L496.28,525.09 L497.00,525.91 L497.73,525.99 L498.46,525.96 L499.19,525.37 L499.92,526.00 L500.65,526.75 L501.38,527.58 L502.10,527.35 L502.83,526.68 L503.56,526.65 L504.29,526.21 L505.02,526.94 L505.75,526.99 L506.47,526.86 L507.20,527.37 L507.93,526.17 L508.66,525.91 L509.39,526.95 L510.12,527.75 L510.85,528.70" stroke="#4b2a7e" stroke-width="1.3" stroke-opacity="1"/>
<path d="M354.22,529.01 L354.95,529.50 L355.68,529.17 L356.40,529.48 L357.13,528.63 L357.86,528.93 L358.59,529.32 L359.32,529.40 L360.05,529.30 L360.77,529.11 L361.50,528.08 L362.23,526.64 L362.96,524.42 L363.69,520.55 L364.42,517.66 L365.15,515.77 L365.87,517.39 L366.60,521.00 L367.33,524.56 L368.06,526.62 L368.79,527.53 L369.52,528.79 L370.25,528.87 L370.97,528.73 L371.70,529.22 L372.43,529.66 L373.16,528.74 L373.89,528.92 L374.62,528.77 L375.34,527.97 L376.07,527.95 L376.80,528.28 L377.53,526.89 L378.26,526.32 L378.99,525.64 L379.72,523.49 L380.44,523.63 L381.17,524.74 L381.90,525.57 L382.63,526.81 L383.36,528.65 L384.09,528.93 L384.82,529.08 L385.54,529.01 L386.27,529.43 L387.00,529.04 L387.73,529.66 L388.46,529.68 L389.19,529.52 L389.91,528.43 L390.64,529.09 L391.37,528.09 L392.10,528.07 L392.83,527.08 L393.56,526.77 L394.29,526.93 L395.01,527.06 L395.74,528.00 L396.47,529.09 L397.20,529.71 L397.93,530.12 L398.66,529.05 L399.39,528.74 L400.11,528.01 L400.84,528.00 L401.57,529.03 L402.30,528.44 L403.03,527.63 L403.76,526.95 L404.48,526.78 L405.21,527.13 L405.94,527.61 L406.67,527.60 L407.40,528.59 L408.13,528.74 L408.86,528.88 L409.58,528.14 L410.31,527.93 L411.04,527.59 L411.77,527.53 L412.50,528.35 L413.23,528.83 L413.96,528.46 L414.68,528.29 L415.41,527.60 L416.14,526.75 L416.87,526.26 L417.60,526.98 L418.33,527.26 L419.05,528.70 L419.78,529.09 L420.51,528.21 L421.24,529.07 L421.97,529.10 L422.70,529.62 L423.43,529.72 L424.15,528.14 L424.88,526.76 L425.61,526.42 L426.34,527.38 L427.07,528.10 L427.80,528.90 L428.53,528.71 L429.25,528.56 L429.98,528.83 L430.71,528.81 L431.44,529.42 L432.17,528.93 L432.90,527.72 L433.62,527.08 L434.35,527.68 L435.08,527.52 L435.81,527.47 L436.54,528.45 L437.27,528.05 L438.00,528.52 L438.72,528.33 L439.45,528.62 L440.18,527.64 L440.91,527.19 L441.64,527.11 L442.37,527.82 L443.10,528.04 L443.82,529.12 L444.55,528.94 L445.28,528.36 L446.01,529.13 L446.74,528.95 L447.47,528.73 L448.19,528.52 L448.92,527.69 L449.65,526.81 L450.38,526.91 L451.11,527.65 L451.84,527.39 L452.57,528.25 L453.29,527.91 L454.02,527.62 L454.75,527.06 L455.48,526.56 L456.21,527.55 L456.94,527.73 L457.67,528.27 L458.39,528.03 L459.12,527.19 L459.85,527.15 L460.58,528.27 L461.31,528.42 L462.04,528.22 L462.76,527.78 L463.49,527.75 L464.22,527.26 L464.95,528.21 L465.68,527.34 L466.41,527.40 L467.14,527.76 L467.86,527.41 L468.59,527.06 L469.32,527.99 L470.05,527.30 L470.78,527.14 L471.51,528.13 L472.24,527.78 L472.96,527.68 L473.69,528.18 L474.42,527.53 L475.15,528.43 L475.88,528.22 L476.61,528.27 L477.33,528.46 L478.06,528.05 L478.79,528.17 L479.52,528.82 L480.25,527.91 L480.98,528.69 L481.71,529.12 L482.43,528.57 L483.16,527.86 L483.89,527.88 L484.62,527.70 L485.35,527.88 L486.08,527.50 L486.81,527.86 L487.53,528.38 L488.26,528.46 L488.99,529.26 L489.72,529.49 L490.45,528.34 L491.18,528.63 L491.90,528.04 L492.63,527.78 L493.36,528.23 L494.09,527.88 L494.82,527.31 L495.55,526.86 L496.28,528.01 L497.00,528.81 L497.73,528.89 L498.46,528.63 L499.19,528.59 L499.92,529.05 L500.65,528.62 L501.38,527.83 L502.10,528.33 L502.83,528.18 L503.56,528.17 L504.29,528.08 L505.02,527.53 L505.75,528.29 L506.47,528.14 L507.20,528.17 L507.93,527.92 L508.66,527.18 L509.39,528.37 L510.12,528.08 L510.85,528.88" stroke="#e8848f" stroke-width="1.3" stroke-opacity="0.9"/>
<path d="M354.22,529.05 L354.95,529.43 L355.68,528.99 L356.40,528.81 L357.13,528.45 L357.86,527.96 L358.59,528.67 L359.32,529.38 L360.05,528.43 L360.77,529.02 L361.50,527.78 L362.23,527.31 L362.96,524.60 L363.69,521.25 L364.42,517.95 L365.15,517.32 L365.87,519.02 L366.60,522.99 L367.33,525.50 L368.06,527.55 L368.79,527.78 L369.52,527.94 L370.25,528.41 L370.97,528.60 L371.70,529.43 L372.43,529.92 L373.16,529.42 L373.89,529.26 L374.62,528.63 L375.34,528.59 L376.07,529.20 L376.80,529.09 L377.53,528.13 L378.26,527.33 L378.99,526.89 L379.72,524.97 L380.44,524.17 L381.17,525.79 L381.90,526.89 L382.63,528.13 L383.36,528.30 L384.09,529.00 L384.82,529.47 L385.54,529.37 L386.27,528.61 L387.00,529.40 L387.73,529.84 L388.46,529.38 L389.19,528.70 L389.91,528.77 L390.64,528.80 L391.37,527.95 L392.10,527.19 L392.83,527.42 L393.56,526.37 L394.29,527.18 L395.01,528.04 L395.74,528.06 L396.47,528.72 L397.20,528.55 L397.93,529.32 L398.66,528.74 L399.39,529.37 L400.11,529.79 L400.84,529.51 L401.57,529.50 L402.30,529.05 L403.03,528.00 L403.76,527.37 L404.48,527.86 L405.21,527.93 L405.94,528.07 L406.67,528.52 L407.40,528.57 L408.13,528.92 L408.86,529.68 L409.58,529.87 L410.31,529.10 L411.04,529.34 L411.77,528.89 L412.50,528.26 L413.23,528.29 L413.96,528.04 L414.68,527.71 L415.41,527.67 L416.14,526.77 L416.87,527.23 L417.60,527.26 L418.33,528.36 L419.05,528.26 L419.78,528.29 L420.51,528.52 L421.24,528.87 L421.97,529.48 L422.70,528.85 L423.43,528.88 L424.15,528.19 L424.88,528.26 L425.61,528.28 L426.34,528.50 L427.07,528.12 L427.80,529.04 L428.53,528.62 L429.25,529.11 L429.98,529.07 L430.71,529.33 L431.44,529.03 L432.17,529.47 L432.90,529.06 L433.62,527.80 L434.35,528.01 L435.08,527.65 L435.81,528.27 L436.54,528.93 L437.27,529.81 L438.00,530.32 L438.72,529.23 L439.45,528.64 L440.18,528.17 L440.91,527.66 L441.64,526.98 L442.37,527.76 L443.10,527.90 L443.82,528.38 L444.55,528.67 L445.28,528.32 L446.01,528.32 L446.74,527.93 L447.47,528.76 L448.19,528.28 L448.92,527.77 L449.65,527.35 L450.38,527.53 L451.11,527.62 L451.84,528.55 L452.57,528.17 L453.29,528.52 L454.02,528.23 L454.75,527.42 L455.48,527.19 L456.21,527.86 L456.94,528.63 L457.67,529.01 L458.39,528.70 L459.12,527.79 L459.85,527.28 L460.58,527.80 L461.31,528.34 L462.04,528.19 L462.76,528.83 L463.49,528.88 L464.22,529.29 L464.95,529.19 L465.68,528.73 L466.41,528.46 L467.14,528.53 L467.86,528.87 L468.59,528.05 L469.32,527.85 L470.05,528.37 L470.78,528.96 L471.51,528.16 L472.24,527.63 L472.96,527.25 L473.69,527.38 L474.42,527.95 L475.15,528.78 L475.88,529.08 L476.61,529.20 L477.33,528.11 L478.06,527.51 L478.79,527.51 L479.52,528.56 L480.25,529.02 L480.98,529.05 L481.71,527.98 L482.43,528.47 L483.16,528.06 L483.89,528.13 L484.62,528.33 L485.35,527.69 L486.08,528.14 L486.81,528.05 L487.53,528.72 L488.26,529.36 L488.99,529.81 L489.72,529.50 L490.45,529.43 L491.18,529.48 L491.90,528.39 L492.63,528.89 L493.36,528.29 L494.09,528.04 L494.82,527.68 L495.55,527.58 L496.28,527.30 L497.00,527.40 L497.73,527.65 L498.46,527.86 L499.19,527.62 L499.92,527.45 L500.65,527.80 L501.38,528.24 L502.10,528.97 L502.83,528.25 L503.56,528.16 L504.29,528.72 L505.02,529.12 L505.75,528.51 L506.47,529.00 L507.20,528.93 L507.93,528.30 L508.66,527.70 L509.39,528.34 L510.12,528.88 L510.85,529.26" stroke="#34b23c" stroke-width="1.3" stroke-opacity="1"/>
<path d="M354.22,527.53 L354.95,527.28 L355.68,527.75 L356.40,527.36 L357.13,527.06 L357.86,527.09 L358.59,526.69 L359.32,526.41 L360.05,526.67 L360.77,526.48 L361.50,525.98 L362.23,522.85 L362.96,517.38 L363.69,510.56 L364.42,503.44 L365.15,501.18 L365.87,505.85 L366.60,514.08 L367.33,520.11 L368.06,524.10 L368.79,525.92 L369.52,526.97 L370.25,527.17 L370.97,527.05 L371.70,527.14 L372.43,527.08 L373.16,527.93 L373.89,528.23 L374.62,527.97 L375.34,527.42 L376.07,527.34 L376.80,525.82 L377.53,523.14 L378.26,519.08 L378.99,512.08 L379.72,505.58 L380.44,503.84 L381.17,508.48 L381.90,515.52 L382.63,521.79 L383.36,525.60 L384.09,527.65 L384.82,527.97 L385.54,528.12 L386.27,527.87 L387.00,527.73 L387.73,528.08 L388.46,527.38 L389.19,528.06 L389.91,527.68 L390.64,526.99 L391.37,525.18 L392.10,522.71 L392.83,518.67 L393.56,516.76 L394.29,518.26 L395.01,520.91 L395.74,524.48 L396.47,526.31 L397.20,527.52 L397.93,527.80 L398.66,527.32 L399.39,527.12 L400.11,527.50 L400.84,527.11 L401.57,526.82 L402.30,526.41 L403.03,525.48 L403.76,523.21 L404.48,521.34 L405.21,520.54 L405.94,521.71 L406.67,523.99 L407.40,526.08 L408.13,526.58 L408.86,527.89 L409.58,528.44 L410.31,528.11 L411.04,527.78 L411.77,528.13 L412.50,527.37 L413.23,525.84 L413.96,524.17 L414.68,521.06 L415.41,517.58 L416.14,515.30 L416.87,515.59 L417.60,519.40 L418.33,522.41 L419.05,524.59 L419.78,526.12 L420.51,527.22 L421.24,526.73 L421.97,526.81 L422.70,526.41 L423.43,525.13 L424.15,521.71 L424.88,518.48 L425.61,516.25 L426.34,516.59 L427.07,520.04 L427.80,523.07 L428.53,525.58 L429.25,527.15 L429.98,527.20 L430.71,526.95 L431.44,527.55 L432.17,526.65 L432.90,525.50 L433.62,522.88 L434.35,521.01 L435.08,521.39 L435.81,523.17 L436.54,525.44 L437.27,526.06 L438.00,527.27 L438.72,527.31 L439.45,527.12 L440.18,526.15 L440.91,524.81 L441.64,523.19 L442.37,523.21 L443.10,523.45 L443.82,525.24 L444.55,526.42 L445.28,527.40 L446.01,527.80 L446.74,527.28 L447.47,526.28 L448.19,524.73 L448.92,522.32 L449.65,521.02 L450.38,522.27 L451.11,524.18 L451.84,525.70 L452.57,525.88 L453.29,525.30 L454.02,524.40 L454.75,523.68 L455.48,522.15 L456.21,522.73 L456.94,523.97 L457.67,524.81 L458.39,524.97 L459.12,524.50 L459.85,523.23 L460.58,523.60 L461.31,524.74 L462.04,525.36 L462.76,526.50 L463.49,526.52 L464.22,525.16 L464.95,524.99 L465.68,524.27 L466.41,524.83 L467.14,525.90 L467.86,526.59 L468.59,525.77 L469.32,524.54 L470.05,524.68 L470.78,524.85 L471.51,525.35 L472.24,525.65 L472.96,525.62 L473.69,525.52 L474.42,525.13 L475.15,525.14 L475.88,526.26 L476.61,526.43 L477.33,525.36 L478.06,524.77 L478.79,525.10 L479.52,526.53 L480.25,526.38 L480.98,525.52 L481.71,524.54 L482.43,524.37 L483.16,525.69 L483.89,525.85 L484.62,526.72 L485.35,526.28 L486.08,525.21 L486.81,524.90 L487.53,525.97 L488.26,526.78 L488.99,526.36 L489.72,526.71 L490.45,525.91 L491.18,525.72 L491.90,526.46 L492.63,526.68 L493.36,527.53 L494.09,527.59 L494.82,526.90 L495.55,526.91 L496.28,527.39 L497.00,527.33 L497.73,527.01 L498.46,526.26 L499.19,526.42 L499.92,526.16 L500.65,526.63 L501.38,526.90 L502.10,527.16 L502.83,526.40 L503.56,526.36 L504.29,526.77 L505.02,526.60 L505.75,527.55 L506.47,527.46 L507.20,527.28 L507.93,526.35 L508.66,526.31 L509.39,526.62 L510.12,527.69 L510.85,528.14" stroke="#c8112f" stroke-width="1.3" stroke-opacity="1"/>
</g>
<line x1="356.40" y1="533.40" x2="511.60" y2="533.40" stroke="#000" stroke-width="2.0"/>
<rect x="356.40" y="481.10" width="155.20" height="57.80" fill="none" stroke="#333" stroke-width="1.1"/>
<line x1="451.80" y1="487.00" x2="458.90" y2="487.00" stroke="#c8112f" stroke-width="1.4"/>
<text x="461.90" y="489.20" font-size="6.1" text-anchor="start" font-weight="normal" fill="#111" stroke="#111" stroke-width="0.14">L557P</text>
<line x1="451.80" y1="495.00" x2="458.90" y2="495.00" stroke="#f2b8c0" stroke-width="1.4"/>
<text x="461.90" y="497.20" font-size="6.1" text-anchor="start" font-weight="normal" fill="#111" stroke="#111" stroke-width="0.14">K1050E</text>
<line x1="451.80" y1="503.00" x2="458.90" y2="503.00" stroke="#34b23c" stroke-width="1.4"/>
<text x="461.90" y="505.20" font-size="6.1" text-anchor="start" font-weight="normal" fill="#111" stroke="#111" stroke-width="0.14">L557P + K1050E</text>
<line x1="451.80" y1="511.00" x2="458.90" y2="511.00" stroke="#4b2a7e" stroke-width="1.4"/>
<text x="461.90" y="513.20" font-size="6.1" text-anchor="start" font-weight="normal" fill="#111" stroke="#111" stroke-width="0.14">WT + L557P</text>
<rect x="0.5" y="0.5" width="519" height="613" fill="none" stroke="#000" stroke-width="1.2"/>
</svg>
</body></html>
